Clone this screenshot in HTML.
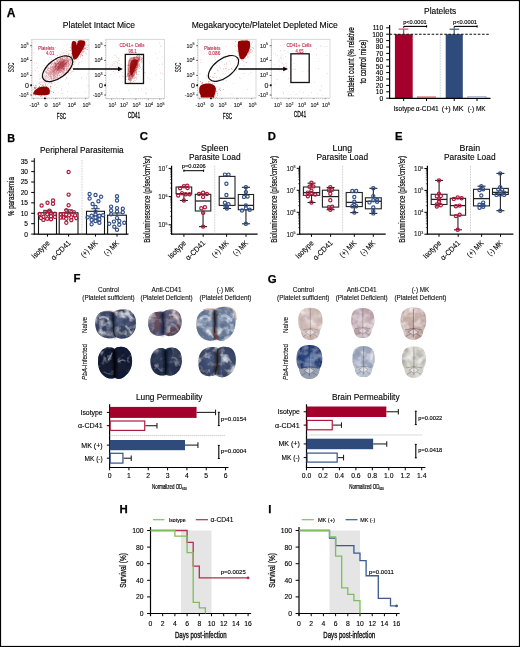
<!DOCTYPE html>
<html><head><meta charset="utf-8"><style>
html,body{margin:0;padding:0;background:#fff;}
svg{display:block;font-family:"Liberation Sans", sans-serif;will-change:transform;}
</style></head><body>
<svg width="520" height="647" viewBox="0 0 520 647">
<defs><filter id="bl"><feGaussianBlur stdDeviation="0.7"/></filter><radialGradient id="og1" cx="50%" cy="45%" r="65%"><stop offset="0" stop-color="#64729a"/><stop offset="1" stop-color="#2c3656"/></radialGradient><filter id="of1" x="-5%" y="-5%" width="110%" height="110%">
<feTurbulence type="fractalNoise" baseFrequency="0.11" numOctaves="3" seed="11" result="n"/>
<feColorMatrix in="n" type="matrix" values="0 0 0 0 0.800  0 0 0 0 0.839  0 0 0 0 0.918  2.6 0 0 0 -1.1" result="w"/>
<feComposite in="w" in2="SourceGraphic" operator="in" result="wc"/>
<feColorMatrix in="n" type="matrix" values="0 0 0 0 0.039  0 0 0 0 0.055  0 0 0 0 0.110  0 3 0 0 -1.05" result="d"/>
<feComposite in="d" in2="SourceGraphic" operator="in" result="dc"/>
<feMerge><feMergeNode in="SourceGraphic"/><feMergeNode in="wc"/><feMergeNode in="dc"/></feMerge>
</filter><radialGradient id="og2" cx="50%" cy="45%" r="65%"><stop offset="0" stop-color="#7a6070"/><stop offset="1" stop-color="#48323f"/></radialGradient><filter id="of2" x="-5%" y="-5%" width="110%" height="110%">
<feTurbulence type="fractalNoise" baseFrequency="0.11" numOctaves="3" seed="12" result="n"/>
<feColorMatrix in="n" type="matrix" values="0 0 0 0 0.769  0 0 0 0 0.682  0 0 0 0 0.733  2.4 0 0 0 -1.05" result="w"/>
<feComposite in="w" in2="SourceGraphic" operator="in" result="wc"/>
<feColorMatrix in="n" type="matrix" values="0 0 0 0 0.094  0 0 0 0 0.125  0 0 0 0 0.235  0 2.6 0 0 -1.05" result="d"/>
<feComposite in="d" in2="SourceGraphic" operator="in" result="dc"/>
<feMerge><feMergeNode in="SourceGraphic"/><feMergeNode in="wc"/><feMergeNode in="dc"/></feMerge>
</filter><radialGradient id="og3" cx="50%" cy="45%" r="65%"><stop offset="0" stop-color="#90a4c0"/><stop offset="1" stop-color="#5a6e92"/></radialGradient><filter id="of3" x="-5%" y="-5%" width="110%" height="110%">
<feTurbulence type="fractalNoise" baseFrequency="0.11" numOctaves="3" seed="13" result="n"/>
<feColorMatrix in="n" type="matrix" values="0 0 0 0 0.886  0 0 0 0 0.910  0 0 0 0 0.949  2.6 0 0 0 -1.1" result="w"/>
<feComposite in="w" in2="SourceGraphic" operator="in" result="wc"/>
<feColorMatrix in="n" type="matrix" values="0 0 0 0 0.110  0 0 0 0 0.165  0 0 0 0 0.267  0 2.8 0 0 -1.0" result="d"/>
<feComposite in="d" in2="SourceGraphic" operator="in" result="dc"/>
<feMerge><feMergeNode in="SourceGraphic"/><feMergeNode in="wc"/><feMergeNode in="dc"/></feMerge>
</filter><radialGradient id="og4" cx="50%" cy="45%" r="65%"><stop offset="0" stop-color="#181e32"/><stop offset="1" stop-color="#182040"/></radialGradient><filter id="of4" x="-5%" y="-5%" width="110%" height="110%">
<feTurbulence type="fractalNoise" baseFrequency="0.11" numOctaves="3" seed="14" result="n"/>
<feColorMatrix in="n" type="matrix" values="0 0 0 0 0.541  0 0 0 0 0.604  0 0 0 0 0.753  2.2 0 0 0 -1.2" result="w"/>
<feComposite in="w" in2="SourceGraphic" operator="in" result="wc"/>
<feColorMatrix in="n" type="matrix" values="0 0 0 0 0.008  0 0 0 0 0.012  0 0 0 0 0.031  0 2.6 0 0 -0.6" result="d"/>
<feComposite in="d" in2="SourceGraphic" operator="in" result="dc"/>
<feMerge><feMergeNode in="SourceGraphic"/><feMergeNode in="wc"/><feMergeNode in="dc"/></feMerge>
</filter><radialGradient id="og5" cx="50%" cy="45%" r="65%"><stop offset="0" stop-color="#303c5a"/><stop offset="1" stop-color="#1c2440"/></radialGradient><filter id="of5" x="-5%" y="-5%" width="110%" height="110%">
<feTurbulence type="fractalNoise" baseFrequency="0.11" numOctaves="3" seed="15" result="n"/>
<feColorMatrix in="n" type="matrix" values="0 0 0 0 0.541  0 0 0 0 0.604  0 0 0 0 0.729  2.2 0 0 0 -1.15" result="w"/>
<feComposite in="w" in2="SourceGraphic" operator="in" result="wc"/>
<feColorMatrix in="n" type="matrix" values="0 0 0 0 0.031  0 0 0 0 0.047  0 0 0 0 0.094  0 2.6 0 0 -0.8" result="d"/>
<feComposite in="d" in2="SourceGraphic" operator="in" result="dc"/>
<feMerge><feMergeNode in="SourceGraphic"/><feMergeNode in="wc"/><feMergeNode in="dc"/></feMerge>
</filter><radialGradient id="og6" cx="50%" cy="45%" r="65%"><stop offset="0" stop-color="#56668e"/><stop offset="1" stop-color="#2c385c"/></radialGradient><filter id="of6" x="-5%" y="-5%" width="110%" height="110%">
<feTurbulence type="fractalNoise" baseFrequency="0.11" numOctaves="3" seed="16" result="n"/>
<feColorMatrix in="n" type="matrix" values="0 0 0 0 0.706  0 0 0 0 0.761  0 0 0 0 0.863  2.6 0 0 0 -1.2" result="w"/>
<feComposite in="w" in2="SourceGraphic" operator="in" result="wc"/>
<feColorMatrix in="n" type="matrix" values="0 0 0 0 0.047  0 0 0 0 0.063  0 0 0 0 0.125  0 2.6 0 0 -0.95" result="d"/>
<feComposite in="d" in2="SourceGraphic" operator="in" result="dc"/>
<feMerge><feMergeNode in="SourceGraphic"/><feMergeNode in="wc"/><feMergeNode in="dc"/></feMerge>
</filter><filter id="bl2" filterUnits="userSpaceOnUse" x="0" y="0" width="520" height="647"><feGaussianBlur stdDeviation="1.2"/></filter><filter id="bl3" filterUnits="userSpaceOnUse" x="0" y="0" width="520" height="647"><feGaussianBlur stdDeviation="0.7"/></filter><radialGradient id="og7" cx="50%" cy="40%" r="62%"><stop offset="0" stop-color="#dccbc4"/><stop offset="1" stop-color="#c0aaa2"/></radialGradient><filter id="of7" x="-5%" y="-5%" width="110%" height="110%">
<feTurbulence type="fractalNoise" baseFrequency="0.13" numOctaves="3" seed="17" result="n"/>
<feColorMatrix in="n" type="matrix" values="0 0 0 0 0.929  0 0 0 0 0.902  0 0 0 0 0.894  2.0 0 0 0 -0.8" result="w"/>
<feComposite in="w" in2="SourceGraphic" operator="in" result="wc"/>
<feColorMatrix in="n" type="matrix" values="0 0 0 0 0.502  0 0 0 0 0.376  0 0 0 0 0.408  0 1.8 0 0 -0.85" result="d"/>
<feComposite in="d" in2="SourceGraphic" operator="in" result="dc"/>
<feMerge><feMergeNode in="SourceGraphic"/><feMergeNode in="wc"/><feMergeNode in="dc"/></feMerge>
</filter><radialGradient id="og8" cx="50%" cy="40%" r="62%"><stop offset="0" stop-color="#d2bcc0"/><stop offset="1" stop-color="#b0969c"/></radialGradient><filter id="of8" x="-5%" y="-5%" width="110%" height="110%">
<feTurbulence type="fractalNoise" baseFrequency="0.13" numOctaves="3" seed="18" result="n"/>
<feColorMatrix in="n" type="matrix" values="0 0 0 0 0.910  0 0 0 0 0.871  0 0 0 0 0.886  2.0 0 0 0 -0.8" result="w"/>
<feComposite in="w" in2="SourceGraphic" operator="in" result="wc"/>
<feColorMatrix in="n" type="matrix" values="0 0 0 0 0.439  0 0 0 0 0.345  0 0 0 0 0.439  0 1.8 0 0 -0.85" result="d"/>
<feComposite in="d" in2="SourceGraphic" operator="in" result="dc"/>
<feMerge><feMergeNode in="SourceGraphic"/><feMergeNode in="wc"/><feMergeNode in="dc"/></feMerge>
</filter><radialGradient id="og9" cx="50%" cy="40%" r="62%"><stop offset="0" stop-color="#d4bcb4"/><stop offset="1" stop-color="#b49890"/></radialGradient><filter id="of9" x="-5%" y="-5%" width="110%" height="110%">
<feTurbulence type="fractalNoise" baseFrequency="0.13" numOctaves="3" seed="19" result="n"/>
<feColorMatrix in="n" type="matrix" values="0 0 0 0 0.922  0 0 0 0 0.871  0 0 0 0 0.863  2.0 0 0 0 -0.8" result="w"/>
<feComposite in="w" in2="SourceGraphic" operator="in" result="wc"/>
<feColorMatrix in="n" type="matrix" values="0 0 0 0 0.416  0 0 0 0 0.290  0 0 0 0 0.314  0 1.8 0 0 -0.85" result="d"/>
<feComposite in="d" in2="SourceGraphic" operator="in" result="dc"/>
<feMerge><feMergeNode in="SourceGraphic"/><feMergeNode in="wc"/><feMergeNode in="dc"/></feMerge>
</filter><radialGradient id="og10" cx="50%" cy="40%" r="62%"><stop offset="0" stop-color="#2e4c88"/><stop offset="1" stop-color="#1c3066"/></radialGradient><filter id="of10" x="-5%" y="-5%" width="110%" height="110%">
<feTurbulence type="fractalNoise" baseFrequency="0.13" numOctaves="3" seed="20" result="n"/>
<feColorMatrix in="n" type="matrix" values="0 0 0 0 0.424  0 0 0 0 0.533  0 0 0 0 0.753  1.4 0 0 0 -0.5" result="w"/>
<feComposite in="w" in2="SourceGraphic" operator="in" result="wc"/>
<feColorMatrix in="n" type="matrix" values="0 0 0 0 0.039  0 0 0 0 0.078  0 0 0 0 0.188  0 1.8 0 0 -0.85" result="d"/>
<feComposite in="d" in2="SourceGraphic" operator="in" result="dc"/>
<feMerge><feMergeNode in="SourceGraphic"/><feMergeNode in="wc"/><feMergeNode in="dc"/></feMerge>
</filter><radialGradient id="og11" cx="50%" cy="40%" r="62%"><stop offset="0" stop-color="#aeb6c8"/><stop offset="1" stop-color="#8e9ab2"/></radialGradient><filter id="of11" x="-5%" y="-5%" width="110%" height="110%">
<feTurbulence type="fractalNoise" baseFrequency="0.13" numOctaves="3" seed="21" result="n"/>
<feColorMatrix in="n" type="matrix" values="0 0 0 0 0.867  0 0 0 0 0.882  0 0 0 0 0.918  2.0 0 0 0 -0.8" result="w"/>
<feComposite in="w" in2="SourceGraphic" operator="in" result="wc"/>
<feColorMatrix in="n" type="matrix" values="0 0 0 0 0.227  0 0 0 0 0.282  0 0 0 0 0.408  0 1.8 0 0 -0.85" result="d"/>
<feComposite in="d" in2="SourceGraphic" operator="in" result="dc"/>
<feMerge><feMergeNode in="SourceGraphic"/><feMergeNode in="wc"/><feMergeNode in="dc"/></feMerge>
</filter><radialGradient id="og12" cx="50%" cy="40%" r="62%"><stop offset="0" stop-color="#d6d4ca"/><stop offset="1" stop-color="#b8b6ac"/></radialGradient><filter id="of12" x="-5%" y="-5%" width="110%" height="110%">
<feTurbulence type="fractalNoise" baseFrequency="0.13" numOctaves="3" seed="22" result="n"/>
<feColorMatrix in="n" type="matrix" values="0 0 0 0 0.922  0 0 0 0 0.918  0 0 0 0 0.894  2.0 0 0 0 -0.8" result="w"/>
<feComposite in="w" in2="SourceGraphic" operator="in" result="wc"/>
<feColorMatrix in="n" type="matrix" values="0 0 0 0 0.314  0 0 0 0 0.314  0 0 0 0 0.376  0 1.8 0 0 -0.85" result="d"/>
<feComposite in="d" in2="SourceGraphic" operator="in" result="dc"/>
<feMerge><feMergeNode in="SourceGraphic"/><feMergeNode in="wc"/><feMergeNode in="dc"/></feMerge>
</filter></defs>
<rect width="520" height="647" fill="#fff"/>
<rect x="0.5" y="0.5" width="519" height="646" fill="none" stroke="#000" stroke-width="1.2"/>
<text x="6.8" y="16.8" font-size="12" stroke="#000" stroke-width="0.25" font-weight="bold">A</text>
<text x="62.8" y="28" font-size="8.8" stroke="#000" stroke-width="0.12" textLength="72.2" lengthAdjust="spacingAndGlyphs">Platelet Intact Mice</text>
<text x="191.7" y="28" font-size="8.8" stroke="#000" stroke-width="0.12" textLength="146" lengthAdjust="spacingAndGlyphs">Megakaryocyte/Platelet Depleted Mice</text>
<rect x="32" y="39.3" width="57" height="58.7" fill="#fff" stroke="#cfcfcf" stroke-width="0.8"/>
<line x1="30.2" y1="45.7" x2="32" y2="45.7" stroke="#333" stroke-width="0.8"/>
<text x="28.6" y="47.6" font-size="5.4" stroke="#222" stroke-width="0.12" text-anchor="end" fill="#222">10<tspan font-size="3.6" dy="-2.2">5</tspan></text>
<line x1="30.2" y1="60.4" x2="32" y2="60.4" stroke="#333" stroke-width="0.8"/>
<text x="28.6" y="62.3" font-size="5.4" stroke="#222" stroke-width="0.12" text-anchor="end" fill="#222">10<tspan font-size="3.6" dy="-2.2">4</tspan></text>
<line x1="30.2" y1="75.4" x2="32" y2="75.4" stroke="#333" stroke-width="0.8"/>
<text x="28.6" y="77.3" font-size="5.4" stroke="#222" stroke-width="0.12" text-anchor="end" fill="#222">10<tspan font-size="3.6" dy="-2.2">3</tspan></text>
<line x1="30.2" y1="85.4" x2="32" y2="85.4" stroke="#333" stroke-width="0.8"/>
<text x="28.8" y="87.8" font-size="7" stroke="#111" stroke-width="0.12" text-anchor="end" fill="#111">0</text>
<line x1="30.2" y1="95" x2="32" y2="95" stroke="#333" stroke-width="0.8"/>
<text x="28.6" y="96.9" font-size="5.4" stroke="#222" stroke-width="0.12" text-anchor="end" fill="#222">-10<tspan font-size="3.6" dy="-2.2">3</tspan></text>
<line x1="31.1" y1="40" x2="32" y2="40" stroke="#777" stroke-width="0.4"/>
<line x1="31.1" y1="42.52" x2="32" y2="42.52" stroke="#777" stroke-width="0.4"/>
<line x1="31.1" y1="45.04" x2="32" y2="45.04" stroke="#777" stroke-width="0.4"/>
<line x1="31.1" y1="47.57" x2="32" y2="47.57" stroke="#777" stroke-width="0.4"/>
<line x1="31.1" y1="50.09" x2="32" y2="50.09" stroke="#777" stroke-width="0.4"/>
<line x1="31.1" y1="52.61" x2="32" y2="52.61" stroke="#777" stroke-width="0.4"/>
<line x1="31.1" y1="55.13" x2="32" y2="55.13" stroke="#777" stroke-width="0.4"/>
<line x1="31.1" y1="57.65" x2="32" y2="57.65" stroke="#777" stroke-width="0.4"/>
<line x1="31.1" y1="60.17" x2="32" y2="60.17" stroke="#777" stroke-width="0.4"/>
<line x1="31.1" y1="62.7" x2="32" y2="62.7" stroke="#777" stroke-width="0.4"/>
<line x1="31.1" y1="65.22" x2="32" y2="65.22" stroke="#777" stroke-width="0.4"/>
<line x1="31.1" y1="67.74" x2="32" y2="67.74" stroke="#777" stroke-width="0.4"/>
<line x1="31.1" y1="70.26" x2="32" y2="70.26" stroke="#777" stroke-width="0.4"/>
<line x1="31.1" y1="72.78" x2="32" y2="72.78" stroke="#777" stroke-width="0.4"/>
<line x1="31.1" y1="75.3" x2="32" y2="75.3" stroke="#777" stroke-width="0.4"/>
<line x1="31.1" y1="77.83" x2="32" y2="77.83" stroke="#777" stroke-width="0.4"/>
<line x1="31.1" y1="80.35" x2="32" y2="80.35" stroke="#777" stroke-width="0.4"/>
<line x1="31.1" y1="82.87" x2="32" y2="82.87" stroke="#777" stroke-width="0.4"/>
<line x1="31.1" y1="85.39" x2="32" y2="85.39" stroke="#777" stroke-width="0.4"/>
<line x1="31.1" y1="87.91" x2="32" y2="87.91" stroke="#777" stroke-width="0.4"/>
<line x1="31.1" y1="90.43" x2="32" y2="90.43" stroke="#777" stroke-width="0.4"/>
<line x1="31.1" y1="92.96" x2="32" y2="92.96" stroke="#777" stroke-width="0.4"/>
<line x1="31.1" y1="95.48" x2="32" y2="95.48" stroke="#777" stroke-width="0.4"/>
<line x1="31.1" y1="98" x2="32" y2="98" stroke="#777" stroke-width="0.4"/>
<line x1="33.6" y1="98" x2="33.6" y2="99.3" stroke="#777" stroke-width="0.7"/>
<text x="34.4" y="106.9" font-size="5.4" stroke="#222" stroke-width="0.12" text-anchor="middle" fill="#222">-10<tspan font-size="3.6" dy="-2.2">3</tspan></text>
<line x1="46" y1="98" x2="46" y2="99.3" stroke="#777" stroke-width="0.7"/>
<text x="46" y="106.9" font-size="5.6" stroke="#222" stroke-width="0.12" text-anchor="middle" fill="#222">0</text>
<line x1="55.8" y1="98" x2="55.8" y2="99.3" stroke="#777" stroke-width="0.7"/>
<text x="56.6" y="106.9" font-size="5.4" stroke="#222" stroke-width="0.12" text-anchor="middle" fill="#222">10<tspan font-size="3.6" dy="-2.2">3</tspan></text>
<line x1="71" y1="98" x2="71" y2="99.3" stroke="#777" stroke-width="0.7"/>
<text x="71.8" y="106.9" font-size="5.4" stroke="#222" stroke-width="0.12" text-anchor="middle" fill="#222">10<tspan font-size="3.6" dy="-2.2">4</tspan></text>
<line x1="85.6" y1="98" x2="85.6" y2="99.3" stroke="#777" stroke-width="0.7"/>
<text x="86.4" y="106.9" font-size="5.4" stroke="#222" stroke-width="0.12" text-anchor="middle" fill="#222">10<tspan font-size="3.6" dy="-2.2">5</tspan></text>
<line x1="33" y1="98" x2="33" y2="98.9" stroke="#777" stroke-width="0.4"/>
<line x1="35.04" y1="98" x2="35.04" y2="98.9" stroke="#777" stroke-width="0.4"/>
<line x1="37.07" y1="98" x2="37.07" y2="98.9" stroke="#777" stroke-width="0.4"/>
<line x1="39.11" y1="98" x2="39.11" y2="98.9" stroke="#777" stroke-width="0.4"/>
<line x1="41.15" y1="98" x2="41.15" y2="98.9" stroke="#777" stroke-width="0.4"/>
<line x1="43.19" y1="98" x2="43.19" y2="98.9" stroke="#777" stroke-width="0.4"/>
<line x1="45.22" y1="98" x2="45.22" y2="98.9" stroke="#777" stroke-width="0.4"/>
<line x1="47.26" y1="98" x2="47.26" y2="98.9" stroke="#777" stroke-width="0.4"/>
<line x1="49.3" y1="98" x2="49.3" y2="98.9" stroke="#777" stroke-width="0.4"/>
<line x1="51.33" y1="98" x2="51.33" y2="98.9" stroke="#777" stroke-width="0.4"/>
<line x1="53.37" y1="98" x2="53.37" y2="98.9" stroke="#777" stroke-width="0.4"/>
<line x1="55.41" y1="98" x2="55.41" y2="98.9" stroke="#777" stroke-width="0.4"/>
<line x1="57.44" y1="98" x2="57.44" y2="98.9" stroke="#777" stroke-width="0.4"/>
<line x1="59.48" y1="98" x2="59.48" y2="98.9" stroke="#777" stroke-width="0.4"/>
<line x1="61.52" y1="98" x2="61.52" y2="98.9" stroke="#777" stroke-width="0.4"/>
<line x1="63.56" y1="98" x2="63.56" y2="98.9" stroke="#777" stroke-width="0.4"/>
<line x1="65.59" y1="98" x2="65.59" y2="98.9" stroke="#777" stroke-width="0.4"/>
<line x1="67.63" y1="98" x2="67.63" y2="98.9" stroke="#777" stroke-width="0.4"/>
<line x1="69.67" y1="98" x2="69.67" y2="98.9" stroke="#777" stroke-width="0.4"/>
<line x1="71.7" y1="98" x2="71.7" y2="98.9" stroke="#777" stroke-width="0.4"/>
<line x1="73.74" y1="98" x2="73.74" y2="98.9" stroke="#777" stroke-width="0.4"/>
<line x1="75.78" y1="98" x2="75.78" y2="98.9" stroke="#777" stroke-width="0.4"/>
<line x1="77.81" y1="98" x2="77.81" y2="98.9" stroke="#777" stroke-width="0.4"/>
<line x1="79.85" y1="98" x2="79.85" y2="98.9" stroke="#777" stroke-width="0.4"/>
<line x1="81.89" y1="98" x2="81.89" y2="98.9" stroke="#777" stroke-width="0.4"/>
<line x1="83.93" y1="98" x2="83.93" y2="98.9" stroke="#777" stroke-width="0.4"/>
<line x1="85.96" y1="98" x2="85.96" y2="98.9" stroke="#777" stroke-width="0.4"/>
<line x1="88" y1="98" x2="88" y2="98.9" stroke="#777" stroke-width="0.4"/>
<text x="61.5" y="118.5" font-size="8.8" stroke="#111" stroke-width="0.3" text-anchor="middle" fill="#111" textLength="9.3" lengthAdjust="spacingAndGlyphs">FSC</text>
<text transform="translate(14.2,67.4) rotate(-90)" font-size="8.2" stroke="#111" stroke-width="0.15" text-anchor="middle" fill="#111" textLength="9.6" lengthAdjust="spacingAndGlyphs">SSC</text>
<rect x="106" y="39.3" width="58.5" height="59.2" fill="#fff" stroke="#cfcfcf" stroke-width="0.8"/>
<line x1="104.2" y1="45.7" x2="106" y2="45.7" stroke="#333" stroke-width="0.8"/>
<text x="102.6" y="47.6" font-size="5.4" stroke="#222" stroke-width="0.12" text-anchor="end" fill="#222">10<tspan font-size="3.6" dy="-2.2">5</tspan></text>
<line x1="104.2" y1="60.4" x2="106" y2="60.4" stroke="#333" stroke-width="0.8"/>
<text x="102.6" y="62.3" font-size="5.4" stroke="#222" stroke-width="0.12" text-anchor="end" fill="#222">10<tspan font-size="3.6" dy="-2.2">4</tspan></text>
<line x1="104.2" y1="75.4" x2="106" y2="75.4" stroke="#333" stroke-width="0.8"/>
<text x="102.6" y="77.3" font-size="5.4" stroke="#222" stroke-width="0.12" text-anchor="end" fill="#222">10<tspan font-size="3.6" dy="-2.2">3</tspan></text>
<line x1="104.2" y1="85.4" x2="106" y2="85.4" stroke="#333" stroke-width="0.8"/>
<text x="102.8" y="87.8" font-size="7" stroke="#111" stroke-width="0.12" text-anchor="end" fill="#111">0</text>
<line x1="104.2" y1="95" x2="106" y2="95" stroke="#333" stroke-width="0.8"/>
<text x="102.6" y="96.9" font-size="5.4" stroke="#222" stroke-width="0.12" text-anchor="end" fill="#222">-10<tspan font-size="3.6" dy="-2.2">3</tspan></text>
<line x1="105.1" y1="40" x2="106" y2="40" stroke="#777" stroke-width="0.4"/>
<line x1="105.1" y1="42.52" x2="106" y2="42.52" stroke="#777" stroke-width="0.4"/>
<line x1="105.1" y1="45.04" x2="106" y2="45.04" stroke="#777" stroke-width="0.4"/>
<line x1="105.1" y1="47.57" x2="106" y2="47.57" stroke="#777" stroke-width="0.4"/>
<line x1="105.1" y1="50.09" x2="106" y2="50.09" stroke="#777" stroke-width="0.4"/>
<line x1="105.1" y1="52.61" x2="106" y2="52.61" stroke="#777" stroke-width="0.4"/>
<line x1="105.1" y1="55.13" x2="106" y2="55.13" stroke="#777" stroke-width="0.4"/>
<line x1="105.1" y1="57.65" x2="106" y2="57.65" stroke="#777" stroke-width="0.4"/>
<line x1="105.1" y1="60.17" x2="106" y2="60.17" stroke="#777" stroke-width="0.4"/>
<line x1="105.1" y1="62.7" x2="106" y2="62.7" stroke="#777" stroke-width="0.4"/>
<line x1="105.1" y1="65.22" x2="106" y2="65.22" stroke="#777" stroke-width="0.4"/>
<line x1="105.1" y1="67.74" x2="106" y2="67.74" stroke="#777" stroke-width="0.4"/>
<line x1="105.1" y1="70.26" x2="106" y2="70.26" stroke="#777" stroke-width="0.4"/>
<line x1="105.1" y1="72.78" x2="106" y2="72.78" stroke="#777" stroke-width="0.4"/>
<line x1="105.1" y1="75.3" x2="106" y2="75.3" stroke="#777" stroke-width="0.4"/>
<line x1="105.1" y1="77.83" x2="106" y2="77.83" stroke="#777" stroke-width="0.4"/>
<line x1="105.1" y1="80.35" x2="106" y2="80.35" stroke="#777" stroke-width="0.4"/>
<line x1="105.1" y1="82.87" x2="106" y2="82.87" stroke="#777" stroke-width="0.4"/>
<line x1="105.1" y1="85.39" x2="106" y2="85.39" stroke="#777" stroke-width="0.4"/>
<line x1="105.1" y1="87.91" x2="106" y2="87.91" stroke="#777" stroke-width="0.4"/>
<line x1="105.1" y1="90.43" x2="106" y2="90.43" stroke="#777" stroke-width="0.4"/>
<line x1="105.1" y1="92.96" x2="106" y2="92.96" stroke="#777" stroke-width="0.4"/>
<line x1="105.1" y1="95.48" x2="106" y2="95.48" stroke="#777" stroke-width="0.4"/>
<line x1="105.1" y1="98" x2="106" y2="98" stroke="#777" stroke-width="0.4"/>
<line x1="111.7" y1="98.5" x2="111.7" y2="99.8" stroke="#777" stroke-width="0.7"/>
<text x="112.5" y="107.4" font-size="5.4" stroke="#222" stroke-width="0.12" text-anchor="middle" fill="#222">10<tspan font-size="3.6" dy="-2.2">1</tspan></text>
<line x1="123.3" y1="98.5" x2="123.3" y2="99.8" stroke="#777" stroke-width="0.7"/>
<text x="124.1" y="107.4" font-size="5.4" stroke="#222" stroke-width="0.12" text-anchor="middle" fill="#222">10<tspan font-size="3.6" dy="-2.2">2</tspan></text>
<line x1="135.8" y1="98.5" x2="135.8" y2="99.8" stroke="#777" stroke-width="0.7"/>
<text x="136.6" y="107.4" font-size="5.4" stroke="#222" stroke-width="0.12" text-anchor="middle" fill="#222">10<tspan font-size="3.6" dy="-2.2">3</tspan></text>
<line x1="148.3" y1="98.5" x2="148.3" y2="99.8" stroke="#777" stroke-width="0.7"/>
<text x="149.1" y="107.4" font-size="5.4" stroke="#222" stroke-width="0.12" text-anchor="middle" fill="#222">10<tspan font-size="3.6" dy="-2.2">4</tspan></text>
<line x1="159.8" y1="98.5" x2="159.8" y2="99.8" stroke="#777" stroke-width="0.7"/>
<text x="160.6" y="107.4" font-size="5.4" stroke="#222" stroke-width="0.12" text-anchor="middle" fill="#222">10<tspan font-size="3.6" dy="-2.2">5</tspan></text>
<line x1="107" y1="98.5" x2="107" y2="99.4" stroke="#777" stroke-width="0.4"/>
<line x1="109.09" y1="98.5" x2="109.09" y2="99.4" stroke="#777" stroke-width="0.4"/>
<line x1="111.19" y1="98.5" x2="111.19" y2="99.4" stroke="#777" stroke-width="0.4"/>
<line x1="113.28" y1="98.5" x2="113.28" y2="99.4" stroke="#777" stroke-width="0.4"/>
<line x1="115.37" y1="98.5" x2="115.37" y2="99.4" stroke="#777" stroke-width="0.4"/>
<line x1="117.46" y1="98.5" x2="117.46" y2="99.4" stroke="#777" stroke-width="0.4"/>
<line x1="119.56" y1="98.5" x2="119.56" y2="99.4" stroke="#777" stroke-width="0.4"/>
<line x1="121.65" y1="98.5" x2="121.65" y2="99.4" stroke="#777" stroke-width="0.4"/>
<line x1="123.74" y1="98.5" x2="123.74" y2="99.4" stroke="#777" stroke-width="0.4"/>
<line x1="125.83" y1="98.5" x2="125.83" y2="99.4" stroke="#777" stroke-width="0.4"/>
<line x1="127.93" y1="98.5" x2="127.93" y2="99.4" stroke="#777" stroke-width="0.4"/>
<line x1="130.02" y1="98.5" x2="130.02" y2="99.4" stroke="#777" stroke-width="0.4"/>
<line x1="132.11" y1="98.5" x2="132.11" y2="99.4" stroke="#777" stroke-width="0.4"/>
<line x1="134.2" y1="98.5" x2="134.2" y2="99.4" stroke="#777" stroke-width="0.4"/>
<line x1="136.3" y1="98.5" x2="136.3" y2="99.4" stroke="#777" stroke-width="0.4"/>
<line x1="138.39" y1="98.5" x2="138.39" y2="99.4" stroke="#777" stroke-width="0.4"/>
<line x1="140.48" y1="98.5" x2="140.48" y2="99.4" stroke="#777" stroke-width="0.4"/>
<line x1="142.57" y1="98.5" x2="142.57" y2="99.4" stroke="#777" stroke-width="0.4"/>
<line x1="144.67" y1="98.5" x2="144.67" y2="99.4" stroke="#777" stroke-width="0.4"/>
<line x1="146.76" y1="98.5" x2="146.76" y2="99.4" stroke="#777" stroke-width="0.4"/>
<line x1="148.85" y1="98.5" x2="148.85" y2="99.4" stroke="#777" stroke-width="0.4"/>
<line x1="150.94" y1="98.5" x2="150.94" y2="99.4" stroke="#777" stroke-width="0.4"/>
<line x1="153.04" y1="98.5" x2="153.04" y2="99.4" stroke="#777" stroke-width="0.4"/>
<line x1="155.13" y1="98.5" x2="155.13" y2="99.4" stroke="#777" stroke-width="0.4"/>
<line x1="157.22" y1="98.5" x2="157.22" y2="99.4" stroke="#777" stroke-width="0.4"/>
<line x1="159.31" y1="98.5" x2="159.31" y2="99.4" stroke="#777" stroke-width="0.4"/>
<line x1="161.41" y1="98.5" x2="161.41" y2="99.4" stroke="#777" stroke-width="0.4"/>
<line x1="163.5" y1="98.5" x2="163.5" y2="99.4" stroke="#777" stroke-width="0.4"/>
<text x="134" y="117.8" font-size="8.8" stroke="#111" stroke-width="0.3" text-anchor="middle" fill="#111" textLength="12.7" lengthAdjust="spacingAndGlyphs">CD41</text>
<rect x="198" y="39.3" width="58" height="58.7" fill="#fff" stroke="#cfcfcf" stroke-width="0.8"/>
<line x1="196.2" y1="45.7" x2="198" y2="45.7" stroke="#333" stroke-width="0.8"/>
<text x="194.6" y="47.6" font-size="5.4" stroke="#222" stroke-width="0.12" text-anchor="end" fill="#222">10<tspan font-size="3.6" dy="-2.2">5</tspan></text>
<line x1="196.2" y1="60.4" x2="198" y2="60.4" stroke="#333" stroke-width="0.8"/>
<text x="194.6" y="62.3" font-size="5.4" stroke="#222" stroke-width="0.12" text-anchor="end" fill="#222">10<tspan font-size="3.6" dy="-2.2">4</tspan></text>
<line x1="196.2" y1="75.4" x2="198" y2="75.4" stroke="#333" stroke-width="0.8"/>
<text x="194.6" y="77.3" font-size="5.4" stroke="#222" stroke-width="0.12" text-anchor="end" fill="#222">10<tspan font-size="3.6" dy="-2.2">3</tspan></text>
<line x1="196.2" y1="85.4" x2="198" y2="85.4" stroke="#333" stroke-width="0.8"/>
<text x="194.8" y="87.8" font-size="7" stroke="#111" stroke-width="0.12" text-anchor="end" fill="#111">0</text>
<line x1="196.2" y1="95" x2="198" y2="95" stroke="#333" stroke-width="0.8"/>
<text x="194.6" y="96.9" font-size="5.4" stroke="#222" stroke-width="0.12" text-anchor="end" fill="#222">-10<tspan font-size="3.6" dy="-2.2">3</tspan></text>
<line x1="197.1" y1="40" x2="198" y2="40" stroke="#777" stroke-width="0.4"/>
<line x1="197.1" y1="42.52" x2="198" y2="42.52" stroke="#777" stroke-width="0.4"/>
<line x1="197.1" y1="45.04" x2="198" y2="45.04" stroke="#777" stroke-width="0.4"/>
<line x1="197.1" y1="47.57" x2="198" y2="47.57" stroke="#777" stroke-width="0.4"/>
<line x1="197.1" y1="50.09" x2="198" y2="50.09" stroke="#777" stroke-width="0.4"/>
<line x1="197.1" y1="52.61" x2="198" y2="52.61" stroke="#777" stroke-width="0.4"/>
<line x1="197.1" y1="55.13" x2="198" y2="55.13" stroke="#777" stroke-width="0.4"/>
<line x1="197.1" y1="57.65" x2="198" y2="57.65" stroke="#777" stroke-width="0.4"/>
<line x1="197.1" y1="60.17" x2="198" y2="60.17" stroke="#777" stroke-width="0.4"/>
<line x1="197.1" y1="62.7" x2="198" y2="62.7" stroke="#777" stroke-width="0.4"/>
<line x1="197.1" y1="65.22" x2="198" y2="65.22" stroke="#777" stroke-width="0.4"/>
<line x1="197.1" y1="67.74" x2="198" y2="67.74" stroke="#777" stroke-width="0.4"/>
<line x1="197.1" y1="70.26" x2="198" y2="70.26" stroke="#777" stroke-width="0.4"/>
<line x1="197.1" y1="72.78" x2="198" y2="72.78" stroke="#777" stroke-width="0.4"/>
<line x1="197.1" y1="75.3" x2="198" y2="75.3" stroke="#777" stroke-width="0.4"/>
<line x1="197.1" y1="77.83" x2="198" y2="77.83" stroke="#777" stroke-width="0.4"/>
<line x1="197.1" y1="80.35" x2="198" y2="80.35" stroke="#777" stroke-width="0.4"/>
<line x1="197.1" y1="82.87" x2="198" y2="82.87" stroke="#777" stroke-width="0.4"/>
<line x1="197.1" y1="85.39" x2="198" y2="85.39" stroke="#777" stroke-width="0.4"/>
<line x1="197.1" y1="87.91" x2="198" y2="87.91" stroke="#777" stroke-width="0.4"/>
<line x1="197.1" y1="90.43" x2="198" y2="90.43" stroke="#777" stroke-width="0.4"/>
<line x1="197.1" y1="92.96" x2="198" y2="92.96" stroke="#777" stroke-width="0.4"/>
<line x1="197.1" y1="95.48" x2="198" y2="95.48" stroke="#777" stroke-width="0.4"/>
<line x1="197.1" y1="98" x2="198" y2="98" stroke="#777" stroke-width="0.4"/>
<line x1="199.6" y1="98" x2="199.6" y2="99.3" stroke="#777" stroke-width="0.7"/>
<text x="200.4" y="106.9" font-size="5.4" stroke="#222" stroke-width="0.12" text-anchor="middle" fill="#222">-10<tspan font-size="3.6" dy="-2.2">3</tspan></text>
<line x1="212" y1="98" x2="212" y2="99.3" stroke="#777" stroke-width="0.7"/>
<text x="212" y="106.9" font-size="5.6" stroke="#222" stroke-width="0.12" text-anchor="middle" fill="#222">0</text>
<line x1="221.8" y1="98" x2="221.8" y2="99.3" stroke="#777" stroke-width="0.7"/>
<text x="222.6" y="106.9" font-size="5.4" stroke="#222" stroke-width="0.12" text-anchor="middle" fill="#222">10<tspan font-size="3.6" dy="-2.2">3</tspan></text>
<line x1="237" y1="98" x2="237" y2="99.3" stroke="#777" stroke-width="0.7"/>
<text x="237.8" y="106.9" font-size="5.4" stroke="#222" stroke-width="0.12" text-anchor="middle" fill="#222">10<tspan font-size="3.6" dy="-2.2">4</tspan></text>
<line x1="251.6" y1="98" x2="251.6" y2="99.3" stroke="#777" stroke-width="0.7"/>
<text x="252.4" y="106.9" font-size="5.4" stroke="#222" stroke-width="0.12" text-anchor="middle" fill="#222">10<tspan font-size="3.6" dy="-2.2">5</tspan></text>
<line x1="199" y1="98" x2="199" y2="98.9" stroke="#777" stroke-width="0.4"/>
<line x1="201.07" y1="98" x2="201.07" y2="98.9" stroke="#777" stroke-width="0.4"/>
<line x1="203.15" y1="98" x2="203.15" y2="98.9" stroke="#777" stroke-width="0.4"/>
<line x1="205.22" y1="98" x2="205.22" y2="98.9" stroke="#777" stroke-width="0.4"/>
<line x1="207.3" y1="98" x2="207.3" y2="98.9" stroke="#777" stroke-width="0.4"/>
<line x1="209.37" y1="98" x2="209.37" y2="98.9" stroke="#777" stroke-width="0.4"/>
<line x1="211.44" y1="98" x2="211.44" y2="98.9" stroke="#777" stroke-width="0.4"/>
<line x1="213.52" y1="98" x2="213.52" y2="98.9" stroke="#777" stroke-width="0.4"/>
<line x1="215.59" y1="98" x2="215.59" y2="98.9" stroke="#777" stroke-width="0.4"/>
<line x1="217.67" y1="98" x2="217.67" y2="98.9" stroke="#777" stroke-width="0.4"/>
<line x1="219.74" y1="98" x2="219.74" y2="98.9" stroke="#777" stroke-width="0.4"/>
<line x1="221.81" y1="98" x2="221.81" y2="98.9" stroke="#777" stroke-width="0.4"/>
<line x1="223.89" y1="98" x2="223.89" y2="98.9" stroke="#777" stroke-width="0.4"/>
<line x1="225.96" y1="98" x2="225.96" y2="98.9" stroke="#777" stroke-width="0.4"/>
<line x1="228.04" y1="98" x2="228.04" y2="98.9" stroke="#777" stroke-width="0.4"/>
<line x1="230.11" y1="98" x2="230.11" y2="98.9" stroke="#777" stroke-width="0.4"/>
<line x1="232.19" y1="98" x2="232.19" y2="98.9" stroke="#777" stroke-width="0.4"/>
<line x1="234.26" y1="98" x2="234.26" y2="98.9" stroke="#777" stroke-width="0.4"/>
<line x1="236.33" y1="98" x2="236.33" y2="98.9" stroke="#777" stroke-width="0.4"/>
<line x1="238.41" y1="98" x2="238.41" y2="98.9" stroke="#777" stroke-width="0.4"/>
<line x1="240.48" y1="98" x2="240.48" y2="98.9" stroke="#777" stroke-width="0.4"/>
<line x1="242.56" y1="98" x2="242.56" y2="98.9" stroke="#777" stroke-width="0.4"/>
<line x1="244.63" y1="98" x2="244.63" y2="98.9" stroke="#777" stroke-width="0.4"/>
<line x1="246.7" y1="98" x2="246.7" y2="98.9" stroke="#777" stroke-width="0.4"/>
<line x1="248.78" y1="98" x2="248.78" y2="98.9" stroke="#777" stroke-width="0.4"/>
<line x1="250.85" y1="98" x2="250.85" y2="98.9" stroke="#777" stroke-width="0.4"/>
<line x1="252.93" y1="98" x2="252.93" y2="98.9" stroke="#777" stroke-width="0.4"/>
<line x1="255" y1="98" x2="255" y2="98.9" stroke="#777" stroke-width="0.4"/>
<text x="227.5" y="118.5" font-size="8.8" stroke="#111" stroke-width="0.3" text-anchor="middle" fill="#111" textLength="9.3" lengthAdjust="spacingAndGlyphs">FSC</text>
<text transform="translate(180.8,67.5) rotate(-90)" font-size="8.2" stroke="#111" stroke-width="0.15" text-anchor="middle" fill="#111" textLength="9.6" lengthAdjust="spacingAndGlyphs">SSC</text>
<rect x="271.5" y="39.3" width="58.5" height="58.7" fill="#fff" stroke="#cfcfcf" stroke-width="0.8"/>
<line x1="269.7" y1="45.7" x2="271.5" y2="45.7" stroke="#333" stroke-width="0.8"/>
<text x="268.1" y="47.6" font-size="5.4" stroke="#222" stroke-width="0.12" text-anchor="end" fill="#222">10<tspan font-size="3.6" dy="-2.2">5</tspan></text>
<line x1="269.7" y1="60.4" x2="271.5" y2="60.4" stroke="#333" stroke-width="0.8"/>
<text x="268.1" y="62.3" font-size="5.4" stroke="#222" stroke-width="0.12" text-anchor="end" fill="#222">10<tspan font-size="3.6" dy="-2.2">4</tspan></text>
<line x1="269.7" y1="75.4" x2="271.5" y2="75.4" stroke="#333" stroke-width="0.8"/>
<text x="268.1" y="77.3" font-size="5.4" stroke="#222" stroke-width="0.12" text-anchor="end" fill="#222">10<tspan font-size="3.6" dy="-2.2">3</tspan></text>
<line x1="269.7" y1="85.4" x2="271.5" y2="85.4" stroke="#333" stroke-width="0.8"/>
<text x="268.3" y="87.8" font-size="7" stroke="#111" stroke-width="0.12" text-anchor="end" fill="#111">0</text>
<line x1="269.7" y1="95" x2="271.5" y2="95" stroke="#333" stroke-width="0.8"/>
<text x="268.1" y="96.9" font-size="5.4" stroke="#222" stroke-width="0.12" text-anchor="end" fill="#222">-10<tspan font-size="3.6" dy="-2.2">3</tspan></text>
<line x1="270.6" y1="40" x2="271.5" y2="40" stroke="#777" stroke-width="0.4"/>
<line x1="270.6" y1="42.52" x2="271.5" y2="42.52" stroke="#777" stroke-width="0.4"/>
<line x1="270.6" y1="45.04" x2="271.5" y2="45.04" stroke="#777" stroke-width="0.4"/>
<line x1="270.6" y1="47.57" x2="271.5" y2="47.57" stroke="#777" stroke-width="0.4"/>
<line x1="270.6" y1="50.09" x2="271.5" y2="50.09" stroke="#777" stroke-width="0.4"/>
<line x1="270.6" y1="52.61" x2="271.5" y2="52.61" stroke="#777" stroke-width="0.4"/>
<line x1="270.6" y1="55.13" x2="271.5" y2="55.13" stroke="#777" stroke-width="0.4"/>
<line x1="270.6" y1="57.65" x2="271.5" y2="57.65" stroke="#777" stroke-width="0.4"/>
<line x1="270.6" y1="60.17" x2="271.5" y2="60.17" stroke="#777" stroke-width="0.4"/>
<line x1="270.6" y1="62.7" x2="271.5" y2="62.7" stroke="#777" stroke-width="0.4"/>
<line x1="270.6" y1="65.22" x2="271.5" y2="65.22" stroke="#777" stroke-width="0.4"/>
<line x1="270.6" y1="67.74" x2="271.5" y2="67.74" stroke="#777" stroke-width="0.4"/>
<line x1="270.6" y1="70.26" x2="271.5" y2="70.26" stroke="#777" stroke-width="0.4"/>
<line x1="270.6" y1="72.78" x2="271.5" y2="72.78" stroke="#777" stroke-width="0.4"/>
<line x1="270.6" y1="75.3" x2="271.5" y2="75.3" stroke="#777" stroke-width="0.4"/>
<line x1="270.6" y1="77.83" x2="271.5" y2="77.83" stroke="#777" stroke-width="0.4"/>
<line x1="270.6" y1="80.35" x2="271.5" y2="80.35" stroke="#777" stroke-width="0.4"/>
<line x1="270.6" y1="82.87" x2="271.5" y2="82.87" stroke="#777" stroke-width="0.4"/>
<line x1="270.6" y1="85.39" x2="271.5" y2="85.39" stroke="#777" stroke-width="0.4"/>
<line x1="270.6" y1="87.91" x2="271.5" y2="87.91" stroke="#777" stroke-width="0.4"/>
<line x1="270.6" y1="90.43" x2="271.5" y2="90.43" stroke="#777" stroke-width="0.4"/>
<line x1="270.6" y1="92.96" x2="271.5" y2="92.96" stroke="#777" stroke-width="0.4"/>
<line x1="270.6" y1="95.48" x2="271.5" y2="95.48" stroke="#777" stroke-width="0.4"/>
<line x1="270.6" y1="98" x2="271.5" y2="98" stroke="#777" stroke-width="0.4"/>
<line x1="277.2" y1="98" x2="277.2" y2="99.3" stroke="#777" stroke-width="0.7"/>
<text x="278" y="106.9" font-size="5.4" stroke="#222" stroke-width="0.12" text-anchor="middle" fill="#222">10<tspan font-size="3.6" dy="-2.2">1</tspan></text>
<line x1="288.8" y1="98" x2="288.8" y2="99.3" stroke="#777" stroke-width="0.7"/>
<text x="289.6" y="106.9" font-size="5.4" stroke="#222" stroke-width="0.12" text-anchor="middle" fill="#222">10<tspan font-size="3.6" dy="-2.2">2</tspan></text>
<line x1="301.3" y1="98" x2="301.3" y2="99.3" stroke="#777" stroke-width="0.7"/>
<text x="302.1" y="106.9" font-size="5.4" stroke="#222" stroke-width="0.12" text-anchor="middle" fill="#222">10<tspan font-size="3.6" dy="-2.2">3</tspan></text>
<line x1="313.8" y1="98" x2="313.8" y2="99.3" stroke="#777" stroke-width="0.7"/>
<text x="314.6" y="106.9" font-size="5.4" stroke="#222" stroke-width="0.12" text-anchor="middle" fill="#222">10<tspan font-size="3.6" dy="-2.2">4</tspan></text>
<line x1="325.3" y1="98" x2="325.3" y2="99.3" stroke="#777" stroke-width="0.7"/>
<text x="326.1" y="106.9" font-size="5.4" stroke="#222" stroke-width="0.12" text-anchor="middle" fill="#222">10<tspan font-size="3.6" dy="-2.2">5</tspan></text>
<line x1="272.5" y1="98" x2="272.5" y2="98.9" stroke="#777" stroke-width="0.4"/>
<line x1="274.59" y1="98" x2="274.59" y2="98.9" stroke="#777" stroke-width="0.4"/>
<line x1="276.69" y1="98" x2="276.69" y2="98.9" stroke="#777" stroke-width="0.4"/>
<line x1="278.78" y1="98" x2="278.78" y2="98.9" stroke="#777" stroke-width="0.4"/>
<line x1="280.87" y1="98" x2="280.87" y2="98.9" stroke="#777" stroke-width="0.4"/>
<line x1="282.96" y1="98" x2="282.96" y2="98.9" stroke="#777" stroke-width="0.4"/>
<line x1="285.06" y1="98" x2="285.06" y2="98.9" stroke="#777" stroke-width="0.4"/>
<line x1="287.15" y1="98" x2="287.15" y2="98.9" stroke="#777" stroke-width="0.4"/>
<line x1="289.24" y1="98" x2="289.24" y2="98.9" stroke="#777" stroke-width="0.4"/>
<line x1="291.33" y1="98" x2="291.33" y2="98.9" stroke="#777" stroke-width="0.4"/>
<line x1="293.43" y1="98" x2="293.43" y2="98.9" stroke="#777" stroke-width="0.4"/>
<line x1="295.52" y1="98" x2="295.52" y2="98.9" stroke="#777" stroke-width="0.4"/>
<line x1="297.61" y1="98" x2="297.61" y2="98.9" stroke="#777" stroke-width="0.4"/>
<line x1="299.7" y1="98" x2="299.7" y2="98.9" stroke="#777" stroke-width="0.4"/>
<line x1="301.8" y1="98" x2="301.8" y2="98.9" stroke="#777" stroke-width="0.4"/>
<line x1="303.89" y1="98" x2="303.89" y2="98.9" stroke="#777" stroke-width="0.4"/>
<line x1="305.98" y1="98" x2="305.98" y2="98.9" stroke="#777" stroke-width="0.4"/>
<line x1="308.07" y1="98" x2="308.07" y2="98.9" stroke="#777" stroke-width="0.4"/>
<line x1="310.17" y1="98" x2="310.17" y2="98.9" stroke="#777" stroke-width="0.4"/>
<line x1="312.26" y1="98" x2="312.26" y2="98.9" stroke="#777" stroke-width="0.4"/>
<line x1="314.35" y1="98" x2="314.35" y2="98.9" stroke="#777" stroke-width="0.4"/>
<line x1="316.44" y1="98" x2="316.44" y2="98.9" stroke="#777" stroke-width="0.4"/>
<line x1="318.54" y1="98" x2="318.54" y2="98.9" stroke="#777" stroke-width="0.4"/>
<line x1="320.63" y1="98" x2="320.63" y2="98.9" stroke="#777" stroke-width="0.4"/>
<line x1="322.72" y1="98" x2="322.72" y2="98.9" stroke="#777" stroke-width="0.4"/>
<line x1="324.81" y1="98" x2="324.81" y2="98.9" stroke="#777" stroke-width="0.4"/>
<line x1="326.91" y1="98" x2="326.91" y2="98.9" stroke="#777" stroke-width="0.4"/>
<line x1="329" y1="98" x2="329" y2="98.9" stroke="#777" stroke-width="0.4"/>
<text x="300" y="117.3" font-size="8.8" stroke="#111" stroke-width="0.3" text-anchor="middle" fill="#111" textLength="12.7" lengthAdjust="spacingAndGlyphs">CD41</text>
<path d="M67.38 91.35h0.6v0.6h-0.6zM75.66 54.39h0.6v0.6h-0.6zM49.51 90.05h0.6v0.6h-0.6zM33.29 87.17h0.6v0.6h-0.6zM76.84 67.74h0.6v0.6h-0.6zM49.67 57.31h0.6v0.6h-0.6zM47.02 66.48h0.6v0.6h-0.6zM60.75 72.44h0.6v0.6h-0.6zM87.75 85.6h0.6v0.6h-0.6zM67.22 96.39h0.6v0.6h-0.6zM44.84 50.81h0.6v0.6h-0.6zM66.69 44.42h0.6v0.6h-0.6zM34.96 70.32h0.6v0.6h-0.6zM58.64 92.44h0.6v0.6h-0.6zM67.61 70.28h0.6v0.6h-0.6zM60.33 55.61h0.6v0.6h-0.6zM33.65 52.58h0.6v0.6h-0.6zM71.06 53.03h0.6v0.6h-0.6zM53.32 42.21h0.6v0.6h-0.6zM78.65 50.5h0.6v0.6h-0.6zM47.72 90.42h0.6v0.6h-0.6zM61.04 88.59h0.6v0.6h-0.6zM68.18 82.8h0.6v0.6h-0.6zM38.03 71.76h0.6v0.6h-0.6zM60.93 89.92h0.6v0.6h-0.6zM52.87 74.9h0.6v0.6h-0.6zM36.26 63.32h0.6v0.6h-0.6zM50.77 50.26h0.6v0.6h-0.6zM77.9 62.87h0.6v0.6h-0.6zM86.83 74.45h0.6v0.6h-0.6zM66.28 77.09h0.6v0.6h-0.6zM70.2 50.29h0.6v0.6h-0.6zM57.22 55.18h0.6v0.6h-0.6zM55.14 47.32h0.6v0.6h-0.6zM86.23 53.83h0.6v0.6h-0.6zM69.95 58.52h0.6v0.6h-0.6zM81.07 78.42h0.6v0.6h-0.6zM40.24 88.48h0.6v0.6h-0.6zM84.97 91.72h0.6v0.6h-0.6zM64.33 50h0.6v0.6h-0.6zM43.59 93.03h0.6v0.6h-0.6zM63.38 51.93h0.6v0.6h-0.6zM81.62 77.29h0.6v0.6h-0.6zM64.33 62.7h0.6v0.6h-0.6zM55.6 55.17h0.6v0.6h-0.6zM35.09 90.19h0.6v0.6h-0.6zM58.73 72.12h0.6v0.6h-0.6zM50.72 83.32h0.6v0.6h-0.6zM34.39 62.47h0.6v0.6h-0.6zM34.67 48.76h0.6v0.6h-0.6zM86.19 78.18h0.6v0.6h-0.6zM56.55 70.81h0.6v0.6h-0.6zM81 60.93h0.6v0.6h-0.6zM65.47 79.6h0.6v0.6h-0.6zM52.55 70.55h0.6v0.6h-0.6zM75.09 92h0.6v0.6h-0.6zM41.31 93.34h0.6v0.6h-0.6zM33.28 83.41h0.6v0.6h-0.6zM77.58 49.52h0.6v0.6h-0.6zM56.04 86.84h0.6v0.6h-0.6z" fill="#d04050" opacity="0.55"/>
<path d="M60.02 66.79h0.6v0.6h-0.6zM54.23 70.2h0.6v0.6h-0.6zM42.19 74.21h0.6v0.6h-0.6zM55.43 58.56h0.6v0.6h-0.6zM59.66 57.29h0.6v0.6h-0.6zM61.38 60.74h0.6v0.6h-0.6zM64.06 63.86h0.6v0.6h-0.6zM51.44 79.68h0.6v0.6h-0.6zM67.99 59.74h0.6v0.6h-0.6zM56.25 68.4h0.6v0.6h-0.6zM54.81 76.24h0.6v0.6h-0.6zM54.73 70.17h0.6v0.6h-0.6zM51.57 69.58h0.6v0.6h-0.6zM53.19 78.35h0.6v0.6h-0.6zM59.97 71.5h0.6v0.6h-0.6zM56.79 65.13h0.6v0.6h-0.6zM54.86 67.36h0.6v0.6h-0.6zM57.58 66.22h0.6v0.6h-0.6zM52.93 64.51h0.6v0.6h-0.6zM57.37 77.2h0.6v0.6h-0.6zM51.28 67.52h0.6v0.6h-0.6zM64.4 70.39h0.6v0.6h-0.6zM48.22 74.42h0.6v0.6h-0.6zM49.71 64.98h0.6v0.6h-0.6zM63.36 63.58h0.6v0.6h-0.6zM57.03 64.64h0.6v0.6h-0.6zM60.15 63.34h0.6v0.6h-0.6zM54.68 64.58h0.6v0.6h-0.6zM53.81 78.28h0.6v0.6h-0.6zM55.86 71.12h0.6v0.6h-0.6zM57.13 66.22h0.6v0.6h-0.6zM56.73 72.24h0.6v0.6h-0.6zM56.09 68.58h0.6v0.6h-0.6zM61.69 71.28h0.6v0.6h-0.6zM64.05 65.21h0.6v0.6h-0.6zM51.15 65.88h0.6v0.6h-0.6zM67.36 65.73h0.6v0.6h-0.6zM58.96 70.03h0.6v0.6h-0.6zM65.88 66.16h0.6v0.6h-0.6zM63.49 61.17h0.6v0.6h-0.6zM65.42 55.45h0.6v0.6h-0.6zM65.55 64.63h0.6v0.6h-0.6zM69.21 69.15h0.6v0.6h-0.6zM65.48 55.94h0.6v0.6h-0.6zM49.3 79.04h0.6v0.6h-0.6zM51.67 72.77h0.6v0.6h-0.6zM59.87 57.67h0.6v0.6h-0.6zM45.04 79.4h0.6v0.6h-0.6zM58.16 66.45h0.6v0.6h-0.6zM56.53 64.45h0.6v0.6h-0.6zM47.93 74.87h0.6v0.6h-0.6zM47.74 67.15h0.6v0.6h-0.6zM61.73 64.65h0.6v0.6h-0.6zM58.66 62.1h0.6v0.6h-0.6zM51.51 67.64h0.6v0.6h-0.6zM53.07 72.79h0.6v0.6h-0.6zM54.18 72.78h0.6v0.6h-0.6zM66.01 72.42h0.6v0.6h-0.6zM51.47 77.73h0.6v0.6h-0.6zM57.86 67.92h0.6v0.6h-0.6zM47.6 73.56h0.6v0.6h-0.6zM63.26 63.34h0.6v0.6h-0.6zM58.29 66.11h0.6v0.6h-0.6zM66.18 61.39h0.6v0.6h-0.6zM41.97 76.72h0.6v0.6h-0.6zM36.91 67.04h0.6v0.6h-0.6zM58.4 74.69h0.6v0.6h-0.6zM55.78 63.37h0.6v0.6h-0.6zM55.12 76.16h0.6v0.6h-0.6zM59.68 66.83h0.6v0.6h-0.6zM58.24 67.91h0.6v0.6h-0.6zM65.32 65.11h0.6v0.6h-0.6zM57.25 62.92h0.6v0.6h-0.6zM60.15 62.56h0.6v0.6h-0.6zM62.54 57.57h0.6v0.6h-0.6zM57.56 68.2h0.6v0.6h-0.6zM54.08 80.13h0.6v0.6h-0.6zM67.08 58.32h0.6v0.6h-0.6zM64.65 64.71h0.6v0.6h-0.6zM41.64 82.01h0.6v0.6h-0.6zM58.3 68.1h0.6v0.6h-0.6zM50.59 72.24h0.6v0.6h-0.6zM60.38 72.37h0.6v0.6h-0.6zM60.73 65.73h0.6v0.6h-0.6zM67.31 57.66h0.6v0.6h-0.6zM51.19 63.53h0.6v0.6h-0.6zM71.5 62.48h0.6v0.6h-0.6zM66.37 64.92h0.6v0.6h-0.6zM59.79 67.64h0.6v0.6h-0.6zM56.29 68.14h0.6v0.6h-0.6zM62.77 72.22h0.6v0.6h-0.6zM62.07 64.4h0.6v0.6h-0.6zM52.98 68.43h0.6v0.6h-0.6zM70.55 60.79h0.6v0.6h-0.6zM58.06 66h0.6v0.6h-0.6zM50.9 73.08h0.6v0.6h-0.6zM63.34 61.63h0.6v0.6h-0.6zM56.41 67.96h0.6v0.6h-0.6zM55.11 61.65h0.6v0.6h-0.6zM54.71 65.9h0.6v0.6h-0.6zM62.43 60.32h0.6v0.6h-0.6zM66.31 69.53h0.6v0.6h-0.6zM54.84 67.15h0.6v0.6h-0.6zM59.78 66.49h0.6v0.6h-0.6zM53.04 74.23h0.6v0.6h-0.6zM71.33 56.1h0.6v0.6h-0.6zM54.44 65.1h0.6v0.6h-0.6zM57.41 61.7h0.6v0.6h-0.6zM54.39 77.53h0.6v0.6h-0.6zM55.23 75.82h0.6v0.6h-0.6zM69.38 60.38h0.6v0.6h-0.6zM67.25 71.07h0.6v0.6h-0.6zM55.65 66.57h0.6v0.6h-0.6zM49.54 74.72h0.6v0.6h-0.6zM70.89 62.94h0.6v0.6h-0.6zM49.98 69.6h0.6v0.6h-0.6zM55.88 71.11h0.6v0.6h-0.6zM57.68 69.28h0.6v0.6h-0.6zM59.72 64.96h0.6v0.6h-0.6zM58.77 68.39h0.6v0.6h-0.6zM59.24 69.61h0.6v0.6h-0.6zM72.56 59.67h0.6v0.6h-0.6zM54.51 61.63h0.6v0.6h-0.6zM56.06 59.03h0.6v0.6h-0.6zM51.27 77.7h0.6v0.6h-0.6zM62.84 63.31h0.6v0.6h-0.6zM46.09 75.22h0.6v0.6h-0.6zM55.6 73.16h0.6v0.6h-0.6zM74.18 56.4h0.6v0.6h-0.6zM50.25 67.7h0.6v0.6h-0.6zM57.67 67.21h0.6v0.6h-0.6zM51.09 73.91h0.6v0.6h-0.6zM53.67 77.2h0.6v0.6h-0.6zM68.42 65.53h0.6v0.6h-0.6zM56.66 71.68h0.6v0.6h-0.6zM56.61 66.9h0.6v0.6h-0.6zM52.87 64.97h0.6v0.6h-0.6zM50.88 77.68h0.6v0.6h-0.6zM57.78 69.22h0.6v0.6h-0.6zM60.73 56.52h0.6v0.6h-0.6zM53.7 72.18h0.6v0.6h-0.6zM60.15 64.2h0.6v0.6h-0.6zM65.94 62.81h0.6v0.6h-0.6zM47.97 70.77h0.6v0.6h-0.6zM65.09 64.82h0.6v0.6h-0.6zM49.26 81.9h0.6v0.6h-0.6zM65.98 68.82h0.6v0.6h-0.6zM55.17 68.53h0.6v0.6h-0.6zM57.51 81.79h0.6v0.6h-0.6zM61.43 73.67h0.6v0.6h-0.6zM54.59 71.43h0.6v0.6h-0.6zM46.32 74.98h0.6v0.6h-0.6zM61.85 58.21h0.6v0.6h-0.6zM66.55 63.01h0.6v0.6h-0.6zM50.21 71.3h0.6v0.6h-0.6zM55.3 69.74h0.6v0.6h-0.6zM52.77 67.57h0.6v0.6h-0.6zM53.8 65.7h0.6v0.6h-0.6zM49.74 74.09h0.6v0.6h-0.6zM60.46 57.82h0.6v0.6h-0.6zM56.84 65.33h0.6v0.6h-0.6zM54.16 75.44h0.6v0.6h-0.6zM58.9 75.17h0.6v0.6h-0.6zM54.28 72.86h0.6v0.6h-0.6zM55.03 66.19h0.6v0.6h-0.6zM62.04 63.91h0.6v0.6h-0.6zM62.42 64.19h0.6v0.6h-0.6zM50.96 72.84h0.6v0.6h-0.6zM61.33 70.4h0.6v0.6h-0.6zM52.33 72.11h0.6v0.6h-0.6zM48.65 78.67h0.6v0.6h-0.6zM46.59 67.18h0.6v0.6h-0.6zM60.96 71.47h0.6v0.6h-0.6zM45.48 71.88h0.6v0.6h-0.6zM50.6 67.65h0.6v0.6h-0.6zM58.95 62.84h0.6v0.6h-0.6zM55.18 73.21h0.6v0.6h-0.6zM54.56 72.89h0.6v0.6h-0.6zM48.86 68.57h0.6v0.6h-0.6zM51.02 83.27h0.6v0.6h-0.6zM56.99 69.98h0.6v0.6h-0.6zM58.71 68.19h0.6v0.6h-0.6zM63.77 73.56h0.6v0.6h-0.6zM47.51 67.78h0.6v0.6h-0.6zM48.27 68.38h0.6v0.6h-0.6zM65.62 66.31h0.6v0.6h-0.6zM48.47 67.93h0.6v0.6h-0.6zM59.72 73.96h0.6v0.6h-0.6zM40.98 84h0.6v0.6h-0.6zM53.98 76.57h0.6v0.6h-0.6zM50.54 72.2h0.6v0.6h-0.6zM45.88 72.15h0.6v0.6h-0.6zM69.9 62.96h0.6v0.6h-0.6zM53.56 66.72h0.6v0.6h-0.6zM44.8 76.11h0.6v0.6h-0.6zM58.08 67.38h0.6v0.6h-0.6zM54.97 64.28h0.6v0.6h-0.6zM57.96 67.72h0.6v0.6h-0.6zM71.97 66.92h0.6v0.6h-0.6zM55.6 65.68h0.6v0.6h-0.6zM56.49 65.83h0.6v0.6h-0.6zM53.38 71.19h0.6v0.6h-0.6zM53.08 74.97h0.6v0.6h-0.6zM58.45 68.87h0.6v0.6h-0.6zM55.39 66.05h0.6v0.6h-0.6zM51.54 71.68h0.6v0.6h-0.6zM55.43 71.15h0.6v0.6h-0.6zM54.95 63.01h0.6v0.6h-0.6zM55.48 62.7h0.6v0.6h-0.6zM53.61 69.75h0.6v0.6h-0.6zM44.84 78.66h0.6v0.6h-0.6zM59.1 66.19h0.6v0.6h-0.6zM54.69 68.48h0.6v0.6h-0.6zM51.26 71.72h0.6v0.6h-0.6zM55.04 70.7h0.6v0.6h-0.6zM51.04 74.58h0.6v0.6h-0.6zM59.09 66.28h0.6v0.6h-0.6zM56.99 71.63h0.6v0.6h-0.6zM48.54 77.74h0.6v0.6h-0.6zM60.86 67.17h0.6v0.6h-0.6zM59.38 63.33h0.6v0.6h-0.6zM58.41 70.97h0.6v0.6h-0.6zM61.92 65.93h0.6v0.6h-0.6zM49.75 77.2h0.6v0.6h-0.6zM68.94 64.72h0.6v0.6h-0.6zM56.04 61.12h0.6v0.6h-0.6zM64.43 62.08h0.6v0.6h-0.6zM42.51 82h0.6v0.6h-0.6zM45.15 71.02h0.6v0.6h-0.6zM57.54 75.03h0.6v0.6h-0.6zM56.72 70.34h0.6v0.6h-0.6zM74.33 63.63h0.6v0.6h-0.6zM57.18 67.24h0.6v0.6h-0.6zM48.26 71.8h0.6v0.6h-0.6zM62.37 66.58h0.6v0.6h-0.6zM61.81 70.22h0.6v0.6h-0.6zM53.18 71.36h0.6v0.6h-0.6zM64.91 65.61h0.6v0.6h-0.6zM66.7 63.21h0.6v0.6h-0.6zM57.36 70.32h0.6v0.6h-0.6zM47.55 67.32h0.6v0.6h-0.6zM62.25 64.28h0.6v0.6h-0.6zM56.18 60.27h0.6v0.6h-0.6zM54.5 67.43h0.6v0.6h-0.6zM46.88 64.56h0.6v0.6h-0.6zM58.58 72.22h0.6v0.6h-0.6zM59.5 63.52h0.6v0.6h-0.6zM60.36 70.08h0.6v0.6h-0.6zM39.69 81.53h0.6v0.6h-0.6zM63.9 66.91h0.6v0.6h-0.6zM72.83 62.36h0.6v0.6h-0.6zM61.37 66.86h0.6v0.6h-0.6zM62.38 61.6h0.6v0.6h-0.6zM60.57 70.71h0.6v0.6h-0.6zM71.2 56.73h0.6v0.6h-0.6zM58.69 68.41h0.6v0.6h-0.6zM67.42 60.37h0.6v0.6h-0.6zM65.84 56.61h0.6v0.6h-0.6zM56.74 67.82h0.6v0.6h-0.6zM66.47 66.84h0.6v0.6h-0.6zM46.02 72.37h0.6v0.6h-0.6zM59.05 63.56h0.6v0.6h-0.6zM50.99 78.9h0.6v0.6h-0.6zM63.08 66.55h0.6v0.6h-0.6zM57.98 73.39h0.6v0.6h-0.6zM59.73 72.38h0.6v0.6h-0.6zM50.18 69.44h0.6v0.6h-0.6zM58.05 64.1h0.6v0.6h-0.6zM63.7 64.83h0.6v0.6h-0.6zM52.51 72.57h0.6v0.6h-0.6zM58.52 72.37h0.6v0.6h-0.6zM53.13 69.36h0.6v0.6h-0.6zM72.4 68.57h0.6v0.6h-0.6zM72.05 57.25h0.6v0.6h-0.6zM63.93 71.43h0.6v0.6h-0.6zM55.14 64.92h0.6v0.6h-0.6zM60.45 68.38h0.6v0.6h-0.6zM48.69 66.39h0.6v0.6h-0.6zM50.6 77.22h0.6v0.6h-0.6zM53.05 71h0.6v0.6h-0.6zM61.52 68.44h0.6v0.6h-0.6zM57.55 70.9h0.6v0.6h-0.6zM51.6 70.96h0.6v0.6h-0.6zM54.56 76.61h0.6v0.6h-0.6zM56.41 65.19h0.6v0.6h-0.6zM55.57 68.61h0.6v0.6h-0.6zM59.07 58.55h0.6v0.6h-0.6zM50.57 71.68h0.6v0.6h-0.6zM77.93 57.41h0.6v0.6h-0.6zM59.59 70.44h0.6v0.6h-0.6zM71.68 55.96h0.6v0.6h-0.6zM59.18 73.43h0.6v0.6h-0.6zM63.55 67.14h0.6v0.6h-0.6zM60.07 76.53h0.6v0.6h-0.6zM71.41 60.43h0.6v0.6h-0.6zM57.84 57.21h0.6v0.6h-0.6zM62.27 63.52h0.6v0.6h-0.6zM63.17 67.49h0.6v0.6h-0.6zM51.84 63.69h0.6v0.6h-0.6zM59.05 63.12h0.6v0.6h-0.6zM54.73 67.23h0.6v0.6h-0.6zM50.24 61.64h0.6v0.6h-0.6zM67.31 61.97h0.6v0.6h-0.6zM71.06 68.24h0.6v0.6h-0.6zM53.99 61.42h0.6v0.6h-0.6zM49.39 68.18h0.6v0.6h-0.6zM55.34 70.39h0.6v0.6h-0.6zM45.97 79.11h0.6v0.6h-0.6zM49.15 76.39h0.6v0.6h-0.6zM56.96 67.03h0.6v0.6h-0.6zM56.62 66.1h0.6v0.6h-0.6zM50.05 65.14h0.6v0.6h-0.6zM63.07 73.76h0.6v0.6h-0.6zM75.18 61.51h0.6v0.6h-0.6zM61.48 61.57h0.6v0.6h-0.6zM68.02 59.76h0.6v0.6h-0.6zM57.29 66.9h0.6v0.6h-0.6zM57.99 65.58h0.6v0.6h-0.6zM55.13 64.35h0.6v0.6h-0.6zM61.89 77h0.6v0.6h-0.6zM57.42 67.07h0.6v0.6h-0.6zM63.9 67.06h0.6v0.6h-0.6zM50.5 72.64h0.6v0.6h-0.6zM65.35 63.59h0.6v0.6h-0.6zM63.34 72.01h0.6v0.6h-0.6zM54.17 71.32h0.6v0.6h-0.6zM58.87 75.15h0.6v0.6h-0.6zM43.69 75.5h0.6v0.6h-0.6zM56.67 72.47h0.6v0.6h-0.6zM66.17 68.94h0.6v0.6h-0.6zM49.9 78.22h0.6v0.6h-0.6zM54.81 66.83h0.6v0.6h-0.6zM59.73 61.63h0.6v0.6h-0.6zM43.63 77.14h0.6v0.6h-0.6zM46.79 73.19h0.6v0.6h-0.6zM61.8 66.59h0.6v0.6h-0.6zM68.61 58.53h0.6v0.6h-0.6zM46.27 73.02h0.6v0.6h-0.6zM49.19 68.28h0.6v0.6h-0.6zM59.75 63.09h0.6v0.6h-0.6zM47.06 80.15h0.6v0.6h-0.6zM58.68 69.26h0.6v0.6h-0.6zM60.84 69.04h0.6v0.6h-0.6zM61.95 71.39h0.6v0.6h-0.6zM62.36 66.57h0.6v0.6h-0.6zM57.48 60.53h0.6v0.6h-0.6zM56.73 67.5h0.6v0.6h-0.6zM56.38 61.92h0.6v0.6h-0.6zM69.72 59.29h0.6v0.6h-0.6zM45.97 68.18h0.6v0.6h-0.6zM56.38 68.68h0.6v0.6h-0.6zM53.93 71.56h0.6v0.6h-0.6zM55.63 72.68h0.6v0.6h-0.6zM53.55 71.16h0.6v0.6h-0.6zM71.71 70.89h0.6v0.6h-0.6zM50.55 71.24h0.6v0.6h-0.6zM54.9 74.49h0.6v0.6h-0.6zM49.56 71.91h0.6v0.6h-0.6zM55.77 64.42h0.6v0.6h-0.6zM50.86 70.94h0.6v0.6h-0.6zM40.69 73.71h0.6v0.6h-0.6zM56.12 70.15h0.6v0.6h-0.6zM52.67 62.6h0.6v0.6h-0.6zM57.46 72.57h0.6v0.6h-0.6zM62.02 64.33h0.6v0.6h-0.6zM54.19 74.23h0.6v0.6h-0.6zM51.6 66.66h0.6v0.6h-0.6zM56.87 76.49h0.6v0.6h-0.6zM62.97 70.18h0.6v0.6h-0.6zM57.72 73.11h0.6v0.6h-0.6zM54.06 70.13h0.6v0.6h-0.6zM77.14 57.03h0.6v0.6h-0.6zM54.92 69.84h0.6v0.6h-0.6zM63.82 69.8h0.6v0.6h-0.6zM50.72 64.3h0.6v0.6h-0.6zM56.67 69.01h0.6v0.6h-0.6zM62.64 71.28h0.6v0.6h-0.6zM62.72 68.53h0.6v0.6h-0.6zM53.37 76.13h0.6v0.6h-0.6zM74.54 59.09h0.6v0.6h-0.6zM60.6 66.68h0.6v0.6h-0.6zM68.07 55.08h0.6v0.6h-0.6zM58.95 69.6h0.6v0.6h-0.6zM62.35 62.16h0.6v0.6h-0.6zM59.84 64.97h0.6v0.6h-0.6zM58.97 66.43h0.6v0.6h-0.6zM50.8 73.4h0.6v0.6h-0.6zM61.87 59.71h0.6v0.6h-0.6zM58.6 70.96h0.6v0.6h-0.6zM51.81 73.7h0.6v0.6h-0.6zM54.33 76.8h0.6v0.6h-0.6zM79.22 62.09h0.6v0.6h-0.6zM58.95 71.1h0.6v0.6h-0.6zM59.57 67.2h0.6v0.6h-0.6zM65.46 55.03h0.6v0.6h-0.6zM65.44 61.82h0.6v0.6h-0.6zM68.42 60.75h0.6v0.6h-0.6zM54.71 71.94h0.6v0.6h-0.6zM63.52 63.77h0.6v0.6h-0.6zM60.42 63.22h0.6v0.6h-0.6zM46.53 81.65h0.6v0.6h-0.6zM63.57 64.33h0.6v0.6h-0.6zM61.64 70.57h0.6v0.6h-0.6zM53.61 67.55h0.6v0.6h-0.6zM60.31 72.42h0.6v0.6h-0.6zM52.29 78.7h0.6v0.6h-0.6zM51.37 67.2h0.6v0.6h-0.6zM66.69 60.59h0.6v0.6h-0.6zM48.86 73.12h0.6v0.6h-0.6zM67.82 66.57h0.6v0.6h-0.6zM56.69 71.08h0.6v0.6h-0.6zM61.62 61.63h0.6v0.6h-0.6zM60.8 65.54h0.6v0.6h-0.6zM53.64 68.68h0.6v0.6h-0.6zM59.03 67.25h0.6v0.6h-0.6zM53.61 69.05h0.6v0.6h-0.6zM66.51 62.38h0.6v0.6h-0.6zM67.54 66.85h0.6v0.6h-0.6zM68.32 71.93h0.6v0.6h-0.6zM55.06 74.49h0.6v0.6h-0.6zM61.17 75.31h0.6v0.6h-0.6zM64.84 52.13h0.6v0.6h-0.6zM53.73 74.77h0.6v0.6h-0.6zM65.7 65.8h0.6v0.6h-0.6zM59.2 69.38h0.6v0.6h-0.6zM62.67 63.82h0.6v0.6h-0.6zM59.54 54.65h0.6v0.6h-0.6zM60.07 60.76h0.6v0.6h-0.6zM64.33 61.73h0.6v0.6h-0.6zM53.51 73.39h0.6v0.6h-0.6zM50.04 69.25h0.6v0.6h-0.6zM47.93 75.61h0.6v0.6h-0.6zM64.47 68.29h0.6v0.6h-0.6zM60.26 71.71h0.6v0.6h-0.6zM58.38 67.1h0.6v0.6h-0.6zM65.08 68h0.6v0.6h-0.6zM55.58 68.48h0.6v0.6h-0.6zM57.64 68.62h0.6v0.6h-0.6zM55.13 75.61h0.6v0.6h-0.6zM57.01 71.13h0.6v0.6h-0.6zM53.9 73.01h0.6v0.6h-0.6zM60.04 64.06h0.6v0.6h-0.6zM73 58.15h0.6v0.6h-0.6zM72.88 61.38h0.6v0.6h-0.6zM53.08 69.7h0.6v0.6h-0.6zM61.58 65.42h0.6v0.6h-0.6zM58.09 66.29h0.6v0.6h-0.6zM45.8 76.22h0.6v0.6h-0.6zM44.6 80.34h0.6v0.6h-0.6zM51.79 68.93h0.6v0.6h-0.6zM57.74 69.55h0.6v0.6h-0.6zM44.39 69.21h0.6v0.6h-0.6zM46.08 66.32h0.6v0.6h-0.6zM56.14 77.82h0.6v0.6h-0.6zM53.11 75.19h0.6v0.6h-0.6zM50.09 75.67h0.6v0.6h-0.6zM56.2 68.98h0.6v0.6h-0.6zM66.85 70.34h0.6v0.6h-0.6zM60.13 66.89h0.6v0.6h-0.6zM53.49 74.52h0.6v0.6h-0.6zM59 71.54h0.6v0.6h-0.6zM62.71 73.49h0.6v0.6h-0.6zM44.45 76.9h0.6v0.6h-0.6zM63.5 61.73h0.6v0.6h-0.6zM52.51 70.77h0.6v0.6h-0.6zM49.56 75.12h0.6v0.6h-0.6zM77.81 58.52h0.6v0.6h-0.6zM48.81 70.41h0.6v0.6h-0.6zM58.39 72.94h0.6v0.6h-0.6zM51.21 69.51h0.6v0.6h-0.6zM66.66 65.73h0.6v0.6h-0.6zM53.11 65.76h0.6v0.6h-0.6zM46.31 73.3h0.6v0.6h-0.6zM45.5 81.65h0.6v0.6h-0.6zM55.52 72.39h0.6v0.6h-0.6zM74.05 61.61h0.6v0.6h-0.6zM53.04 76.4h0.6v0.6h-0.6zM64.33 58.97h0.6v0.6h-0.6zM51.83 72.13h0.6v0.6h-0.6zM51.58 80.75h0.6v0.6h-0.6zM39.53 76.42h0.6v0.6h-0.6zM56.11 68.16h0.6v0.6h-0.6zM60.31 67.53h0.6v0.6h-0.6zM60.01 72.38h0.6v0.6h-0.6zM44.17 78.7h0.6v0.6h-0.6zM54.06 71.68h0.6v0.6h-0.6zM57.62 63.33h0.6v0.6h-0.6zM56.26 73.48h0.6v0.6h-0.6zM59.08 63.42h0.6v0.6h-0.6zM78.13 64.47h0.6v0.6h-0.6zM49.48 76.15h0.6v0.6h-0.6zM77.33 56.96h0.6v0.6h-0.6zM59.44 65.65h0.6v0.6h-0.6zM54.33 69.63h0.6v0.6h-0.6zM56.74 72.85h0.6v0.6h-0.6zM54.69 68.12h0.6v0.6h-0.6zM50.32 73.63h0.6v0.6h-0.6zM52.04 71.58h0.6v0.6h-0.6zM66.42 63.26h0.6v0.6h-0.6zM62.8 66.04h0.6v0.6h-0.6zM58.57 66.77h0.6v0.6h-0.6zM58.4 71.62h0.6v0.6h-0.6zM54.7 77.61h0.6v0.6h-0.6zM56.79 64.84h0.6v0.6h-0.6zM53.47 67.82h0.6v0.6h-0.6zM57.72 64.29h0.6v0.6h-0.6zM64.13 58.94h0.6v0.6h-0.6zM41.39 76.97h0.6v0.6h-0.6zM44.94 77.88h0.6v0.6h-0.6zM67.27 64.1h0.6v0.6h-0.6zM47.57 71.98h0.6v0.6h-0.6zM71.24 59.25h0.6v0.6h-0.6zM61.26 70.97h0.6v0.6h-0.6zM78.28 58.96h0.6v0.6h-0.6zM60.35 67.94h0.6v0.6h-0.6zM61.05 62.24h0.6v0.6h-0.6zM51.54 73.21h0.6v0.6h-0.6zM52 72.25h0.6v0.6h-0.6zM65.2 74.74h0.6v0.6h-0.6zM52.48 71.55h0.6v0.6h-0.6zM58.53 69.81h0.6v0.6h-0.6zM64.24 60.4h0.6v0.6h-0.6zM48.76 66.37h0.6v0.6h-0.6zM53.68 74.12h0.6v0.6h-0.6zM56.18 63.9h0.6v0.6h-0.6zM56.08 69.55h0.6v0.6h-0.6zM60.34 62.9h0.6v0.6h-0.6zM52.12 62.79h0.6v0.6h-0.6zM54.97 78.88h0.6v0.6h-0.6zM42.97 77.83h0.6v0.6h-0.6zM59 65.11h0.6v0.6h-0.6zM52.93 71.53h0.6v0.6h-0.6zM58.25 67.25h0.6v0.6h-0.6zM45.54 76.84h0.6v0.6h-0.6zM51.36 70.16h0.6v0.6h-0.6zM61.68 68.43h0.6v0.6h-0.6zM63.22 61.16h0.6v0.6h-0.6zM67.72 66.55h0.6v0.6h-0.6zM69.71 66.15h0.6v0.6h-0.6zM57.07 67.69h0.6v0.6h-0.6zM60.49 58.66h0.6v0.6h-0.6zM58.53 64.65h0.6v0.6h-0.6zM51.53 63.67h0.6v0.6h-0.6zM52.48 72.09h0.6v0.6h-0.6zM67.01 66.13h0.6v0.6h-0.6zM57.47 67.29h0.6v0.6h-0.6zM53.98 73.18h0.6v0.6h-0.6zM58.41 70.8h0.6v0.6h-0.6zM70.15 58.23h0.6v0.6h-0.6zM46.24 72.49h0.6v0.6h-0.6zM45.64 71.17h0.6v0.6h-0.6zM67.83 61.42h0.6v0.6h-0.6zM50.01 77.62h0.6v0.6h-0.6zM66.01 59.71h0.6v0.6h-0.6zM53.1 69.92h0.6v0.6h-0.6zM62.06 68.13h0.6v0.6h-0.6zM69.55 65.33h0.6v0.6h-0.6zM69.96 65.8h0.6v0.6h-0.6zM58.97 58.97h0.6v0.6h-0.6zM58.43 69.22h0.6v0.6h-0.6zM58.29 72.52h0.6v0.6h-0.6zM53.69 66.32h0.6v0.6h-0.6zM69.9 62.15h0.6v0.6h-0.6zM62.36 69.42h0.6v0.6h-0.6zM66.5 63.07h0.6v0.6h-0.6zM40.29 78.13h0.6v0.6h-0.6zM52.9 66.63h0.6v0.6h-0.6zM62.91 70.41h0.6v0.6h-0.6zM52.32 66.28h0.6v0.6h-0.6zM70.92 55.39h0.6v0.6h-0.6zM50.86 74.74h0.6v0.6h-0.6zM59.53 62.94h0.6v0.6h-0.6zM62.53 61.75h0.6v0.6h-0.6zM52.78 72.92h0.6v0.6h-0.6zM62.02 61.37h0.6v0.6h-0.6zM60.47 65.46h0.6v0.6h-0.6zM75.59 50.37h0.6v0.6h-0.6zM67.64 60.08h0.6v0.6h-0.6zM59.52 70.55h0.6v0.6h-0.6zM67.76 67.02h0.6v0.6h-0.6zM59.15 63.79h0.6v0.6h-0.6zM56.22 72h0.6v0.6h-0.6zM66.01 69.09h0.6v0.6h-0.6zM64.04 68.82h0.6v0.6h-0.6zM69.09 60.11h0.6v0.6h-0.6zM45.5 71.37h0.6v0.6h-0.6zM52.98 80.29h0.6v0.6h-0.6zM56.01 76.01h0.6v0.6h-0.6zM66.86 70.11h0.6v0.6h-0.6zM64.95 61.91h0.6v0.6h-0.6zM57.38 68.83h0.6v0.6h-0.6zM58.3 64.83h0.6v0.6h-0.6zM62.44 73h0.6v0.6h-0.6zM47.77 77.26h0.6v0.6h-0.6zM52.91 72.87h0.6v0.6h-0.6zM63.98 62.91h0.6v0.6h-0.6zM59.57 58.19h0.6v0.6h-0.6zM64.36 59.71h0.6v0.6h-0.6zM63.14 64.85h0.6v0.6h-0.6zM39.23 78.53h0.6v0.6h-0.6zM64 71.49h0.6v0.6h-0.6zM61.09 66.85h0.6v0.6h-0.6zM52.74 79.63h0.6v0.6h-0.6zM70.68 58.14h0.6v0.6h-0.6zM52.84 63.29h0.6v0.6h-0.6zM71.4 71.82h0.6v0.6h-0.6zM66.57 67.93h0.6v0.6h-0.6zM59.58 61.4h0.6v0.6h-0.6zM64.26 56.42h0.6v0.6h-0.6zM57.81 69.53h0.6v0.6h-0.6zM65.49 64.26h0.6v0.6h-0.6zM59.12 62.96h0.6v0.6h-0.6zM50.02 74.45h0.6v0.6h-0.6zM50.36 66.89h0.6v0.6h-0.6zM48.75 72.5h0.6v0.6h-0.6zM42.61 72.74h0.6v0.6h-0.6zM48.02 76.66h0.6v0.6h-0.6zM66.42 72.01h0.6v0.6h-0.6zM46.71 73.09h0.6v0.6h-0.6zM64.05 62.01h0.6v0.6h-0.6zM60.73 74.87h0.6v0.6h-0.6zM53.24 65.44h0.6v0.6h-0.6zM50.55 75.5h0.6v0.6h-0.6zM57 61.36h0.6v0.6h-0.6zM53.28 74.43h0.6v0.6h-0.6zM60.7 62.35h0.6v0.6h-0.6zM64.15 66.14h0.6v0.6h-0.6zM45.75 75.8h0.6v0.6h-0.6zM59.8 63.43h0.6v0.6h-0.6zM43.44 77.76h0.6v0.6h-0.6zM67.62 68.79h0.6v0.6h-0.6zM50.58 87.61h0.6v0.6h-0.6zM53.42 76.57h0.6v0.6h-0.6zM69.31 64.29h0.6v0.6h-0.6zM56.5 62.87h0.6v0.6h-0.6zM60.85 61.85h0.6v0.6h-0.6zM48.92 90.06h0.6v0.6h-0.6zM67.94 69.81h0.6v0.6h-0.6zM56.19 77.13h0.6v0.6h-0.6zM73.17 64.33h0.6v0.6h-0.6zM55.25 63.63h0.6v0.6h-0.6zM51.62 61.14h0.6v0.6h-0.6zM47.34 76.71h0.6v0.6h-0.6zM51.43 72.14h0.6v0.6h-0.6zM62.76 74.46h0.6v0.6h-0.6zM67.08 60.56h0.6v0.6h-0.6zM64.58 58.59h0.6v0.6h-0.6zM58.6 72.28h0.6v0.6h-0.6zM49.46 73.07h0.6v0.6h-0.6zM49.96 74.8h0.6v0.6h-0.6zM67.49 56.47h0.6v0.6h-0.6zM57.69 63.35h0.6v0.6h-0.6zM47.6 69.43h0.6v0.6h-0.6zM74.35 67.71h0.6v0.6h-0.6zM59.88 62.6h0.6v0.6h-0.6zM62.36 62.7h0.6v0.6h-0.6zM64.62 64.27h0.6v0.6h-0.6zM61.94 68.05h0.6v0.6h-0.6zM53.57 69.19h0.6v0.6h-0.6zM45.83 75.05h0.6v0.6h-0.6zM48.6 74.46h0.6v0.6h-0.6zM52.35 72.85h0.6v0.6h-0.6zM57.86 60.43h0.6v0.6h-0.6zM50.61 68.63h0.6v0.6h-0.6zM67.91 69.24h0.6v0.6h-0.6zM63.3 61.89h0.6v0.6h-0.6zM64.4 54.82h0.6v0.6h-0.6zM66.85 57.48h0.6v0.6h-0.6zM46.73 90.82h0.6v0.6h-0.6zM66.4 55.83h0.6v0.6h-0.6zM59.08 65.91h0.6v0.6h-0.6zM55.35 62.06h0.6v0.6h-0.6zM55.15 72.62h0.6v0.6h-0.6zM63.09 70.3h0.6v0.6h-0.6zM65.11 74.86h0.6v0.6h-0.6zM54.38 72.1h0.6v0.6h-0.6zM42.42 73.38h0.6v0.6h-0.6zM64.96 57.43h0.6v0.6h-0.6zM61.89 64.52h0.6v0.6h-0.6zM50.6 71.81h0.6v0.6h-0.6zM53.8 68.58h0.6v0.6h-0.6zM65.23 65.72h0.6v0.6h-0.6zM52.29 67.52h0.6v0.6h-0.6zM60.13 65.69h0.6v0.6h-0.6zM72.25 70.91h0.6v0.6h-0.6zM64.06 62.97h0.6v0.6h-0.6zM55.13 65.56h0.6v0.6h-0.6zM49.83 68.92h0.6v0.6h-0.6zM54.75 68.16h0.6v0.6h-0.6zM62.45 62.29h0.6v0.6h-0.6zM54.03 64.5h0.6v0.6h-0.6zM70.83 60.57h0.6v0.6h-0.6zM72.54 60.78h0.6v0.6h-0.6zM67.84 58.88h0.6v0.6h-0.6zM70.3 72.7h0.6v0.6h-0.6zM53.35 77.8h0.6v0.6h-0.6zM70.96 60.01h0.6v0.6h-0.6zM66.93 67.73h0.6v0.6h-0.6zM55.09 72.39h0.6v0.6h-0.6zM50.76 69.86h0.6v0.6h-0.6zM53.89 70.32h0.6v0.6h-0.6zM60.7 68.25h0.6v0.6h-0.6zM54.02 81.8h0.6v0.6h-0.6zM68.35 63.77h0.6v0.6h-0.6zM55.81 69.12h0.6v0.6h-0.6zM63.35 65.96h0.6v0.6h-0.6zM48.94 79.02h0.6v0.6h-0.6zM73.62 45.6h0.6v0.6h-0.6zM66.31 63.42h0.6v0.6h-0.6zM61.37 72.76h0.6v0.6h-0.6zM50.8 74.4h0.6v0.6h-0.6zM68.04 58.97h0.6v0.6h-0.6zM55.93 70.14h0.6v0.6h-0.6zM59.55 75.15h0.6v0.6h-0.6zM54.58 75.34h0.6v0.6h-0.6zM51.66 76.51h0.6v0.6h-0.6zM50.91 59.28h0.6v0.6h-0.6zM55.62 63.9h0.6v0.6h-0.6zM59.53 75.12h0.6v0.6h-0.6zM47.99 69.9h0.6v0.6h-0.6zM68.73 60.14h0.6v0.6h-0.6zM69.97 60.31h0.6v0.6h-0.6zM52.25 72.02h0.6v0.6h-0.6zM69.47 64.09h0.6v0.6h-0.6zM58.64 67.66h0.6v0.6h-0.6zM56.19 66.14h0.6v0.6h-0.6zM71.82 57.13h0.6v0.6h-0.6zM49.44 71.96h0.6v0.6h-0.6zM65.21 65.77h0.6v0.6h-0.6zM55.78 65.96h0.6v0.6h-0.6zM54.22 61.68h0.6v0.6h-0.6zM51.66 77.22h0.6v0.6h-0.6zM56.2 71.35h0.6v0.6h-0.6zM68.62 63.16h0.6v0.6h-0.6zM64.3 74.63h0.6v0.6h-0.6zM62.16 62.7h0.6v0.6h-0.6zM64.63 64.95h0.6v0.6h-0.6zM52.8 72.35h0.6v0.6h-0.6zM52.14 61.7h0.6v0.6h-0.6zM56.56 67.46h0.6v0.6h-0.6zM51.11 64.26h0.6v0.6h-0.6zM55.95 69.27h0.6v0.6h-0.6zM56.18 63.09h0.6v0.6h-0.6zM59.62 59.96h0.6v0.6h-0.6zM60.43 73.14h0.6v0.6h-0.6zM52.38 69.49h0.6v0.6h-0.6zM64.87 60.42h0.6v0.6h-0.6zM57.04 69.85h0.6v0.6h-0.6zM59.87 54.36h0.6v0.6h-0.6zM50.12 68.53h0.6v0.6h-0.6zM48.77 70.43h0.6v0.6h-0.6zM53.53 73.03h0.6v0.6h-0.6zM52.72 72.69h0.6v0.6h-0.6zM59.32 62.87h0.6v0.6h-0.6zM63.73 72.35h0.6v0.6h-0.6zM59.02 63.61h0.6v0.6h-0.6zM55.63 64.74h0.6v0.6h-0.6zM62.64 68.97h0.6v0.6h-0.6zM52.33 71.18h0.6v0.6h-0.6zM64.8 59.87h0.6v0.6h-0.6zM57.08 63.03h0.6v0.6h-0.6zM51.54 70.15h0.6v0.6h-0.6zM72.02 54.76h0.6v0.6h-0.6zM53.49 68.41h0.6v0.6h-0.6zM59.09 70.54h0.6v0.6h-0.6zM65.09 73.32h0.6v0.6h-0.6zM63.67 71.17h0.6v0.6h-0.6zM61.92 68.06h0.6v0.6h-0.6zM48.5 74.63h0.6v0.6h-0.6zM57.41 67.06h0.6v0.6h-0.6zM46.36 81.68h0.6v0.6h-0.6zM54.77 68.08h0.6v0.6h-0.6zM56.2 68.08h0.6v0.6h-0.6zM57.94 61.16h0.6v0.6h-0.6zM53.02 73.33h0.6v0.6h-0.6zM58.5 65.49h0.6v0.6h-0.6zM52.5 67.74h0.6v0.6h-0.6zM61.16 71.71h0.6v0.6h-0.6zM55.35 78.08h0.6v0.6h-0.6zM62.98 61.58h0.6v0.6h-0.6zM59.95 58.55h0.6v0.6h-0.6zM43.57 72.29h0.6v0.6h-0.6zM54.91 68.57h0.6v0.6h-0.6zM55.31 70.52h0.6v0.6h-0.6zM45.48 80.31h0.6v0.6h-0.6zM47.28 72.74h0.6v0.6h-0.6zM52.74 65.83h0.6v0.6h-0.6zM46.72 71.34h0.6v0.6h-0.6zM59.95 69.52h0.6v0.6h-0.6zM59.71 61.26h0.6v0.6h-0.6zM50.82 68.6h0.6v0.6h-0.6zM56.24 58.4h0.6v0.6h-0.6zM65.54 59.42h0.6v0.6h-0.6zM54.13 72.72h0.6v0.6h-0.6zM66.3 63.23h0.6v0.6h-0.6zM65.9 62.44h0.6v0.6h-0.6zM69.96 65.19h0.6v0.6h-0.6zM61.56 72.78h0.6v0.6h-0.6zM59.83 66.93h0.6v0.6h-0.6zM51.58 71.37h0.6v0.6h-0.6zM60.31 59.09h0.6v0.6h-0.6zM63.75 65.25h0.6v0.6h-0.6zM54.65 58.74h0.6v0.6h-0.6zM59.48 70.19h0.6v0.6h-0.6zM53.62 71.79h0.6v0.6h-0.6zM44.31 82.17h0.6v0.6h-0.6zM56.32 73.85h0.6v0.6h-0.6zM47.95 79.43h0.6v0.6h-0.6zM59 71.41h0.6v0.6h-0.6zM50.7 70.3h0.6v0.6h-0.6zM71.37 53.02h0.6v0.6h-0.6zM53.06 70.28h0.6v0.6h-0.6zM54.73 76.79h0.6v0.6h-0.6zM68.23 56.14h0.6v0.6h-0.6zM49.97 80.41h0.6v0.6h-0.6zM68.05 64.42h0.6v0.6h-0.6zM64 58.58h0.6v0.6h-0.6zM53.79 63.8h0.6v0.6h-0.6zM51.54 78.17h0.6v0.6h-0.6zM59.89 78.56h0.6v0.6h-0.6zM57.34 64.99h0.6v0.6h-0.6zM68.5 69.29h0.6v0.6h-0.6zM58.61 60.93h0.6v0.6h-0.6zM64.54 70.11h0.6v0.6h-0.6zM53.2 67.52h0.6v0.6h-0.6zM65.67 62.64h0.6v0.6h-0.6zM50.13 72.01h0.6v0.6h-0.6zM54.2 72.44h0.6v0.6h-0.6zM62.21 70.73h0.6v0.6h-0.6zM59.21 58.61h0.6v0.6h-0.6zM63.55 68.34h0.6v0.6h-0.6zM64.22 68.52h0.6v0.6h-0.6zM52.36 67.23h0.6v0.6h-0.6zM61.97 59.11h0.6v0.6h-0.6zM46.69 82.19h0.6v0.6h-0.6zM52.86 70.28h0.6v0.6h-0.6zM45.71 70.43h0.6v0.6h-0.6zM49.82 72.36h0.6v0.6h-0.6zM55.04 57.96h0.6v0.6h-0.6zM60.48 59.65h0.6v0.6h-0.6zM53.11 75.32h0.6v0.6h-0.6zM54.03 62.81h0.6v0.6h-0.6zM68.63 55h0.6v0.6h-0.6zM60.67 66.87h0.6v0.6h-0.6zM66.77 58.61h0.6v0.6h-0.6zM63.33 59.77h0.6v0.6h-0.6zM64.04 59.1h0.6v0.6h-0.6zM60.98 75.67h0.6v0.6h-0.6zM60.91 66.2h0.6v0.6h-0.6zM74.45 56.96h0.6v0.6h-0.6zM54.93 74.2h0.6v0.6h-0.6zM53.5 77.42h0.6v0.6h-0.6zM65.1 59.29h0.6v0.6h-0.6zM54.75 71.37h0.6v0.6h-0.6zM56.07 64.19h0.6v0.6h-0.6zM57.03 57.77h0.6v0.6h-0.6zM54.56 68.43h0.6v0.6h-0.6zM57.46 69.95h0.6v0.6h-0.6zM51.8 75.87h0.6v0.6h-0.6zM55.61 66.29h0.6v0.6h-0.6zM46.29 70.74h0.6v0.6h-0.6zM58.42 62.42h0.6v0.6h-0.6zM61.68 70.68h0.6v0.6h-0.6zM69.45 67.26h0.6v0.6h-0.6zM53.71 65.46h0.6v0.6h-0.6zM66.14 63.18h0.6v0.6h-0.6zM66.06 61.65h0.6v0.6h-0.6zM68.7 64.04h0.6v0.6h-0.6zM64.6 65.42h0.6v0.6h-0.6zM61.77 66.19h0.6v0.6h-0.6zM62.57 69.59h0.6v0.6h-0.6zM59.56 75.92h0.6v0.6h-0.6zM60.34 71.32h0.6v0.6h-0.6zM57.26 67.16h0.6v0.6h-0.6zM71.31 55.84h0.6v0.6h-0.6zM48.1 71.82h0.6v0.6h-0.6zM61.95 76.29h0.6v0.6h-0.6zM62.3 69.51h0.6v0.6h-0.6zM52.7 73.91h0.6v0.6h-0.6zM67.66 69.95h0.6v0.6h-0.6zM55.4 73.14h0.6v0.6h-0.6zM57.88 62.54h0.6v0.6h-0.6zM57.69 66.73h0.6v0.6h-0.6zM44.47 81.65h0.6v0.6h-0.6zM60.98 63.22h0.6v0.6h-0.6zM53.36 79.4h0.6v0.6h-0.6zM62.91 69.47h0.6v0.6h-0.6zM66.6 58.4h0.6v0.6h-0.6zM63.32 62.45h0.6v0.6h-0.6zM57.86 67.54h0.6v0.6h-0.6zM61.37 71.19h0.6v0.6h-0.6zM58.93 66.34h0.6v0.6h-0.6zM57.53 70.08h0.6v0.6h-0.6zM51.21 70.52h0.6v0.6h-0.6zM56.69 65.9h0.6v0.6h-0.6zM56.13 66.1h0.6v0.6h-0.6zM75.36 61.41h0.6v0.6h-0.6zM61.38 64.97h0.6v0.6h-0.6zM74.01 57.1h0.6v0.6h-0.6zM58.7 68.96h0.6v0.6h-0.6zM64.2 70.57h0.6v0.6h-0.6zM63.8 74.55h0.6v0.6h-0.6zM54.39 74.41h0.6v0.6h-0.6zM56.49 78.76h0.6v0.6h-0.6zM56.14 69.04h0.6v0.6h-0.6zM67.94 66.82h0.6v0.6h-0.6zM50.16 72.17h0.6v0.6h-0.6zM49.51 75.25h0.6v0.6h-0.6zM56.92 66.88h0.6v0.6h-0.6zM52.92 69.8h0.6v0.6h-0.6zM54.87 73.16h0.6v0.6h-0.6zM63.66 53.18h0.6v0.6h-0.6zM56.64 66.72h0.6v0.6h-0.6zM59.34 61.77h0.6v0.6h-0.6zM54.83 64.83h0.6v0.6h-0.6zM63.42 64.18h0.6v0.6h-0.6zM58.38 69.57h0.6v0.6h-0.6zM52.83 63.65h0.6v0.6h-0.6zM63.24 65.34h0.6v0.6h-0.6zM60.01 71.57h0.6v0.6h-0.6zM63.84 57.51h0.6v0.6h-0.6zM57.27 76.71h0.6v0.6h-0.6zM66.09 57.63h0.6v0.6h-0.6zM48.94 71.57h0.6v0.6h-0.6zM51.07 64.86h0.6v0.6h-0.6zM55.4 63.1h0.6v0.6h-0.6zM52.76 76.87h0.6v0.6h-0.6zM53.74 70.84h0.6v0.6h-0.6zM64.82 66.9h0.6v0.6h-0.6zM56.36 69.41h0.6v0.6h-0.6zM57.49 77.6h0.6v0.6h-0.6zM60 60.45h0.6v0.6h-0.6zM60.37 69.84h0.6v0.6h-0.6zM66.44 71.05h0.6v0.6h-0.6zM66.3 58.53h0.6v0.6h-0.6zM54.59 63.73h0.6v0.6h-0.6zM60.56 66.69h0.6v0.6h-0.6zM76.86 53.68h0.6v0.6h-0.6zM42.74 76.23h0.6v0.6h-0.6zM56 62.76h0.6v0.6h-0.6zM51.75 70.83h0.6v0.6h-0.6zM60.36 65.16h0.6v0.6h-0.6zM54.58 74.76h0.6v0.6h-0.6zM53.59 68.67h0.6v0.6h-0.6zM47.23 72.12h0.6v0.6h-0.6zM58.68 58.74h0.6v0.6h-0.6zM59.88 70.25h0.6v0.6h-0.6zM56.59 70.27h0.6v0.6h-0.6zM54.41 77.68h0.6v0.6h-0.6zM66.48 62.52h0.6v0.6h-0.6zM44.04 73.22h0.6v0.6h-0.6zM69.47 68.06h0.6v0.6h-0.6zM63.71 70.08h0.6v0.6h-0.6zM53.94 70.05h0.6v0.6h-0.6zM59.6 68.89h0.6v0.6h-0.6zM50.69 78.61h0.6v0.6h-0.6zM64.39 56.78h0.6v0.6h-0.6zM50.33 75.75h0.6v0.6h-0.6zM47.99 63.08h0.6v0.6h-0.6zM64.32 63.78h0.6v0.6h-0.6zM60.77 76.99h0.6v0.6h-0.6zM57.48 64.28h0.6v0.6h-0.6zM56.49 63.53h0.6v0.6h-0.6zM54.4 72.76h0.6v0.6h-0.6zM53.62 68.91h0.6v0.6h-0.6zM71.9 61.61h0.6v0.6h-0.6zM65.24 65.05h0.6v0.6h-0.6zM65.51 69.79h0.6v0.6h-0.6zM63.17 73.74h0.6v0.6h-0.6zM51.47 71.63h0.6v0.6h-0.6zM48.38 73.58h0.6v0.6h-0.6zM65.73 69.59h0.6v0.6h-0.6zM54.07 70.99h0.6v0.6h-0.6zM54.18 66.94h0.6v0.6h-0.6zM50.69 73.92h0.6v0.6h-0.6zM47.18 76.93h0.6v0.6h-0.6zM56.94 65.21h0.6v0.6h-0.6zM48.15 68.21h0.6v0.6h-0.6zM67.56 53.27h0.6v0.6h-0.6zM70.49 61.33h0.6v0.6h-0.6zM53.07 65.58h0.6v0.6h-0.6zM69.96 67.77h0.6v0.6h-0.6zM51.47 71.4h0.6v0.6h-0.6zM66.41 63.11h0.6v0.6h-0.6zM70.42 55.15h0.6v0.6h-0.6zM58.9 60.52h0.6v0.6h-0.6zM70.65 54.11h0.6v0.6h-0.6zM43.39 78.64h0.6v0.6h-0.6zM62.52 74.57h0.6v0.6h-0.6zM56.2 69.23h0.6v0.6h-0.6zM66.58 69.64h0.6v0.6h-0.6zM60.76 71.27h0.6v0.6h-0.6zM61.2 63.81h0.6v0.6h-0.6zM59.09 67.19h0.6v0.6h-0.6zM55.5 76.31h0.6v0.6h-0.6zM52.25 78.63h0.6v0.6h-0.6zM64.65 62.2h0.6v0.6h-0.6zM52.79 70.76h0.6v0.6h-0.6zM63.59 67.49h0.6v0.6h-0.6zM62.99 69.28h0.6v0.6h-0.6zM55.37 71.19h0.6v0.6h-0.6zM49.97 78.23h0.6v0.6h-0.6zM58.45 65.32h0.6v0.6h-0.6zM68.07 63.71h0.6v0.6h-0.6zM39.74 82.37h0.6v0.6h-0.6zM51.51 78.64h0.6v0.6h-0.6zM73.83 52.76h0.6v0.6h-0.6zM58.35 66.28h0.6v0.6h-0.6zM62.52 67.8h0.6v0.6h-0.6zM64.57 57.5h0.6v0.6h-0.6zM66.62 56.19h0.6v0.6h-0.6zM63.35 69.88h0.6v0.6h-0.6zM60.85 60.66h0.6v0.6h-0.6zM52.6 69.64h0.6v0.6h-0.6zM61.12 71.56h0.6v0.6h-0.6zM51.05 75.8h0.6v0.6h-0.6zM64.03 66.16h0.6v0.6h-0.6zM65.55 70.08h0.6v0.6h-0.6zM63.98 67.78h0.6v0.6h-0.6zM66.91 70.49h0.6v0.6h-0.6zM49.09 81.69h0.6v0.6h-0.6zM56.03 67.94h0.6v0.6h-0.6zM47.17 66.39h0.6v0.6h-0.6zM54.16 67.22h0.6v0.6h-0.6zM58 60.04h0.6v0.6h-0.6zM68.79 60.91h0.6v0.6h-0.6zM55.01 66.45h0.6v0.6h-0.6zM50.31 67.88h0.6v0.6h-0.6zM54.87 70.37h0.6v0.6h-0.6zM53.65 63.75h0.6v0.6h-0.6zM54.41 65.93h0.6v0.6h-0.6zM64.39 72.83h0.6v0.6h-0.6zM61.88 63.19h0.6v0.6h-0.6zM43.96 71.32h0.6v0.6h-0.6zM49.08 78.73h0.6v0.6h-0.6zM53.54 71.71h0.6v0.6h-0.6zM54.57 71.06h0.6v0.6h-0.6zM66.12 57.9h0.6v0.6h-0.6zM54.13 66.62h0.6v0.6h-0.6zM61.71 59.53h0.6v0.6h-0.6zM47.32 68.84h0.6v0.6h-0.6zM50.28 76.43h0.6v0.6h-0.6zM73.13 50.76h0.6v0.6h-0.6zM65.52 63.35h0.6v0.6h-0.6zM50.4 72.35h0.6v0.6h-0.6zM55.15 66.43h0.6v0.6h-0.6zM66.5 51.09h0.6v0.6h-0.6zM61.91 66.6h0.6v0.6h-0.6zM55 71.03h0.6v0.6h-0.6zM64.77 63.41h0.6v0.6h-0.6zM63.09 67.61h0.6v0.6h-0.6zM48.71 83.03h0.6v0.6h-0.6zM76.3 58.82h0.6v0.6h-0.6zM61.65 57.53h0.6v0.6h-0.6zM55.61 65.43h0.6v0.6h-0.6zM57.07 73.77h0.6v0.6h-0.6zM52.78 71.28h0.6v0.6h-0.6zM45.31 76.96h0.6v0.6h-0.6zM57.28 64.7h0.6v0.6h-0.6zM58.56 77.51h0.6v0.6h-0.6zM47.68 70.35h0.6v0.6h-0.6zM56.18 75.7h0.6v0.6h-0.6zM73.44 57.6h0.6v0.6h-0.6zM52.59 69.84h0.6v0.6h-0.6zM63.28 58.91h0.6v0.6h-0.6zM71.89 64.58h0.6v0.6h-0.6zM60.64 69.27h0.6v0.6h-0.6zM67.54 68.72h0.6v0.6h-0.6zM54.51 76.91h0.6v0.6h-0.6zM54 66.92h0.6v0.6h-0.6zM58.63 66.25h0.6v0.6h-0.6zM47.76 67.38h0.6v0.6h-0.6zM55.95 77.24h0.6v0.6h-0.6zM73.33 59.38h0.6v0.6h-0.6zM65.11 59.58h0.6v0.6h-0.6zM58.71 68.84h0.6v0.6h-0.6zM48.7 69.88h0.6v0.6h-0.6zM58.32 65.93h0.6v0.6h-0.6zM52.38 74.35h0.6v0.6h-0.6zM59.38 72.26h0.6v0.6h-0.6zM57.69 66.53h0.6v0.6h-0.6zM58.91 66.26h0.6v0.6h-0.6zM52.99 69.67h0.6v0.6h-0.6zM65.19 65.72h0.6v0.6h-0.6zM62.74 55.17h0.6v0.6h-0.6zM54.8 68.18h0.6v0.6h-0.6zM58.48 65.1h0.6v0.6h-0.6zM57.09 72.78h0.6v0.6h-0.6zM56.68 62.71h0.6v0.6h-0.6zM70.02 63.82h0.6v0.6h-0.6zM56.81 73.25h0.6v0.6h-0.6zM56.49 75.07h0.6v0.6h-0.6zM54.96 65.98h0.6v0.6h-0.6zM54.02 66.92h0.6v0.6h-0.6zM60.24 67.07h0.6v0.6h-0.6zM57.3 65.47h0.6v0.6h-0.6zM34.22 86.97h0.6v0.6h-0.6zM46.43 78.23h0.6v0.6h-0.6zM66.78 62.49h0.6v0.6h-0.6zM55.43 68.94h0.6v0.6h-0.6zM56.19 66.38h0.6v0.6h-0.6zM52.2 67.5h0.6v0.6h-0.6zM66.42 61.23h0.6v0.6h-0.6zM64.26 61.67h0.6v0.6h-0.6zM58.54 66.56h0.6v0.6h-0.6zM63.74 67.81h0.6v0.6h-0.6zM58.36 64.02h0.6v0.6h-0.6zM57.57 77.07h0.6v0.6h-0.6zM55.87 68h0.6v0.6h-0.6zM71.13 63.43h0.6v0.6h-0.6zM61.04 63.38h0.6v0.6h-0.6zM75.28 56.49h0.6v0.6h-0.6zM61.72 64.07h0.6v0.6h-0.6zM45.58 70.48h0.6v0.6h-0.6zM62.24 66.67h0.6v0.6h-0.6zM53.86 64.88h0.6v0.6h-0.6zM48 73.96h0.6v0.6h-0.6zM51.07 78.1h0.6v0.6h-0.6zM73.54 70.83h0.6v0.6h-0.6zM62.85 60.94h0.6v0.6h-0.6zM43.74 60.64h0.6v0.6h-0.6zM54.06 70.03h0.6v0.6h-0.6zM66.56 64.46h0.6v0.6h-0.6zM62.99 65.13h0.6v0.6h-0.6zM66.67 68.83h0.6v0.6h-0.6zM50.18 71.56h0.6v0.6h-0.6zM53.38 80.12h0.6v0.6h-0.6zM69.13 63.2h0.6v0.6h-0.6zM50.92 74.34h0.6v0.6h-0.6zM57.14 69h0.6v0.6h-0.6zM58.58 70.21h0.6v0.6h-0.6zM58.07 72.39h0.6v0.6h-0.6zM59.36 65.27h0.6v0.6h-0.6zM56.61 66.63h0.6v0.6h-0.6zM63.25 62.34h0.6v0.6h-0.6zM59.46 64.66h0.6v0.6h-0.6zM50.9 78.27h0.6v0.6h-0.6zM53.17 75.29h0.6v0.6h-0.6zM57.03 59.82h0.6v0.6h-0.6zM50.84 70.74h0.6v0.6h-0.6zM49.95 67.88h0.6v0.6h-0.6zM62.84 62.83h0.6v0.6h-0.6zM59.97 64.06h0.6v0.6h-0.6zM58.6 63.42h0.6v0.6h-0.6zM59.83 69.56h0.6v0.6h-0.6zM57.62 65.75h0.6v0.6h-0.6zM51.65 73.74h0.6v0.6h-0.6zM60.14 64.84h0.6v0.6h-0.6zM54.75 73.32h0.6v0.6h-0.6zM74.34 53.51h0.6v0.6h-0.6zM61.73 66.99h0.6v0.6h-0.6zM41.63 81.34h0.6v0.6h-0.6zM57.35 75.78h0.6v0.6h-0.6zM54.79 66.26h0.6v0.6h-0.6zM57.47 69.19h0.6v0.6h-0.6zM54.61 70.26h0.6v0.6h-0.6zM48.85 73.84h0.6v0.6h-0.6zM68.79 69.96h0.6v0.6h-0.6zM63.94 64.7h0.6v0.6h-0.6zM69.06 64.68h0.6v0.6h-0.6zM72.44 62.38h0.6v0.6h-0.6zM58.38 68.97h0.6v0.6h-0.6zM60.48 67.56h0.6v0.6h-0.6zM57.82 63.86h0.6v0.6h-0.6zM42.67 76.29h0.6v0.6h-0.6zM45.11 78.33h0.6v0.6h-0.6zM54.2 61.93h0.6v0.6h-0.6zM65.35 66.77h0.6v0.6h-0.6zM63.45 72.52h0.6v0.6h-0.6zM67.92 53.71h0.6v0.6h-0.6zM66.58 63.53h0.6v0.6h-0.6zM63.72 68.4h0.6v0.6h-0.6zM52.15 69.3h0.6v0.6h-0.6zM51.01 69.33h0.6v0.6h-0.6zM54.09 63.21h0.6v0.6h-0.6zM52.99 74.88h0.6v0.6h-0.6zM59.01 69.14h0.6v0.6h-0.6zM43.82 74.79h0.6v0.6h-0.6zM54.86 70.51h0.6v0.6h-0.6zM56.99 73.66h0.6v0.6h-0.6zM58.15 67.86h0.6v0.6h-0.6zM60.42 69.77h0.6v0.6h-0.6zM58.24 73.68h0.6v0.6h-0.6zM61.98 65.6h0.6v0.6h-0.6zM60.12 69h0.6v0.6h-0.6zM67.75 65.32h0.6v0.6h-0.6zM63.28 68.43h0.6v0.6h-0.6zM62.53 71.03h0.6v0.6h-0.6zM52.96 60.77h0.6v0.6h-0.6zM67.74 60.86h0.6v0.6h-0.6zM50.14 72.97h0.6v0.6h-0.6zM58.01 79.08h0.6v0.6h-0.6zM57.78 59.7h0.6v0.6h-0.6zM61.13 63.32h0.6v0.6h-0.6zM68.62 53.99h0.6v0.6h-0.6zM43.62 79.48h0.6v0.6h-0.6zM55.09 67.94h0.6v0.6h-0.6zM45.26 80.12h0.6v0.6h-0.6zM64.77 52.42h0.6v0.6h-0.6zM64.87 59.49h0.6v0.6h-0.6zM75.36 56.65h0.6v0.6h-0.6zM60.1 72.14h0.6v0.6h-0.6zM60.49 62.79h0.6v0.6h-0.6zM61.94 62.09h0.6v0.6h-0.6zM51.77 83.58h0.6v0.6h-0.6zM54.58 67.31h0.6v0.6h-0.6zM56.74 60.57h0.6v0.6h-0.6zM48.14 72.93h0.6v0.6h-0.6zM55.2 70.46h0.6v0.6h-0.6zM64.79 60.06h0.6v0.6h-0.6zM63.36 66.91h0.6v0.6h-0.6zM51.83 73.93h0.6v0.6h-0.6zM54.94 75.95h0.6v0.6h-0.6zM61.59 65.17h0.6v0.6h-0.6zM49.83 74.89h0.6v0.6h-0.6zM55.19 73.85h0.6v0.6h-0.6zM55.6 65.44h0.6v0.6h-0.6zM66.56 65.04h0.6v0.6h-0.6zM57.53 74.45h0.6v0.6h-0.6zM55.7 68.04h0.6v0.6h-0.6zM57.38 64.36h0.6v0.6h-0.6zM55.13 69.28h0.6v0.6h-0.6zM72.63 64.46h0.6v0.6h-0.6zM60.93 74.18h0.6v0.6h-0.6zM59.19 68.99h0.6v0.6h-0.6zM65.17 63.84h0.6v0.6h-0.6zM75.31 55.67h0.6v0.6h-0.6zM53.85 78.09h0.6v0.6h-0.6zM54.95 68.65h0.6v0.6h-0.6zM41.05 86.47h0.6v0.6h-0.6zM66.05 65.86h0.6v0.6h-0.6zM69.43 67.98h0.6v0.6h-0.6zM60.62 70.84h0.6v0.6h-0.6zM52.6 70.22h0.6v0.6h-0.6zM66.59 63.26h0.6v0.6h-0.6zM50.5 75.67h0.6v0.6h-0.6zM55.16 65.75h0.6v0.6h-0.6zM60.36 63.89h0.6v0.6h-0.6zM45.11 72.04h0.6v0.6h-0.6zM66.43 53.23h0.6v0.6h-0.6zM61.57 68.35h0.6v0.6h-0.6zM59.61 60.1h0.6v0.6h-0.6zM56.71 69.65h0.6v0.6h-0.6zM62.19 61.18h0.6v0.6h-0.6zM53.3 76.91h0.6v0.6h-0.6zM66.86 62.94h0.6v0.6h-0.6zM55.47 72.03h0.6v0.6h-0.6zM61.4 69.7h0.6v0.6h-0.6zM50.43 74.42h0.6v0.6h-0.6zM54.57 64.66h0.6v0.6h-0.6zM60.03 66.49h0.6v0.6h-0.6zM56.78 70.96h0.6v0.6h-0.6zM48.86 74.75h0.6v0.6h-0.6zM62.12 66.18h0.6v0.6h-0.6zM62.6 57.89h0.6v0.6h-0.6zM49.02 76.18h0.6v0.6h-0.6zM67.03 72.13h0.6v0.6h-0.6zM60.37 61.38h0.6v0.6h-0.6zM61.71 60.48h0.6v0.6h-0.6zM55.29 83.91h0.6v0.6h-0.6zM62.53 68.16h0.6v0.6h-0.6zM66.96 70.55h0.6v0.6h-0.6zM63.55 70.04h0.6v0.6h-0.6zM48.02 68.27h0.6v0.6h-0.6zM71.87 64.92h0.6v0.6h-0.6zM62.51 65.58h0.6v0.6h-0.6zM57.83 64.35h0.6v0.6h-0.6zM70.51 61.63h0.6v0.6h-0.6zM62.86 66.1h0.6v0.6h-0.6zM66.82 63.69h0.6v0.6h-0.6zM60.47 59.73h0.6v0.6h-0.6zM67.57 72.07h0.6v0.6h-0.6zM54.69 69.79h0.6v0.6h-0.6zM66.95 66h0.6v0.6h-0.6zM58.5 58.88h0.6v0.6h-0.6zM58.8 60.96h0.6v0.6h-0.6zM54.39 73.63h0.6v0.6h-0.6zM58.61 71.73h0.6v0.6h-0.6zM81.6 53.6h0.6v0.6h-0.6zM61.03 60.75h0.6v0.6h-0.6zM51.44 67.34h0.6v0.6h-0.6zM52.11 66.67h0.6v0.6h-0.6zM53.54 70.26h0.6v0.6h-0.6zM48.13 68.04h0.6v0.6h-0.6zM50.55 76.13h0.6v0.6h-0.6zM61.55 70.58h0.6v0.6h-0.6zM64.61 60.91h0.6v0.6h-0.6zM59.26 59.23h0.6v0.6h-0.6zM76.88 59.51h0.6v0.6h-0.6zM54.05 64.78h0.6v0.6h-0.6zM56.21 59.32h0.6v0.6h-0.6zM55.22 74.06h0.6v0.6h-0.6zM57.74 65.48h0.6v0.6h-0.6zM62.18 59.09h0.6v0.6h-0.6zM59.12 64.36h0.6v0.6h-0.6zM54.02 73.47h0.6v0.6h-0.6zM56.77 78.99h0.6v0.6h-0.6zM59.73 77.15h0.6v0.6h-0.6zM52.74 75.23h0.6v0.6h-0.6zM47 69.34h0.6v0.6h-0.6zM61.32 68.91h0.6v0.6h-0.6zM53.03 78.09h0.6v0.6h-0.6zM53.5 72.11h0.6v0.6h-0.6zM62.58 67.48h0.6v0.6h-0.6zM50.64 82.27h0.6v0.6h-0.6zM61.16 63.15h0.6v0.6h-0.6zM47.26 67.25h0.6v0.6h-0.6zM50.79 76.43h0.6v0.6h-0.6zM53.29 65.54h0.6v0.6h-0.6zM59.01 75.43h0.6v0.6h-0.6zM54.77 67.3h0.6v0.6h-0.6zM68.74 61.96h0.6v0.6h-0.6zM57.23 65.26h0.6v0.6h-0.6zM45.08 71.75h0.6v0.6h-0.6zM54.71 69.29h0.6v0.6h-0.6zM62.31 67.46h0.6v0.6h-0.6zM60.56 67.06h0.6v0.6h-0.6zM46.18 65.64h0.6v0.6h-0.6zM52.54 67.07h0.6v0.6h-0.6zM53.42 70.01h0.6v0.6h-0.6zM47.3 70.33h0.6v0.6h-0.6zM58.13 68.41h0.6v0.6h-0.6zM55.39 72.58h0.6v0.6h-0.6zM54.39 65.27h0.6v0.6h-0.6zM63.64 73.52h0.6v0.6h-0.6zM56.99 74.89h0.6v0.6h-0.6zM71.6 65.25h0.6v0.6h-0.6zM58.2 78.48h0.6v0.6h-0.6zM58.62 66.05h0.6v0.6h-0.6zM58.51 70.7h0.6v0.6h-0.6zM58.39 66.65h0.6v0.6h-0.6zM65.23 58.39h0.6v0.6h-0.6zM53.56 75.58h0.6v0.6h-0.6zM66.04 67.44h0.6v0.6h-0.6zM54.11 76.69h0.6v0.6h-0.6zM66.29 70.81h0.6v0.6h-0.6zM50.7 74.75h0.6v0.6h-0.6zM52.53 63.69h0.6v0.6h-0.6zM56.63 74.97h0.6v0.6h-0.6zM53.49 67.56h0.6v0.6h-0.6zM66.87 66.23h0.6v0.6h-0.6zM63.07 59.72h0.6v0.6h-0.6zM60.78 71.21h0.6v0.6h-0.6zM52.17 68.45h0.6v0.6h-0.6zM68.09 68.34h0.6v0.6h-0.6zM44.07 64.93h0.6v0.6h-0.6zM46.17 71.74h0.6v0.6h-0.6zM59.17 70.26h0.6v0.6h-0.6zM55.71 65.95h0.6v0.6h-0.6zM57.04 63.51h0.6v0.6h-0.6zM56.53 65.62h0.6v0.6h-0.6zM78.57 56.18h0.6v0.6h-0.6zM50.33 68.57h0.6v0.6h-0.6zM51.31 64.35h0.6v0.6h-0.6zM51.7 68.88h0.6v0.6h-0.6zM63.32 61.46h0.6v0.6h-0.6zM49.74 67.2h0.6v0.6h-0.6zM50.45 73.44h0.6v0.6h-0.6zM59.99 72.38h0.6v0.6h-0.6zM57.02 74.3h0.6v0.6h-0.6zM60.21 66.14h0.6v0.6h-0.6zM41.71 73.74h0.6v0.6h-0.6zM67.08 68.25h0.6v0.6h-0.6zM61.85 68.94h0.6v0.6h-0.6zM54.81 68.4h0.6v0.6h-0.6zM56.58 74.2h0.6v0.6h-0.6zM60.19 64.93h0.6v0.6h-0.6zM57.74 71.06h0.6v0.6h-0.6zM58.51 63.06h0.6v0.6h-0.6zM70.66 59.37h0.6v0.6h-0.6zM62.39 72.33h0.6v0.6h-0.6zM65.13 61.85h0.6v0.6h-0.6zM59.32 61.15h0.6v0.6h-0.6zM48.36 63.37h0.6v0.6h-0.6zM61.77 54.83h0.6v0.6h-0.6zM60.92 61.19h0.6v0.6h-0.6zM51.44 71.98h0.6v0.6h-0.6zM61.87 68.13h0.6v0.6h-0.6zM71.29 59.42h0.6v0.6h-0.6zM62.85 60.91h0.6v0.6h-0.6zM63.68 64.27h0.6v0.6h-0.6zM55.15 69.61h0.6v0.6h-0.6zM58.58 68.46h0.6v0.6h-0.6zM59.87 63.72h0.6v0.6h-0.6zM55.47 73.85h0.6v0.6h-0.6zM45.54 74.33h0.6v0.6h-0.6zM61.9 50.42h0.6v0.6h-0.6zM55.64 73.4h0.6v0.6h-0.6zM54.16 84.74h0.6v0.6h-0.6zM44.88 85.8h0.6v0.6h-0.6zM71.3 62.38h0.6v0.6h-0.6zM57.94 69.84h0.6v0.6h-0.6zM54.58 74.87h0.6v0.6h-0.6zM50.29 72.45h0.6v0.6h-0.6zM62.29 58.6h0.6v0.6h-0.6zM56.48 69.95h0.6v0.6h-0.6zM52.52 78.38h0.6v0.6h-0.6zM56.86 60.7h0.6v0.6h-0.6zM56.18 65.18h0.6v0.6h-0.6zM54.29 71.2h0.6v0.6h-0.6zM56.24 74.41h0.6v0.6h-0.6zM56.32 74.44h0.6v0.6h-0.6zM60.42 70.56h0.6v0.6h-0.6zM53.57 68.66h0.6v0.6h-0.6zM52.28 75.44h0.6v0.6h-0.6zM70.26 69.61h0.6v0.6h-0.6zM67.79 61.57h0.6v0.6h-0.6zM58.09 69.89h0.6v0.6h-0.6zM62.1 72.49h0.6v0.6h-0.6zM62.66 59.79h0.6v0.6h-0.6zM57.43 75.62h0.6v0.6h-0.6zM59.96 65.12h0.6v0.6h-0.6zM65.44 60.01h0.6v0.6h-0.6zM55.43 67.44h0.6v0.6h-0.6zM47.6 80.63h0.6v0.6h-0.6zM48.93 71.95h0.6v0.6h-0.6zM55.4 73.8h0.6v0.6h-0.6zM58.08 67.91h0.6v0.6h-0.6zM47.02 76h0.6v0.6h-0.6zM49.41 76.24h0.6v0.6h-0.6zM60.91 65.52h0.6v0.6h-0.6zM73.55 58.55h0.6v0.6h-0.6zM62.86 64.85h0.6v0.6h-0.6zM59.71 71.71h0.6v0.6h-0.6zM62.51 57.43h0.6v0.6h-0.6zM66.89 63.68h0.6v0.6h-0.6zM66.14 64.02h0.6v0.6h-0.6zM47.13 70.13h0.6v0.6h-0.6zM71.37 58.79h0.6v0.6h-0.6zM49.91 76.07h0.6v0.6h-0.6zM51.31 63.29h0.6v0.6h-0.6zM39.02 74.18h0.6v0.6h-0.6zM60.2 65.92h0.6v0.6h-0.6zM57.57 69.75h0.6v0.6h-0.6zM57.09 57.4h0.6v0.6h-0.6zM54.34 66.34h0.6v0.6h-0.6zM48.83 72.14h0.6v0.6h-0.6zM56.99 67.26h0.6v0.6h-0.6zM47.51 73.51h0.6v0.6h-0.6zM69.28 53.46h0.6v0.6h-0.6zM47.91 77.24h0.6v0.6h-0.6zM63.7 65.91h0.6v0.6h-0.6zM53.58 76.66h0.6v0.6h-0.6zM50.31 67.85h0.6v0.6h-0.6zM54.14 70.32h0.6v0.6h-0.6zM64.9 65.83h0.6v0.6h-0.6zM60.76 70.71h0.6v0.6h-0.6zM61.36 70.04h0.6v0.6h-0.6zM45.03 69.64h0.6v0.6h-0.6zM60.1 58.84h0.6v0.6h-0.6zM56.23 68.75h0.6v0.6h-0.6zM54.06 68.55h0.6v0.6h-0.6zM61.29 51.84h0.6v0.6h-0.6zM70.36 70.47h0.6v0.6h-0.6zM58.61 67.31h0.6v0.6h-0.6zM68.09 69.75h0.6v0.6h-0.6zM50.77 74.01h0.6v0.6h-0.6zM58.7 70.33h0.6v0.6h-0.6zM61.27 68.85h0.6v0.6h-0.6zM55.8 69.87h0.6v0.6h-0.6zM52.29 68.81h0.6v0.6h-0.6zM57.18 67.77h0.6v0.6h-0.6zM54.71 78.83h0.6v0.6h-0.6zM54.02 63.63h0.6v0.6h-0.6zM63.94 59.26h0.6v0.6h-0.6zM61.86 64.78h0.6v0.6h-0.6zM60.62 66.75h0.6v0.6h-0.6zM54.75 70.65h0.6v0.6h-0.6zM66.33 49.45h0.6v0.6h-0.6zM60.07 68.59h0.6v0.6h-0.6zM47.91 68.47h0.6v0.6h-0.6zM72 54.97h0.6v0.6h-0.6zM73.81 58.39h0.6v0.6h-0.6zM60.24 68.68h0.6v0.6h-0.6zM65.8 68.08h0.6v0.6h-0.6zM61.79 65.7h0.6v0.6h-0.6zM63.18 71.05h0.6v0.6h-0.6zM61.38 59.91h0.6v0.6h-0.6zM55.1 71.92h0.6v0.6h-0.6zM53.35 69.51h0.6v0.6h-0.6zM51.42 71.64h0.6v0.6h-0.6zM63.91 68.58h0.6v0.6h-0.6zM63.93 74.32h0.6v0.6h-0.6zM66.25 78.47h0.6v0.6h-0.6zM66.49 63.9h0.6v0.6h-0.6zM47.85 60.76h0.6v0.6h-0.6zM57.92 68.9h0.6v0.6h-0.6zM67.81 52.87h0.6v0.6h-0.6zM70.62 56.69h0.6v0.6h-0.6zM56.78 55.3h0.6v0.6h-0.6zM58.54 65.63h0.6v0.6h-0.6zM63.31 64.23h0.6v0.6h-0.6zM53.3 76.61h0.6v0.6h-0.6zM64.7 65.84h0.6v0.6h-0.6zM68.1 65.86h0.6v0.6h-0.6zM54.84 63.12h0.6v0.6h-0.6zM52.71 79.21h0.6v0.6h-0.6zM63.52 64.12h0.6v0.6h-0.6zM55.67 69.88h0.6v0.6h-0.6zM57.8 66.26h0.6v0.6h-0.6zM59.41 78.32h0.6v0.6h-0.6zM58.46 64.3h0.6v0.6h-0.6zM47.9 71.91h0.6v0.6h-0.6zM65.28 66.24h0.6v0.6h-0.6zM57.17 68.81h0.6v0.6h-0.6zM53.59 65.43h0.6v0.6h-0.6zM68.18 61.92h0.6v0.6h-0.6zM73.13 52.04h0.6v0.6h-0.6zM59.86 71.14h0.6v0.6h-0.6zM53.27 64.19h0.6v0.6h-0.6zM52.4 72.8h0.6v0.6h-0.6zM60.56 65.39h0.6v0.6h-0.6zM67.79 65.53h0.6v0.6h-0.6zM60.73 65.9h0.6v0.6h-0.6zM58.23 70.65h0.6v0.6h-0.6zM64.82 62.89h0.6v0.6h-0.6zM60.68 64.07h0.6v0.6h-0.6zM46.46 71.57h0.6v0.6h-0.6zM64.79 64.97h0.6v0.6h-0.6zM69.3 59.36h0.6v0.6h-0.6zM67.71 67.35h0.6v0.6h-0.6zM63.59 60.28h0.6v0.6h-0.6zM57.6 68.9h0.6v0.6h-0.6zM53.12 74.23h0.6v0.6h-0.6zM64.12 60.55h0.6v0.6h-0.6zM70.96 56.22h0.6v0.6h-0.6zM56.52 67.77h0.6v0.6h-0.6zM54.84 72.59h0.6v0.6h-0.6zM62.93 72.89h0.6v0.6h-0.6zM63.96 66.1h0.6v0.6h-0.6zM53.36 63.98h0.6v0.6h-0.6zM55.7 65.15h0.6v0.6h-0.6zM64.8 62.42h0.6v0.6h-0.6zM71.56 61.22h0.6v0.6h-0.6zM64.69 63.89h0.6v0.6h-0.6zM61.59 68.57h0.6v0.6h-0.6zM62.84 60.32h0.6v0.6h-0.6zM68.57 73.6h0.6v0.6h-0.6zM57.24 67.12h0.6v0.6h-0.6zM50.12 66.33h0.6v0.6h-0.6zM66.62 61.48h0.6v0.6h-0.6zM65.28 72.04h0.6v0.6h-0.6zM73.01 51.43h0.6v0.6h-0.6zM67.18 64.05h0.6v0.6h-0.6zM62.42 67h0.6v0.6h-0.6zM62.47 72.88h0.6v0.6h-0.6zM63.53 65.42h0.6v0.6h-0.6zM69.19 63.94h0.6v0.6h-0.6zM62.45 66.17h0.6v0.6h-0.6zM71.6 59.99h0.6v0.6h-0.6zM55.71 65.13h0.6v0.6h-0.6zM53.51 65.82h0.6v0.6h-0.6zM59.91 67.78h0.6v0.6h-0.6zM44.84 78.29h0.6v0.6h-0.6zM63.3 64.65h0.6v0.6h-0.6zM55.41 76.69h0.6v0.6h-0.6zM50.68 67.07h0.6v0.6h-0.6zM51.25 73.1h0.6v0.6h-0.6zM68.12 66.21h0.6v0.6h-0.6zM56.84 62.45h0.6v0.6h-0.6zM51.8 67.96h0.6v0.6h-0.6zM52.73 62.56h0.6v0.6h-0.6zM60.93 69.05h0.6v0.6h-0.6zM58.7 69.8h0.6v0.6h-0.6zM48.46 67.59h0.6v0.6h-0.6zM57.23 74.66h0.6v0.6h-0.6zM64.23 60.6h0.6v0.6h-0.6zM65.73 60.12h0.6v0.6h-0.6zM69.88 61.18h0.6v0.6h-0.6zM57.54 72.5h0.6v0.6h-0.6zM50.9 68.46h0.6v0.6h-0.6zM49.45 75.95h0.6v0.6h-0.6zM57.94 67.52h0.6v0.6h-0.6zM59.47 74.4h0.6v0.6h-0.6zM53.79 67.32h0.6v0.6h-0.6zM70.52 65.68h0.6v0.6h-0.6zM56.27 59.97h0.6v0.6h-0.6zM56.07 72.67h0.6v0.6h-0.6zM62.64 72.55h0.6v0.6h-0.6zM51.1 76.9h0.6v0.6h-0.6zM57.72 75.16h0.6v0.6h-0.6zM60.66 71.3h0.6v0.6h-0.6zM50.52 66.22h0.6v0.6h-0.6zM49.49 71.3h0.6v0.6h-0.6zM54.74 76.84h0.6v0.6h-0.6zM68.17 61.4h0.6v0.6h-0.6zM51.27 72.52h0.6v0.6h-0.6zM57.67 75.9h0.6v0.6h-0.6zM61.88 67.47h0.6v0.6h-0.6zM50.62 62.93h0.6v0.6h-0.6zM50.45 67.84h0.6v0.6h-0.6zM61.23 65.88h0.6v0.6h-0.6zM52.13 70.41h0.6v0.6h-0.6zM66.51 56.13h0.6v0.6h-0.6zM51.76 71.55h0.6v0.6h-0.6zM52.71 69.74h0.6v0.6h-0.6zM66.54 70.45h0.6v0.6h-0.6zM46.53 76.75h0.6v0.6h-0.6zM58.56 67.01h0.6v0.6h-0.6zM56.37 67.35h0.6v0.6h-0.6zM64.02 60.71h0.6v0.6h-0.6zM57.65 68.17h0.6v0.6h-0.6zM58.78 66.37h0.6v0.6h-0.6zM65.17 62.24h0.6v0.6h-0.6zM59.53 66.42h0.6v0.6h-0.6zM49.64 70h0.6v0.6h-0.6zM51.97 73.63h0.6v0.6h-0.6zM50.98 67.72h0.6v0.6h-0.6zM61.45 67.99h0.6v0.6h-0.6zM51.08 82.31h0.6v0.6h-0.6zM58.44 66.98h0.6v0.6h-0.6zM65.83 62.15h0.6v0.6h-0.6zM60.13 77.92h0.6v0.6h-0.6zM51.05 72.8h0.6v0.6h-0.6zM61.41 59.53h0.6v0.6h-0.6zM58.82 69.31h0.6v0.6h-0.6zM72.28 51.98h0.6v0.6h-0.6zM59.88 69.93h0.6v0.6h-0.6zM55.93 63.09h0.6v0.6h-0.6zM61.51 65.72h0.6v0.6h-0.6zM64.41 68.91h0.6v0.6h-0.6zM66.34 63.55h0.6v0.6h-0.6zM57.74 62.24h0.6v0.6h-0.6zM58.17 68.93h0.6v0.6h-0.6zM56.07 69.92h0.6v0.6h-0.6zM56.94 76.9h0.6v0.6h-0.6zM71.91 54.95h0.6v0.6h-0.6zM60.58 64.63h0.6v0.6h-0.6zM68.08 62.33h0.6v0.6h-0.6zM58.44 66.36h0.6v0.6h-0.6zM56.76 63.53h0.6v0.6h-0.6zM61.18 61.6h0.6v0.6h-0.6zM62.42 65.13h0.6v0.6h-0.6zM65.79 61.71h0.6v0.6h-0.6zM62.97 59.09h0.6v0.6h-0.6zM62 63.57h0.6v0.6h-0.6zM59.99 66.72h0.6v0.6h-0.6zM59.55 55.92h0.6v0.6h-0.6zM56.8 60.86h0.6v0.6h-0.6zM61.48 54.66h0.6v0.6h-0.6zM47.45 67.21h0.6v0.6h-0.6zM66.15 54.66h0.6v0.6h-0.6zM57.88 65.13h0.6v0.6h-0.6zM45.57 75.8h0.6v0.6h-0.6zM62.46 63.42h0.6v0.6h-0.6zM63.87 61.38h0.6v0.6h-0.6zM57.55 66.19h0.6v0.6h-0.6zM65.71 71.99h0.6v0.6h-0.6zM61.43 66.25h0.6v0.6h-0.6zM52.4 68.24h0.6v0.6h-0.6zM65.43 56.16h0.6v0.6h-0.6zM52.13 71.96h0.6v0.6h-0.6zM60.7 76.21h0.6v0.6h-0.6zM43.59 81.08h0.6v0.6h-0.6zM60.38 60.06h0.6v0.6h-0.6zM55.3 72.3h0.6v0.6h-0.6zM67.03 55.93h0.6v0.6h-0.6zM50.44 78.98h0.6v0.6h-0.6zM67.84 58.42h0.6v0.6h-0.6zM47.43 83.89h0.6v0.6h-0.6zM60.08 72.26h0.6v0.6h-0.6zM57.24 66.48h0.6v0.6h-0.6zM59.28 74.74h0.6v0.6h-0.6zM62.58 52.92h0.6v0.6h-0.6zM56.82 78.28h0.6v0.6h-0.6zM52.52 64.92h0.6v0.6h-0.6zM58.25 67.12h0.6v0.6h-0.6zM56.61 66.42h0.6v0.6h-0.6zM55.24 67.61h0.6v0.6h-0.6zM58.63 63.06h0.6v0.6h-0.6zM56.19 68.54h0.6v0.6h-0.6zM68.21 61.9h0.6v0.6h-0.6zM59.15 69.85h0.6v0.6h-0.6zM64.03 68.98h0.6v0.6h-0.6zM66.53 70.79h0.6v0.6h-0.6zM67.4 60.33h0.6v0.6h-0.6zM58.01 72.59h0.6v0.6h-0.6zM61.72 64.48h0.6v0.6h-0.6zM43.87 69.16h0.6v0.6h-0.6zM62.83 68.23h0.6v0.6h-0.6zM60.55 59.04h0.6v0.6h-0.6zM64.07 60.3h0.6v0.6h-0.6zM62.18 66.85h0.6v0.6h-0.6zM51.6 69.74h0.6v0.6h-0.6zM42.24 75.31h0.6v0.6h-0.6zM47.56 78.38h0.6v0.6h-0.6zM61.27 70.2h0.6v0.6h-0.6zM59.25 63.53h0.6v0.6h-0.6zM59.81 64.4h0.6v0.6h-0.6zM63.4 65.36h0.6v0.6h-0.6zM51.88 72.68h0.6v0.6h-0.6zM58.07 66.19h0.6v0.6h-0.6zM68.92 68.49h0.6v0.6h-0.6zM55.13 68.26h0.6v0.6h-0.6zM43.11 78.84h0.6v0.6h-0.6zM49.99 62.63h0.6v0.6h-0.6zM61.96 67.95h0.6v0.6h-0.6zM52.62 70.11h0.6v0.6h-0.6zM54 75.08h0.6v0.6h-0.6zM47.53 74.4h0.6v0.6h-0.6z" fill="#b01020" opacity="0.45"/>
<path d="M67.22 59.78h0.6v0.6h-0.6zM62.28 63.09h0.6v0.6h-0.6zM57.25 67.34h0.6v0.6h-0.6zM60.9 61.73h0.6v0.6h-0.6zM63.76 65.82h0.6v0.6h-0.6zM62.23 59.12h0.6v0.6h-0.6zM55.74 64.1h0.6v0.6h-0.6zM65.2 62.92h0.6v0.6h-0.6zM62.03 61.25h0.6v0.6h-0.6zM57.43 67.51h0.6v0.6h-0.6zM60.16 62.77h0.6v0.6h-0.6zM62.32 65.27h0.6v0.6h-0.6zM60.31 62.14h0.6v0.6h-0.6zM53.99 69.25h0.6v0.6h-0.6zM61.17 63.64h0.6v0.6h-0.6zM58.71 64.36h0.6v0.6h-0.6zM63.18 62.65h0.6v0.6h-0.6zM60.07 62.51h0.6v0.6h-0.6zM59.27 66.31h0.6v0.6h-0.6zM56.13 64.79h0.6v0.6h-0.6zM61.59 67.39h0.6v0.6h-0.6zM63.58 66.56h0.6v0.6h-0.6zM60.17 64.29h0.6v0.6h-0.6zM55.83 66.93h0.6v0.6h-0.6zM65.97 61.53h0.6v0.6h-0.6zM64.27 63.92h0.6v0.6h-0.6zM60.69 64.17h0.6v0.6h-0.6zM62.28 65.37h0.6v0.6h-0.6zM63.11 64.23h0.6v0.6h-0.6zM60.44 62.79h0.6v0.6h-0.6zM58.9 63.51h0.6v0.6h-0.6zM61.32 58.38h0.6v0.6h-0.6zM63.55 69.18h0.6v0.6h-0.6zM58.39 63.37h0.6v0.6h-0.6zM62.69 66.78h0.6v0.6h-0.6zM61.33 65.96h0.6v0.6h-0.6zM60.81 63.61h0.6v0.6h-0.6zM71.03 56.87h0.6v0.6h-0.6zM58.64 64.97h0.6v0.6h-0.6zM62.75 64.27h0.6v0.6h-0.6zM63.62 62.84h0.6v0.6h-0.6zM57.21 68.95h0.6v0.6h-0.6zM59.64 64.76h0.6v0.6h-0.6zM55.55 67.16h0.6v0.6h-0.6zM58.66 66.23h0.6v0.6h-0.6zM56.49 68.17h0.6v0.6h-0.6zM59.88 62.25h0.6v0.6h-0.6zM57.87 64.55h0.6v0.6h-0.6zM60.44 57.88h0.6v0.6h-0.6zM57.67 62.47h0.6v0.6h-0.6zM60.79 67.03h0.6v0.6h-0.6zM59.2 66.29h0.6v0.6h-0.6zM60.96 69.94h0.6v0.6h-0.6zM65.41 64.21h0.6v0.6h-0.6zM55.32 65.86h0.6v0.6h-0.6zM64.14 61.5h0.6v0.6h-0.6zM60.64 65.71h0.6v0.6h-0.6zM58.09 68.93h0.6v0.6h-0.6zM61.71 65.29h0.6v0.6h-0.6zM59.58 67.04h0.6v0.6h-0.6zM60.07 67.89h0.6v0.6h-0.6zM65.8 63.3h0.6v0.6h-0.6zM63.49 64.33h0.6v0.6h-0.6zM53.6 72.61h0.6v0.6h-0.6zM60.26 65.34h0.6v0.6h-0.6zM58.22 62.79h0.6v0.6h-0.6zM60.19 66.97h0.6v0.6h-0.6zM64.62 59.93h0.6v0.6h-0.6zM60.12 69.24h0.6v0.6h-0.6zM61.03 70.27h0.6v0.6h-0.6zM59.96 62.84h0.6v0.6h-0.6zM66.4 65.01h0.6v0.6h-0.6zM58.59 70.74h0.6v0.6h-0.6zM62.13 67.77h0.6v0.6h-0.6zM57.66 62.7h0.6v0.6h-0.6zM63.84 64.87h0.6v0.6h-0.6zM69.94 62.33h0.6v0.6h-0.6zM62.87 62.38h0.6v0.6h-0.6zM58.96 65.27h0.6v0.6h-0.6zM58.01 66.07h0.6v0.6h-0.6zM53.22 71.08h0.6v0.6h-0.6zM64.38 69.02h0.6v0.6h-0.6zM62.74 61.8h0.6v0.6h-0.6zM61.12 60.98h0.6v0.6h-0.6zM56.57 62.75h0.6v0.6h-0.6zM66.33 61.99h0.6v0.6h-0.6zM57.21 67.29h0.6v0.6h-0.6zM64.66 63.02h0.6v0.6h-0.6zM61.04 62.07h0.6v0.6h-0.6zM59.12 66.23h0.6v0.6h-0.6zM62.78 60.8h0.6v0.6h-0.6zM59.01 69.24h0.6v0.6h-0.6zM59.53 68.66h0.6v0.6h-0.6zM62.96 65.43h0.6v0.6h-0.6zM67.43 61.4h0.6v0.6h-0.6zM62.2 61h0.6v0.6h-0.6zM59.68 67.33h0.6v0.6h-0.6zM67.72 63.14h0.6v0.6h-0.6zM68.72 59.33h0.6v0.6h-0.6zM63 65.74h0.6v0.6h-0.6zM60.98 64.35h0.6v0.6h-0.6zM59.04 68.8h0.6v0.6h-0.6zM58.31 68.03h0.6v0.6h-0.6zM58.01 69.9h0.6v0.6h-0.6zM58.9 68.5h0.6v0.6h-0.6zM55.39 67.65h0.6v0.6h-0.6zM63.62 60.2h0.6v0.6h-0.6zM60.56 63.51h0.6v0.6h-0.6zM54.14 70.72h0.6v0.6h-0.6zM60.86 61.52h0.6v0.6h-0.6zM61.73 61.71h0.6v0.6h-0.6zM57.85 66.98h0.6v0.6h-0.6zM61.96 70.15h0.6v0.6h-0.6zM57.1 69.61h0.6v0.6h-0.6zM61.44 58.63h0.6v0.6h-0.6zM56.3 69.74h0.6v0.6h-0.6zM60 66.35h0.6v0.6h-0.6zM64.09 61.05h0.6v0.6h-0.6zM53.95 62.39h0.6v0.6h-0.6zM60.39 62.39h0.6v0.6h-0.6zM62.3 64.13h0.6v0.6h-0.6zM58.97 70.9h0.6v0.6h-0.6zM65.56 63.3h0.6v0.6h-0.6zM56.71 66.71h0.6v0.6h-0.6zM58.71 65.13h0.6v0.6h-0.6zM58.05 68.02h0.6v0.6h-0.6zM62.22 64.57h0.6v0.6h-0.6zM61.15 67.98h0.6v0.6h-0.6zM57.88 59.29h0.6v0.6h-0.6zM58.91 65.98h0.6v0.6h-0.6zM63.64 61.6h0.6v0.6h-0.6zM59.31 63.97h0.6v0.6h-0.6zM62.49 62.09h0.6v0.6h-0.6zM58.09 64.7h0.6v0.6h-0.6zM62.03 62.21h0.6v0.6h-0.6zM56.56 69.71h0.6v0.6h-0.6zM59.27 66.85h0.6v0.6h-0.6zM63.81 65.67h0.6v0.6h-0.6zM63.51 60.93h0.6v0.6h-0.6zM58.73 62.67h0.6v0.6h-0.6zM66.89 61.13h0.6v0.6h-0.6zM64.96 60.51h0.6v0.6h-0.6zM56.62 72.2h0.6v0.6h-0.6zM61.47 64.5h0.6v0.6h-0.6zM62.05 65.48h0.6v0.6h-0.6zM60.53 60.43h0.6v0.6h-0.6zM63.71 60.91h0.6v0.6h-0.6zM61.87 68.64h0.6v0.6h-0.6zM63.44 61.65h0.6v0.6h-0.6zM55.37 69.35h0.6v0.6h-0.6zM62.59 63.03h0.6v0.6h-0.6zM56 66.2h0.6v0.6h-0.6zM57.34 67.96h0.6v0.6h-0.6zM64.97 64.26h0.6v0.6h-0.6zM59.01 66.71h0.6v0.6h-0.6zM62.05 62.25h0.6v0.6h-0.6zM63.41 68.55h0.6v0.6h-0.6zM62.84 65.53h0.6v0.6h-0.6zM59.69 65.64h0.6v0.6h-0.6zM55.56 68.68h0.6v0.6h-0.6zM67.6 65.2h0.6v0.6h-0.6zM65.7 62.74h0.6v0.6h-0.6zM60.35 63.33h0.6v0.6h-0.6zM61.32 65.96h0.6v0.6h-0.6zM59.79 68.05h0.6v0.6h-0.6zM55.49 63.84h0.6v0.6h-0.6zM55.55 64.11h0.6v0.6h-0.6zM58.21 69.84h0.6v0.6h-0.6zM60.67 65.37h0.6v0.6h-0.6zM66.36 63.83h0.6v0.6h-0.6zM61.21 68.05h0.6v0.6h-0.6zM62.22 63.56h0.6v0.6h-0.6zM60.46 60.94h0.6v0.6h-0.6zM58.38 66.25h0.6v0.6h-0.6zM62.42 62.35h0.6v0.6h-0.6zM61.91 66.49h0.6v0.6h-0.6zM66.49 62.35h0.6v0.6h-0.6zM64.45 60.68h0.6v0.6h-0.6zM60.47 65.81h0.6v0.6h-0.6zM59.36 64.36h0.6v0.6h-0.6zM65.94 60.08h0.6v0.6h-0.6zM58.62 67.72h0.6v0.6h-0.6zM66.9 60.12h0.6v0.6h-0.6zM64.29 60.71h0.6v0.6h-0.6zM58.52 64.51h0.6v0.6h-0.6zM63.04 68.04h0.6v0.6h-0.6zM59.58 70.18h0.6v0.6h-0.6zM57.5 66.58h0.6v0.6h-0.6zM64.49 63.53h0.6v0.6h-0.6zM59.65 60.95h0.6v0.6h-0.6zM60.76 61.84h0.6v0.6h-0.6zM68.81 57.8h0.6v0.6h-0.6zM60.04 62.05h0.6v0.6h-0.6zM57.74 63.44h0.6v0.6h-0.6zM63.74 61.63h0.6v0.6h-0.6zM61.85 61.93h0.6v0.6h-0.6zM61.17 67.97h0.6v0.6h-0.6zM55.5 63.77h0.6v0.6h-0.6zM60.73 61.52h0.6v0.6h-0.6zM60.85 67.16h0.6v0.6h-0.6zM59.61 68.04h0.6v0.6h-0.6zM60.87 68.76h0.6v0.6h-0.6zM64.54 60.42h0.6v0.6h-0.6zM59.2 63.58h0.6v0.6h-0.6zM63.19 66h0.6v0.6h-0.6zM57.68 69.65h0.6v0.6h-0.6zM55.66 66.27h0.6v0.6h-0.6zM58.22 72.55h0.6v0.6h-0.6zM61.52 64.78h0.6v0.6h-0.6zM60.31 68.01h0.6v0.6h-0.6zM54.41 69.73h0.6v0.6h-0.6zM67.44 58.4h0.6v0.6h-0.6zM61.96 65.62h0.6v0.6h-0.6zM58.47 66.54h0.6v0.6h-0.6zM64.29 62.47h0.6v0.6h-0.6zM61.7 62.98h0.6v0.6h-0.6zM62.07 63.82h0.6v0.6h-0.6zM66.57 62.17h0.6v0.6h-0.6zM56.92 60.86h0.6v0.6h-0.6zM64.28 64.05h0.6v0.6h-0.6zM55.4 63.29h0.6v0.6h-0.6zM58.66 68.92h0.6v0.6h-0.6zM57.02 66.33h0.6v0.6h-0.6zM63.35 66.08h0.6v0.6h-0.6zM60.81 64.37h0.6v0.6h-0.6zM61.48 68.68h0.6v0.6h-0.6zM64.23 61.71h0.6v0.6h-0.6zM55.53 66.57h0.6v0.6h-0.6zM61.85 61.82h0.6v0.6h-0.6zM64.3 62.93h0.6v0.6h-0.6zM62.81 64.91h0.6v0.6h-0.6zM61.41 61.79h0.6v0.6h-0.6zM63.14 69.36h0.6v0.6h-0.6zM56.55 66.65h0.6v0.6h-0.6zM64.14 61.6h0.6v0.6h-0.6zM56.65 64.21h0.6v0.6h-0.6zM64.07 64.95h0.6v0.6h-0.6zM65.49 61.15h0.6v0.6h-0.6zM62.89 60.14h0.6v0.6h-0.6zM60.61 62.91h0.6v0.6h-0.6zM62.56 65.37h0.6v0.6h-0.6zM63.03 60.15h0.6v0.6h-0.6zM64.35 60.56h0.6v0.6h-0.6zM57.54 66.73h0.6v0.6h-0.6zM56.4 68.11h0.6v0.6h-0.6zM61.64 63.44h0.6v0.6h-0.6zM62.26 62.63h0.6v0.6h-0.6zM59.06 61.99h0.6v0.6h-0.6zM59.98 62.92h0.6v0.6h-0.6zM59.46 65.45h0.6v0.6h-0.6zM59.37 61.17h0.6v0.6h-0.6zM55.66 67.83h0.6v0.6h-0.6zM62.98 63.96h0.6v0.6h-0.6zM65.58 64.56h0.6v0.6h-0.6zM62.54 63.24h0.6v0.6h-0.6zM56.47 65.4h0.6v0.6h-0.6zM59.89 66.11h0.6v0.6h-0.6zM61.7 63.96h0.6v0.6h-0.6zM61.37 65.97h0.6v0.6h-0.6zM62.06 64.5h0.6v0.6h-0.6zM61.23 62.79h0.6v0.6h-0.6zM58.42 67.89h0.6v0.6h-0.6zM62.02 63.09h0.6v0.6h-0.6zM62.78 69.47h0.6v0.6h-0.6zM58.31 65.99h0.6v0.6h-0.6zM60.27 61.85h0.6v0.6h-0.6zM63.8 67.33h0.6v0.6h-0.6zM64.8 63.3h0.6v0.6h-0.6zM63.02 63.24h0.6v0.6h-0.6zM63.81 61.87h0.6v0.6h-0.6zM59.81 65.72h0.6v0.6h-0.6zM64.3 62.84h0.6v0.6h-0.6zM60.38 59.33h0.6v0.6h-0.6zM67.93 65.62h0.6v0.6h-0.6zM64.78 60.66h0.6v0.6h-0.6zM58.7 67.07h0.6v0.6h-0.6zM58.87 68.19h0.6v0.6h-0.6zM60.65 67.46h0.6v0.6h-0.6zM62.54 57.62h0.6v0.6h-0.6zM60.98 62.57h0.6v0.6h-0.6zM55.72 66.9h0.6v0.6h-0.6zM61.71 66.83h0.6v0.6h-0.6zM57.63 70.07h0.6v0.6h-0.6zM68.17 60.57h0.6v0.6h-0.6zM62.7 63.13h0.6v0.6h-0.6zM58.02 68.32h0.6v0.6h-0.6zM63.2 64.82h0.6v0.6h-0.6zM70.08 59.44h0.6v0.6h-0.6zM64.46 66.16h0.6v0.6h-0.6zM55.21 65.83h0.6v0.6h-0.6zM58.93 64.29h0.6v0.6h-0.6zM62.76 62.24h0.6v0.6h-0.6zM68.54 62.85h0.6v0.6h-0.6zM62.9 61.93h0.6v0.6h-0.6zM64.04 64.39h0.6v0.6h-0.6zM58.11 67.73h0.6v0.6h-0.6zM63.52 63.14h0.6v0.6h-0.6zM67.6 62.74h0.6v0.6h-0.6zM58.57 66.75h0.6v0.6h-0.6zM59.15 67.56h0.6v0.6h-0.6zM59.52 68.24h0.6v0.6h-0.6zM63.54 65.23h0.6v0.6h-0.6zM58.57 62.33h0.6v0.6h-0.6zM66.33 59.85h0.6v0.6h-0.6zM65.92 61.86h0.6v0.6h-0.6zM65.6 66.01h0.6v0.6h-0.6zM63.97 66.09h0.6v0.6h-0.6zM57.5 69.67h0.6v0.6h-0.6zM60.06 64.86h0.6v0.6h-0.6zM61.5 65.08h0.6v0.6h-0.6zM63.71 57.21h0.6v0.6h-0.6zM60.17 63.15h0.6v0.6h-0.6zM64.1 60.9h0.6v0.6h-0.6zM61.9 62.69h0.6v0.6h-0.6zM64.48 64.61h0.6v0.6h-0.6zM59.81 65.56h0.6v0.6h-0.6zM56.94 68.53h0.6v0.6h-0.6zM62.95 61.43h0.6v0.6h-0.6zM61.72 58.15h0.6v0.6h-0.6zM53.28 66.65h0.6v0.6h-0.6zM59.5 65.73h0.6v0.6h-0.6zM60.66 64.58h0.6v0.6h-0.6zM62.64 61.9h0.6v0.6h-0.6zM55.33 65.46h0.6v0.6h-0.6zM64.47 55.22h0.6v0.6h-0.6zM62.42 67.46h0.6v0.6h-0.6zM61.4 61.87h0.6v0.6h-0.6zM62.18 65.99h0.6v0.6h-0.6zM63.59 59.97h0.6v0.6h-0.6zM63.74 63.07h0.6v0.6h-0.6zM66.36 64.19h0.6v0.6h-0.6zM57.95 62.83h0.6v0.6h-0.6zM64.65 66.61h0.6v0.6h-0.6zM63.47 63.21h0.6v0.6h-0.6zM67.16 56.78h0.6v0.6h-0.6zM63.07 61.29h0.6v0.6h-0.6zM61.28 64.53h0.6v0.6h-0.6zM64.51 59.15h0.6v0.6h-0.6zM57.16 63.06h0.6v0.6h-0.6zM61.92 62.51h0.6v0.6h-0.6zM60.88 61.6h0.6v0.6h-0.6zM61.27 67.19h0.6v0.6h-0.6zM61.3 66.01h0.6v0.6h-0.6zM62.19 62.59h0.6v0.6h-0.6zM57.42 70.05h0.6v0.6h-0.6zM62.87 65.78h0.6v0.6h-0.6zM52.41 66.59h0.6v0.6h-0.6zM53.06 68.26h0.6v0.6h-0.6zM65.05 62.92h0.6v0.6h-0.6zM61.07 64.81h0.6v0.6h-0.6zM62.99 62.1h0.6v0.6h-0.6zM62.44 63.77h0.6v0.6h-0.6zM53.59 69.22h0.6v0.6h-0.6zM64.75 60.47h0.6v0.6h-0.6zM59.73 63.8h0.6v0.6h-0.6zM60.99 67.64h0.6v0.6h-0.6zM58.77 63.39h0.6v0.6h-0.6zM50.42 71.17h0.6v0.6h-0.6zM52.33 66.18h0.6v0.6h-0.6zM64.47 63.77h0.6v0.6h-0.6zM56.11 70.7h0.6v0.6h-0.6zM61.39 62.01h0.6v0.6h-0.6zM61.11 59.87h0.6v0.6h-0.6zM55.25 64.97h0.6v0.6h-0.6zM58.69 68.76h0.6v0.6h-0.6zM55.24 65.79h0.6v0.6h-0.6zM58.26 67.18h0.6v0.6h-0.6zM61.1 66.83h0.6v0.6h-0.6zM57.01 64.02h0.6v0.6h-0.6zM59.46 65.8h0.6v0.6h-0.6zM58.43 67.28h0.6v0.6h-0.6zM65.91 59.02h0.6v0.6h-0.6zM62.93 66.74h0.6v0.6h-0.6zM57.76 64.63h0.6v0.6h-0.6zM58.04 67.89h0.6v0.6h-0.6zM62.36 62.98h0.6v0.6h-0.6zM62.79 66.61h0.6v0.6h-0.6zM61.75 59.95h0.6v0.6h-0.6zM61.02 64.72h0.6v0.6h-0.6zM62.87 62.35h0.6v0.6h-0.6zM58.24 65.31h0.6v0.6h-0.6zM55.24 68.85h0.6v0.6h-0.6zM59.63 66.8h0.6v0.6h-0.6zM57.04 66.29h0.6v0.6h-0.6zM56.33 65.08h0.6v0.6h-0.6zM62.43 61.99h0.6v0.6h-0.6zM60.73 61.49h0.6v0.6h-0.6zM58.86 61.36h0.6v0.6h-0.6zM58.64 64.83h0.6v0.6h-0.6zM62.9 63.4h0.6v0.6h-0.6zM61.4 66.41h0.6v0.6h-0.6zM62.14 64.99h0.6v0.6h-0.6zM63.13 62.53h0.6v0.6h-0.6zM60.32 65.82h0.6v0.6h-0.6zM60.01 66.23h0.6v0.6h-0.6zM65.45 63.29h0.6v0.6h-0.6zM57.86 63.25h0.6v0.6h-0.6zM60.45 64.45h0.6v0.6h-0.6zM63.76 61.15h0.6v0.6h-0.6zM61.13 66.32h0.6v0.6h-0.6zM59.07 65.43h0.6v0.6h-0.6zM68.2 62.9h0.6v0.6h-0.6zM63.13 63.45h0.6v0.6h-0.6zM58.49 67.88h0.6v0.6h-0.6zM61.27 64.77h0.6v0.6h-0.6zM59.14 65.79h0.6v0.6h-0.6zM60.63 65.53h0.6v0.6h-0.6zM65.77 61.65h0.6v0.6h-0.6zM54.26 66.93h0.6v0.6h-0.6zM54.73 67.05h0.6v0.6h-0.6zM63.09 63.85h0.6v0.6h-0.6zM59.26 66.47h0.6v0.6h-0.6zM56.48 63.94h0.6v0.6h-0.6zM55.2 66.5h0.6v0.6h-0.6zM63.44 58.72h0.6v0.6h-0.6zM66.49 63.78h0.6v0.6h-0.6zM60.14 64.9h0.6v0.6h-0.6zM58.82 66h0.6v0.6h-0.6zM62.86 62.93h0.6v0.6h-0.6zM65.51 64.14h0.6v0.6h-0.6zM62.29 64.26h0.6v0.6h-0.6zM61.04 65.29h0.6v0.6h-0.6zM57.81 67.98h0.6v0.6h-0.6zM60.25 62.54h0.6v0.6h-0.6zM66.22 57.57h0.6v0.6h-0.6zM58.41 67.15h0.6v0.6h-0.6zM53.6 67.93h0.6v0.6h-0.6zM54.66 66.61h0.6v0.6h-0.6zM60.78 65.42h0.6v0.6h-0.6zM65.32 63.22h0.6v0.6h-0.6zM65.28 62.65h0.6v0.6h-0.6zM60.79 67.62h0.6v0.6h-0.6zM58.39 64.68h0.6v0.6h-0.6zM66.63 62.14h0.6v0.6h-0.6zM62.46 65.3h0.6v0.6h-0.6zM61.68 60.02h0.6v0.6h-0.6zM58.86 62.73h0.6v0.6h-0.6zM60.23 63.08h0.6v0.6h-0.6zM65.73 62.1h0.6v0.6h-0.6zM58.17 66.5h0.6v0.6h-0.6zM56.99 67.59h0.6v0.6h-0.6zM62.83 63.65h0.6v0.6h-0.6zM54.22 68.71h0.6v0.6h-0.6zM62.76 63.82h0.6v0.6h-0.6zM62.66 59.46h0.6v0.6h-0.6zM61.51 62.12h0.6v0.6h-0.6zM61.91 64.76h0.6v0.6h-0.6zM62.13 61.85h0.6v0.6h-0.6zM59.74 62.06h0.6v0.6h-0.6zM57.05 68.98h0.6v0.6h-0.6zM58.38 61.87h0.6v0.6h-0.6zM58.09 66.67h0.6v0.6h-0.6zM67.05 62.52h0.6v0.6h-0.6zM60.84 59.48h0.6v0.6h-0.6zM61.08 65.61h0.6v0.6h-0.6zM62.54 64.29h0.6v0.6h-0.6zM62.38 68.16h0.6v0.6h-0.6zM65.26 60.75h0.6v0.6h-0.6zM60.43 70.51h0.6v0.6h-0.6zM60.62 67.98h0.6v0.6h-0.6zM65.48 58.21h0.6v0.6h-0.6zM61.18 63.22h0.6v0.6h-0.6zM62.79 63.83h0.6v0.6h-0.6zM67.67 60.78h0.6v0.6h-0.6zM62.23 66.52h0.6v0.6h-0.6zM59.38 64.58h0.6v0.6h-0.6zM66.68 57.61h0.6v0.6h-0.6zM59.25 65.82h0.6v0.6h-0.6zM54.55 63.49h0.6v0.6h-0.6zM63 60.58h0.6v0.6h-0.6zM58.53 65.23h0.6v0.6h-0.6zM56.19 65.1h0.6v0.6h-0.6zM64.49 68.3h0.6v0.6h-0.6zM64.07 64.02h0.6v0.6h-0.6zM55.96 68.21h0.6v0.6h-0.6zM58.05 68.8h0.6v0.6h-0.6zM60.07 65.17h0.6v0.6h-0.6zM59.67 63.75h0.6v0.6h-0.6zM56.72 69.29h0.6v0.6h-0.6zM54.78 65.9h0.6v0.6h-0.6zM58.84 64.05h0.6v0.6h-0.6zM62.93 65.65h0.6v0.6h-0.6zM61.79 64.27h0.6v0.6h-0.6zM61.97 65.97h0.6v0.6h-0.6zM55.41 69.73h0.6v0.6h-0.6zM56.12 64.7h0.6v0.6h-0.6zM60.22 63.86h0.6v0.6h-0.6zM64.06 65.01h0.6v0.6h-0.6zM53.31 70.14h0.6v0.6h-0.6zM68.08 61.22h0.6v0.6h-0.6zM65.43 61.16h0.6v0.6h-0.6zM54.69 66.13h0.6v0.6h-0.6zM64.28 64.45h0.6v0.6h-0.6zM58.07 65.88h0.6v0.6h-0.6zM59.19 60.86h0.6v0.6h-0.6zM61.82 68.21h0.6v0.6h-0.6zM67.48 58.97h0.6v0.6h-0.6zM65.8 59.12h0.6v0.6h-0.6zM55.15 62.66h0.6v0.6h-0.6zM63.24 61.54h0.6v0.6h-0.6z" fill="#900010" opacity="0.6"/>
<path d="M33.2 93.5 C33.5 91 36 89 39 87.5 C42 86.3 46 86.2 48.3 87.5 C50 88.8 50.2 92 49.5 94 C48.5 95.3 45 95.3 40 95.2 C36 95.1 33 95 33.2 93.5 Z" fill="#920000"/>
<path d="M52.91 91.82h0.6v0.6h-0.6zM42.15 85.41h0.6v0.6h-0.6zM48.71 89.74h0.6v0.6h-0.6zM40.4 84.21h0.6v0.6h-0.6zM45.84 93.79h0.6v0.6h-0.6zM38.18 91.11h0.6v0.6h-0.6zM43.18 93.72h0.6v0.6h-0.6zM41.74 96h0.6v0.6h-0.6zM40 89.01h0.6v0.6h-0.6zM38.88 83.22h0.6v0.6h-0.6zM37.18 93.85h0.6v0.6h-0.6zM42.54 88.38h0.6v0.6h-0.6zM42.97 84.78h0.6v0.6h-0.6zM39.8 92.41h0.6v0.6h-0.6zM44.72 88.51h0.6v0.6h-0.6zM45.79 96.45h0.6v0.6h-0.6zM39.09 93.06h0.6v0.6h-0.6zM33.44 84.95h0.6v0.6h-0.6zM44.29 90.97h0.6v0.6h-0.6zM42.23 89.09h0.6v0.6h-0.6zM39.77 93.27h0.6v0.6h-0.6zM49.83 90.19h0.6v0.6h-0.6zM32.98 94.67h0.6v0.6h-0.6zM44.25 92.89h0.6v0.6h-0.6zM41.62 92.39h0.6v0.6h-0.6zM37.81 90.76h0.6v0.6h-0.6zM42.99 88.6h0.6v0.6h-0.6zM49.9 87.65h0.6v0.6h-0.6zM38.99 91.56h0.6v0.6h-0.6zM34.99 92.56h0.6v0.6h-0.6zM44.41 89.97h0.6v0.6h-0.6zM50.79 91.09h0.6v0.6h-0.6zM42.65 87.96h0.6v0.6h-0.6zM32.87 88.95h0.6v0.6h-0.6zM39.64 89.48h0.6v0.6h-0.6zM45.09 83.68h0.6v0.6h-0.6zM35.57 85.36h0.6v0.6h-0.6zM47.96 89.15h0.6v0.6h-0.6zM38.67 87.54h0.6v0.6h-0.6zM45.75 89.61h0.6v0.6h-0.6zM42.36 84.74h0.6v0.6h-0.6zM47.11 92.03h0.6v0.6h-0.6zM44.01 94.56h0.6v0.6h-0.6zM40.28 90.35h0.6v0.6h-0.6zM44.84 92.13h0.6v0.6h-0.6zM40.03 90.98h0.6v0.6h-0.6zM38.73 93h0.6v0.6h-0.6zM45.93 90.87h0.6v0.6h-0.6zM50.66 86.23h0.6v0.6h-0.6zM40.09 96h0.6v0.6h-0.6zM39.15 86.05h0.6v0.6h-0.6zM48.25 92.49h0.6v0.6h-0.6zM35.28 93.18h0.6v0.6h-0.6zM36.13 86.83h0.6v0.6h-0.6zM40.5 89.41h0.6v0.6h-0.6zM35.76 89.76h0.6v0.6h-0.6zM36.23 91.04h0.6v0.6h-0.6zM41.15 93.1h0.6v0.6h-0.6zM38.98 86.85h0.6v0.6h-0.6zM34.65 90.12h0.6v0.6h-0.6zM48.96 93.41h0.6v0.6h-0.6zM38.05 93.69h0.6v0.6h-0.6zM35.45 93.91h0.6v0.6h-0.6zM39.34 93.17h0.6v0.6h-0.6zM44.39 90.02h0.6v0.6h-0.6zM42.91 87.65h0.6v0.6h-0.6zM40.9 94.12h0.6v0.6h-0.6zM61.81 92.97h0.6v0.6h-0.6zM41.71 87.81h0.6v0.6h-0.6zM46.58 85.88h0.6v0.6h-0.6zM37.24 91.94h0.6v0.6h-0.6zM35.22 95.49h0.6v0.6h-0.6zM46.75 89.15h0.6v0.6h-0.6zM38.48 86.89h0.6v0.6h-0.6zM34.24 92.19h0.6v0.6h-0.6zM44.4 91.92h0.6v0.6h-0.6zM42.6 89.18h0.6v0.6h-0.6zM43.08 86.43h0.6v0.6h-0.6zM41.31 95.3h0.6v0.6h-0.6zM47.91 89.47h0.6v0.6h-0.6zM39.59 95.01h0.6v0.6h-0.6zM50.24 86.36h0.6v0.6h-0.6zM39.13 91.57h0.6v0.6h-0.6zM47.38 88.34h0.6v0.6h-0.6zM44.49 89.96h0.6v0.6h-0.6zM53.19 92.16h0.6v0.6h-0.6zM40.6 89.85h0.6v0.6h-0.6zM46.57 92.91h0.6v0.6h-0.6zM35.84 91.52h0.6v0.6h-0.6zM34.55 88.59h0.6v0.6h-0.6zM34.78 86.87h0.6v0.6h-0.6zM37.83 87.91h0.6v0.6h-0.6zM43.92 93.26h0.6v0.6h-0.6zM40.08 87.49h0.6v0.6h-0.6zM45.31 84.77h0.6v0.6h-0.6zM44.57 93.8h0.6v0.6h-0.6zM40.19 87.07h0.6v0.6h-0.6zM38.72 92.57h0.6v0.6h-0.6zM37.43 88.75h0.6v0.6h-0.6zM34.27 87.36h0.6v0.6h-0.6zM45.51 92.23h0.6v0.6h-0.6zM35.44 87.61h0.6v0.6h-0.6zM38.45 92.52h0.6v0.6h-0.6zM35.41 90.36h0.6v0.6h-0.6zM43.39 93.57h0.6v0.6h-0.6zM35.47 88.54h0.6v0.6h-0.6zM45.28 89.69h0.6v0.6h-0.6zM38.56 92.43h0.6v0.6h-0.6zM42.26 94.22h0.6v0.6h-0.6zM45.27 89.13h0.6v0.6h-0.6zM40.68 90.69h0.6v0.6h-0.6zM34.47 87.94h0.6v0.6h-0.6zM46.16 86.09h0.6v0.6h-0.6zM46.28 91.73h0.6v0.6h-0.6zM40.59 92.49h0.6v0.6h-0.6zM43.68 94.51h0.6v0.6h-0.6z" fill="#920000" opacity="0.8"/>
<path d="M72 42 C72.5 40.5 75 40.5 76 42 L76.8 45.5 C77.5 42 78 40.3 80 40.2 C82.5 40 85.5 40.5 85.3 43 C85 46 82 51 79 55.5 C77.5 58 75.5 60 74 59.5 C72.5 58 71.5 52 71.5 47 C71.5 45 71.6 43 72 42 Z" fill="#920000"/>
<path d="M78.66 45.11h0.6v0.6h-0.6zM74.68 54.94h0.6v0.6h-0.6zM84.43 43.95h0.6v0.6h-0.6zM79.89 43.04h0.6v0.6h-0.6zM79.05 47.74h0.6v0.6h-0.6zM81.8 50.27h0.6v0.6h-0.6zM77.54 45.04h0.6v0.6h-0.6zM77.77 46.25h0.6v0.6h-0.6zM85.88 41.35h0.6v0.6h-0.6zM84.43 47.02h0.6v0.6h-0.6zM83.37 50.87h0.6v0.6h-0.6zM82.18 51.18h0.6v0.6h-0.6zM82.79 48.64h0.6v0.6h-0.6zM75.39 48.6h0.6v0.6h-0.6zM77.27 57.38h0.6v0.6h-0.6zM73.51 42.92h0.6v0.6h-0.6zM85.49 42.67h0.6v0.6h-0.6zM74.25 56.08h0.6v0.6h-0.6zM85.83 44.9h0.6v0.6h-0.6zM81.49 54.29h0.6v0.6h-0.6zM81.13 49.69h0.6v0.6h-0.6zM82.06 43.21h0.6v0.6h-0.6zM76.27 49.37h0.6v0.6h-0.6zM76 55.42h0.6v0.6h-0.6zM77.82 47.58h0.6v0.6h-0.6zM80.54 47.7h0.6v0.6h-0.6zM73.69 52.39h0.6v0.6h-0.6zM75.85 49.07h0.6v0.6h-0.6zM81.09 40.97h0.6v0.6h-0.6zM75.85 47.54h0.6v0.6h-0.6zM76.75 49.72h0.6v0.6h-0.6zM80.11 44.65h0.6v0.6h-0.6zM86.8 49.06h0.6v0.6h-0.6zM81.26 41.71h0.6v0.6h-0.6zM75.73 48.7h0.6v0.6h-0.6zM81.26 47.71h0.6v0.6h-0.6zM75.8 48.95h0.6v0.6h-0.6zM74.79 42.81h0.6v0.6h-0.6zM80.47 42.67h0.6v0.6h-0.6zM81.38 44.09h0.6v0.6h-0.6zM73.12 53.88h0.6v0.6h-0.6zM79.3 53.44h0.6v0.6h-0.6zM77.61 51.36h0.6v0.6h-0.6zM79.4 53.57h0.6v0.6h-0.6zM87.48 49.4h0.6v0.6h-0.6zM80.42 47.08h0.6v0.6h-0.6zM78.21 49.84h0.6v0.6h-0.6zM75.26 51.25h0.6v0.6h-0.6zM84.44 46.98h0.6v0.6h-0.6zM80.31 57.01h0.6v0.6h-0.6zM83.04 43.21h0.6v0.6h-0.6zM84.5 48.41h0.6v0.6h-0.6zM78.05 46.95h0.6v0.6h-0.6zM75.52 51.05h0.6v0.6h-0.6zM79.39 53.67h0.6v0.6h-0.6zM83.02 44.26h0.6v0.6h-0.6zM77.14 50.73h0.6v0.6h-0.6zM72.04 59.63h0.6v0.6h-0.6zM79.97 43.98h0.6v0.6h-0.6zM81.56 52.09h0.6v0.6h-0.6zM79.9 45.92h0.6v0.6h-0.6zM79.09 51.42h0.6v0.6h-0.6zM82.56 46.76h0.6v0.6h-0.6zM79.09 51.46h0.6v0.6h-0.6zM78.32 42.17h0.6v0.6h-0.6zM78.39 47.47h0.6v0.6h-0.6zM81.12 51.16h0.6v0.6h-0.6zM79.05 46.92h0.6v0.6h-0.6zM86.37 46.83h0.6v0.6h-0.6zM77.16 54.54h0.6v0.6h-0.6zM81.51 45.8h0.6v0.6h-0.6zM76.92 51.6h0.6v0.6h-0.6zM81.55 46.5h0.6v0.6h-0.6zM81.41 50.29h0.6v0.6h-0.6zM79.2 48.52h0.6v0.6h-0.6zM81.02 45.84h0.6v0.6h-0.6zM77.99 46.43h0.6v0.6h-0.6zM79.13 39.88h0.6v0.6h-0.6zM84.13 47.84h0.6v0.6h-0.6zM79.71 46.35h0.6v0.6h-0.6zM79.53 47.14h0.6v0.6h-0.6zM81.41 43.45h0.6v0.6h-0.6zM83.92 45.24h0.6v0.6h-0.6zM86.84 39.84h0.6v0.6h-0.6zM74.04 49.93h0.6v0.6h-0.6zM80.45 43.74h0.6v0.6h-0.6zM82.9 42.82h0.6v0.6h-0.6zM79.44 43.39h0.6v0.6h-0.6zM79.36 51.77h0.6v0.6h-0.6zM73.39 53.03h0.6v0.6h-0.6zM68.7 50.45h0.6v0.6h-0.6zM80.59 43.94h0.6v0.6h-0.6zM79.44 40.94h0.6v0.6h-0.6zM83.97 48.62h0.6v0.6h-0.6zM85.6 48.75h0.6v0.6h-0.6zM70.26 47.35h0.6v0.6h-0.6zM78.83 45.38h0.6v0.6h-0.6zM85.03 48.12h0.6v0.6h-0.6zM83.2 48.7h0.6v0.6h-0.6zM76.04 48.19h0.6v0.6h-0.6zM75 51.68h0.6v0.6h-0.6zM82.41 48.7h0.6v0.6h-0.6zM80.24 50.46h0.6v0.6h-0.6zM76.73 50.65h0.6v0.6h-0.6zM77.48 49.46h0.6v0.6h-0.6zM76.27 46.06h0.6v0.6h-0.6zM82.49 44.04h0.6v0.6h-0.6zM79.31 43.98h0.6v0.6h-0.6zM83.33 44.83h0.6v0.6h-0.6zM77.67 54.58h0.6v0.6h-0.6zM84.04 40.25h0.6v0.6h-0.6zM77.7 51.94h0.6v0.6h-0.6zM76.25 51.64h0.6v0.6h-0.6zM80.58 49.86h0.6v0.6h-0.6zM79.76 44.34h0.6v0.6h-0.6zM78.56 46.96h0.6v0.6h-0.6zM80.28 49.73h0.6v0.6h-0.6zM78.42 46.91h0.6v0.6h-0.6zM84.17 40.27h0.6v0.6h-0.6zM78.76 42.31h0.6v0.6h-0.6zM79.45 45.52h0.6v0.6h-0.6zM80.54 42.74h0.6v0.6h-0.6zM81.06 49.34h0.6v0.6h-0.6zM74.28 44.72h0.6v0.6h-0.6zM72.34 53.14h0.6v0.6h-0.6zM78.9 44.63h0.6v0.6h-0.6zM80.2 46.31h0.6v0.6h-0.6zM76.06 54.02h0.6v0.6h-0.6zM78.47 51.22h0.6v0.6h-0.6zM85.15 44.35h0.6v0.6h-0.6zM83.42 52.72h0.6v0.6h-0.6zM84.38 44.61h0.6v0.6h-0.6zM81.24 50.19h0.6v0.6h-0.6zM72.99 56.66h0.6v0.6h-0.6zM81.82 46.86h0.6v0.6h-0.6zM78.21 51.52h0.6v0.6h-0.6zM81.88 51.42h0.6v0.6h-0.6zM80.27 55.58h0.6v0.6h-0.6zM76.63 43.09h0.6v0.6h-0.6zM76.33 46.17h0.6v0.6h-0.6zM82.72 52.21h0.6v0.6h-0.6zM76.82 44.24h0.6v0.6h-0.6zM83.91 46.23h0.6v0.6h-0.6zM78.57 48.36h0.6v0.6h-0.6zM72.1 47.96h0.6v0.6h-0.6zM79.41 50.2h0.6v0.6h-0.6zM78.04 42.19h0.6v0.6h-0.6zM77.1 47.37h0.6v0.6h-0.6zM79.47 47.8h0.6v0.6h-0.6zM82.45 55.69h0.6v0.6h-0.6zM78.62 43.1h0.6v0.6h-0.6zM85.63 48.22h0.6v0.6h-0.6zM80.52 56.4h0.6v0.6h-0.6zM78.37 45.1h0.6v0.6h-0.6zM81.61 43.33h0.6v0.6h-0.6zM77.27 43.86h0.6v0.6h-0.6zM83.17 46.35h0.6v0.6h-0.6zM79.85 44.71h0.6v0.6h-0.6zM72.06 51.83h0.6v0.6h-0.6zM73.47 40.69h0.6v0.6h-0.6zM84.24 41.62h0.6v0.6h-0.6zM78.79 53.69h0.6v0.6h-0.6zM76.35 46.79h0.6v0.6h-0.6zM74.93 47.77h0.6v0.6h-0.6zM79.35 48.23h0.6v0.6h-0.6zM82.86 51.27h0.6v0.6h-0.6zM82.45 51.98h0.6v0.6h-0.6zM75.16 46.53h0.6v0.6h-0.6zM84.13 41.29h0.6v0.6h-0.6zM83.61 49.4h0.6v0.6h-0.6zM82.58 43.6h0.6v0.6h-0.6zM79.12 48.58h0.6v0.6h-0.6zM78.32 47h0.6v0.6h-0.6zM69.92 50.15h0.6v0.6h-0.6zM78.24 41.91h0.6v0.6h-0.6zM83.18 43.78h0.6v0.6h-0.6zM82.45 43.18h0.6v0.6h-0.6zM85.37 52.85h0.6v0.6h-0.6zM87.87 45.41h0.6v0.6h-0.6zM83.65 43.76h0.6v0.6h-0.6zM79.92 51.03h0.6v0.6h-0.6zM79.23 41.66h0.6v0.6h-0.6zM74.73 45.4h0.6v0.6h-0.6zM84.03 41.94h0.6v0.6h-0.6zM77.73 46.3h0.6v0.6h-0.6zM80.26 43.56h0.6v0.6h-0.6zM80.3 52.12h0.6v0.6h-0.6zM82.11 47.14h0.6v0.6h-0.6zM82.14 57.9h0.6v0.6h-0.6zM78.49 45.93h0.6v0.6h-0.6zM84.97 45.2h0.6v0.6h-0.6zM80.68 47.86h0.6v0.6h-0.6zM77.77 44.97h0.6v0.6h-0.6zM75.67 42.28h0.6v0.6h-0.6zM68.36 54.44h0.6v0.6h-0.6zM81.69 54.85h0.6v0.6h-0.6zM78.36 52.03h0.6v0.6h-0.6zM81.4 53.54h0.6v0.6h-0.6zM84.35 44.27h0.6v0.6h-0.6zM82 45.25h0.6v0.6h-0.6zM78.17 40.12h0.6v0.6h-0.6zM78.64 52.44h0.6v0.6h-0.6zM71.48 52.92h0.6v0.6h-0.6zM84.97 47.48h0.6v0.6h-0.6zM78.19 46.01h0.6v0.6h-0.6zM83.43 46.74h0.6v0.6h-0.6zM75.27 46.94h0.6v0.6h-0.6zM72.65 44.6h0.6v0.6h-0.6zM82.53 50.11h0.6v0.6h-0.6zM80.93 50.4h0.6v0.6h-0.6zM81.5 48.74h0.6v0.6h-0.6zM77.34 44.76h0.6v0.6h-0.6zM76.61 52.6h0.6v0.6h-0.6zM83.77 51.31h0.6v0.6h-0.6zM78.65 42.58h0.6v0.6h-0.6zM75.97 53.02h0.6v0.6h-0.6zM80.68 47.24h0.6v0.6h-0.6zM75.21 49.87h0.6v0.6h-0.6zM80.53 47.2h0.6v0.6h-0.6zM76.26 54.8h0.6v0.6h-0.6zM75.42 54.41h0.6v0.6h-0.6zM83.33 49.07h0.6v0.6h-0.6zM82.57 47.75h0.6v0.6h-0.6zM77.44 44.56h0.6v0.6h-0.6zM75.54 47.98h0.6v0.6h-0.6zM78.35 49.59h0.6v0.6h-0.6zM81.88 43.27h0.6v0.6h-0.6zM76.95 53.34h0.6v0.6h-0.6zM73.68 45.34h0.6v0.6h-0.6zM81.48 48.11h0.6v0.6h-0.6zM79.41 42.98h0.6v0.6h-0.6zM75.76 40.12h0.6v0.6h-0.6zM79.15 44.72h0.6v0.6h-0.6zM81.46 42.14h0.6v0.6h-0.6zM82.24 45.61h0.6v0.6h-0.6zM76.91 41.29h0.6v0.6h-0.6zM76.49 50.28h0.6v0.6h-0.6zM81.75 46.18h0.6v0.6h-0.6zM79.11 48h0.6v0.6h-0.6zM87.27 47.22h0.6v0.6h-0.6zM79.45 50.98h0.6v0.6h-0.6zM76.08 46.45h0.6v0.6h-0.6zM81.01 45.11h0.6v0.6h-0.6zM79.13 52.5h0.6v0.6h-0.6zM83.49 47.8h0.6v0.6h-0.6zM75.14 57.93h0.6v0.6h-0.6zM75.53 46.37h0.6v0.6h-0.6zM82.01 49h0.6v0.6h-0.6zM81.22 48.75h0.6v0.6h-0.6zM79.18 53.93h0.6v0.6h-0.6zM78.38 47.57h0.6v0.6h-0.6zM80.18 45.09h0.6v0.6h-0.6zM81.83 41.84h0.6v0.6h-0.6zM78.26 55.82h0.6v0.6h-0.6zM82.21 55.3h0.6v0.6h-0.6zM73.23 52.46h0.6v0.6h-0.6zM77.34 45.7h0.6v0.6h-0.6zM87.62 44.87h0.6v0.6h-0.6zM81.57 49.52h0.6v0.6h-0.6zM80.87 42.81h0.6v0.6h-0.6zM81.82 45.52h0.6v0.6h-0.6zM80.23 54.09h0.6v0.6h-0.6zM76.19 42.67h0.6v0.6h-0.6zM80.98 41.17h0.6v0.6h-0.6zM75.77 45.75h0.6v0.6h-0.6zM76.7 48.56h0.6v0.6h-0.6zM77.63 41.03h0.6v0.6h-0.6zM81.75 55.32h0.6v0.6h-0.6zM83.21 42.16h0.6v0.6h-0.6zM79.65 44.58h0.6v0.6h-0.6zM83.04 47.8h0.6v0.6h-0.6zM73.04 46.71h0.6v0.6h-0.6zM82.26 46.93h0.6v0.6h-0.6zM77.53 48.49h0.6v0.6h-0.6zM83.01 49.48h0.6v0.6h-0.6zM81.29 47.57h0.6v0.6h-0.6zM80.23 42.29h0.6v0.6h-0.6zM80.95 46.02h0.6v0.6h-0.6zM76.76 50.85h0.6v0.6h-0.6zM79.21 51.66h0.6v0.6h-0.6zM73.32 47.2h0.6v0.6h-0.6z" fill="#a00010" opacity="0.5"/>
<path d="M250.49 50.55h0.6v0.6h-0.6zM231.67 93.85h0.6v0.6h-0.6zM250.74 72.56h0.6v0.6h-0.6zM210.67 69.53h0.6v0.6h-0.6zM215.06 59.29h0.6v0.6h-0.6zM216.46 53.1h0.6v0.6h-0.6zM201.13 83.29h0.6v0.6h-0.6zM199.71 73.53h0.6v0.6h-0.6zM219.19 77.75h0.6v0.6h-0.6zM230.93 68.35h0.6v0.6h-0.6zM241.76 73.46h0.6v0.6h-0.6zM248.42 74.19h0.6v0.6h-0.6zM247.2 89.52h0.6v0.6h-0.6zM237.87 60.11h0.6v0.6h-0.6zM225.76 46.35h0.6v0.6h-0.6zM238.89 77.54h0.6v0.6h-0.6zM244.01 46.64h0.6v0.6h-0.6zM206.07 77.54h0.6v0.6h-0.6zM239.27 46.05h0.6v0.6h-0.6zM200.69 59.86h0.6v0.6h-0.6zM217.67 44.86h0.6v0.6h-0.6zM204.37 53.22h0.6v0.6h-0.6zM199.78 50.13h0.6v0.6h-0.6zM200.41 62.35h0.6v0.6h-0.6zM240.18 78.38h0.6v0.6h-0.6zM232.24 67.73h0.6v0.6h-0.6zM209.31 44.65h0.6v0.6h-0.6zM209.2 94.09h0.6v0.6h-0.6zM243.77 73.35h0.6v0.6h-0.6zM232.73 82.99h0.6v0.6h-0.6z" fill="#d04050" opacity="0.55"/>
<path d="M231.79 69.1h0.6v0.6h-0.6zM225.93 68.32h0.6v0.6h-0.6zM217.82 70.74h0.6v0.6h-0.6zM224.18 63.78h0.6v0.6h-0.6zM229.19 61.26h0.6v0.6h-0.6zM219.8 79.95h0.6v0.6h-0.6zM222.69 72.98h0.6v0.6h-0.6zM212.13 63.43h0.6v0.6h-0.6zM221.74 61.66h0.6v0.6h-0.6zM224.9 57.89h0.6v0.6h-0.6zM209.72 81.55h0.6v0.6h-0.6zM225.34 68.06h0.6v0.6h-0.6zM216.13 80.23h0.6v0.6h-0.6zM210.18 76.29h0.6v0.6h-0.6zM215.25 72.88h0.6v0.6h-0.6zM226.1 62.78h0.6v0.6h-0.6zM228.14 69.61h0.6v0.6h-0.6zM206.27 74.88h0.6v0.6h-0.6zM217.46 69.79h0.6v0.6h-0.6zM218.24 60.68h0.6v0.6h-0.6zM229.4 68.94h0.6v0.6h-0.6zM216.55 65.48h0.6v0.6h-0.6zM220.39 67.85h0.6v0.6h-0.6zM225.76 66.52h0.6v0.6h-0.6zM225.83 64.26h0.6v0.6h-0.6zM225.14 52.93h0.6v0.6h-0.6zM216.3 77.56h0.6v0.6h-0.6zM213.55 81.27h0.6v0.6h-0.6zM213.66 77.11h0.6v0.6h-0.6zM214.15 73.33h0.6v0.6h-0.6zM222.92 68.62h0.6v0.6h-0.6zM225.92 80.6h0.6v0.6h-0.6zM219.07 66.13h0.6v0.6h-0.6zM231.1 68.09h0.6v0.6h-0.6zM236.17 70.27h0.6v0.6h-0.6zM218.6 79.38h0.6v0.6h-0.6zM230.08 63.69h0.6v0.6h-0.6zM214.5 56.81h0.6v0.6h-0.6zM223.43 80.22h0.6v0.6h-0.6zM207.68 77.79h0.6v0.6h-0.6zM225.81 70.67h0.6v0.6h-0.6zM228.14 54.01h0.6v0.6h-0.6zM224.95 73.15h0.6v0.6h-0.6zM212.56 77.12h0.6v0.6h-0.6zM239.42 64.74h0.6v0.6h-0.6z" fill="#c02030" opacity="0.6"/>
<path d="M199.2 89 C199.4 85.5 202 83.5 207 83.4 C212 83.3 215.6 85 215.8 88.5 C216 92 215 94 214.5 95 L214 97.4 L201 97.4 L200.5 95 C199.5 93.5 199 91.5 199.2 89 Z" fill="#920000"/>
<path d="M210.7 79.54h0.6v0.6h-0.6zM207.35 91.55h0.6v0.6h-0.6zM206.46 89.74h0.6v0.6h-0.6zM223.42 89.14h0.6v0.6h-0.6zM203.15 90.97h0.6v0.6h-0.6zM206.42 88.76h0.6v0.6h-0.6zM207.56 93.1h0.6v0.6h-0.6zM209.19 85.19h0.6v0.6h-0.6zM207.34 91.9h0.6v0.6h-0.6zM205.66 94.6h0.6v0.6h-0.6zM211.89 86.04h0.6v0.6h-0.6zM215.8 89.77h0.6v0.6h-0.6zM212.49 87.3h0.6v0.6h-0.6zM200.76 92.22h0.6v0.6h-0.6zM209.23 92.06h0.6v0.6h-0.6zM207.88 91.3h0.6v0.6h-0.6zM205.44 91.89h0.6v0.6h-0.6zM212.17 89.77h0.6v0.6h-0.6zM212.07 82.92h0.6v0.6h-0.6zM204.07 95.78h0.6v0.6h-0.6zM216.81 91h0.6v0.6h-0.6zM207.48 84.93h0.6v0.6h-0.6zM209.82 93.11h0.6v0.6h-0.6zM200.59 92.24h0.6v0.6h-0.6zM210.45 91.76h0.6v0.6h-0.6zM202.36 92.17h0.6v0.6h-0.6zM200.51 95.95h0.6v0.6h-0.6zM208.68 85.35h0.6v0.6h-0.6zM214.73 94.62h0.6v0.6h-0.6zM202.98 91.25h0.6v0.6h-0.6zM213.91 80.92h0.6v0.6h-0.6zM213.01 89.74h0.6v0.6h-0.6zM207.92 85.69h0.6v0.6h-0.6zM209.66 85.56h0.6v0.6h-0.6zM203.16 88.21h0.6v0.6h-0.6zM201.86 96.29h0.6v0.6h-0.6zM201.36 86.98h0.6v0.6h-0.6zM206.42 90.01h0.6v0.6h-0.6zM211.96 93.27h0.6v0.6h-0.6zM206.49 88.46h0.6v0.6h-0.6zM208.18 93.29h0.6v0.6h-0.6zM211.49 87.93h0.6v0.6h-0.6zM212.76 91.05h0.6v0.6h-0.6zM209.7 87.91h0.6v0.6h-0.6zM202.99 88.67h0.6v0.6h-0.6zM206.89 87.5h0.6v0.6h-0.6zM200.71 88.75h0.6v0.6h-0.6zM210.88 88.02h0.6v0.6h-0.6zM208.11 81.72h0.6v0.6h-0.6zM206.96 89.51h0.6v0.6h-0.6zM201.87 83.08h0.6v0.6h-0.6zM210.06 86.76h0.6v0.6h-0.6zM210.44 88.32h0.6v0.6h-0.6zM211.12 88.64h0.6v0.6h-0.6zM200.47 89.65h0.6v0.6h-0.6zM206.36 92.63h0.6v0.6h-0.6zM205.75 88.43h0.6v0.6h-0.6zM212.3 94.67h0.6v0.6h-0.6zM211.8 94.15h0.6v0.6h-0.6zM210.27 93.08h0.6v0.6h-0.6zM212.39 91.62h0.6v0.6h-0.6zM208.31 90.57h0.6v0.6h-0.6zM220.02 90.05h0.6v0.6h-0.6zM206.82 88.54h0.6v0.6h-0.6zM207.83 90.98h0.6v0.6h-0.6zM202.34 82.08h0.6v0.6h-0.6zM209.48 83.58h0.6v0.6h-0.6zM209.29 90.56h0.6v0.6h-0.6zM213.76 96.68h0.6v0.6h-0.6zM209.84 87.78h0.6v0.6h-0.6zM202.13 86.83h0.6v0.6h-0.6zM208.2 81.72h0.6v0.6h-0.6zM208.38 89.95h0.6v0.6h-0.6zM211.22 88.66h0.6v0.6h-0.6zM208.51 87.06h0.6v0.6h-0.6zM205.68 82.91h0.6v0.6h-0.6zM208.62 96.19h0.6v0.6h-0.6zM208.81 91.46h0.6v0.6h-0.6zM203.09 95.73h0.6v0.6h-0.6zM204.16 93.21h0.6v0.6h-0.6zM208.54 86.16h0.6v0.6h-0.6zM213.14 90.06h0.6v0.6h-0.6zM208.89 91.81h0.6v0.6h-0.6zM207.89 88.49h0.6v0.6h-0.6zM210.33 88.38h0.6v0.6h-0.6zM208.33 87.33h0.6v0.6h-0.6zM200.55 87.31h0.6v0.6h-0.6zM205.52 90.06h0.6v0.6h-0.6zM213.92 83.24h0.6v0.6h-0.6zM208.64 81.15h0.6v0.6h-0.6zM202.77 87.97h0.6v0.6h-0.6zM208.77 90.31h0.6v0.6h-0.6zM207.43 86.79h0.6v0.6h-0.6zM218.77 89.36h0.6v0.6h-0.6zM203.69 96.71h0.6v0.6h-0.6zM211.07 88.52h0.6v0.6h-0.6zM213.96 90.63h0.6v0.6h-0.6zM211.22 90.94h0.6v0.6h-0.6zM202.86 93.88h0.6v0.6h-0.6zM208.8 85.96h0.6v0.6h-0.6zM204.19 93.82h0.6v0.6h-0.6zM206.15 90.19h0.6v0.6h-0.6zM211.27 90.51h0.6v0.6h-0.6zM200.37 92.55h0.6v0.6h-0.6zM212.69 93.47h0.6v0.6h-0.6zM216.08 91.46h0.6v0.6h-0.6zM211.89 96.36h0.6v0.6h-0.6zM206.55 96.95h0.6v0.6h-0.6zM216.67 93.13h0.6v0.6h-0.6zM217.2 93.41h0.6v0.6h-0.6zM203.6 94.55h0.6v0.6h-0.6zM209.63 91.65h0.6v0.6h-0.6zM208.77 95.44h0.6v0.6h-0.6zM210.76 87.22h0.6v0.6h-0.6zM210.43 92.92h0.6v0.6h-0.6zM204.37 88.26h0.6v0.6h-0.6zM206.08 87.57h0.6v0.6h-0.6zM209.74 94.07h0.6v0.6h-0.6zM217.46 94.78h0.6v0.6h-0.6zM213.11 94.57h0.6v0.6h-0.6zM214.68 88.49h0.6v0.6h-0.6zM211.47 91.29h0.6v0.6h-0.6zM207.35 88.18h0.6v0.6h-0.6zM205.47 88.93h0.6v0.6h-0.6zM201.83 92.09h0.6v0.6h-0.6zM207.89 90.42h0.6v0.6h-0.6zM209.69 92.9h0.6v0.6h-0.6zM205.04 89.57h0.6v0.6h-0.6zM199.96 81.12h0.6v0.6h-0.6zM198.87 91.89h0.6v0.6h-0.6zM215.39 88.17h0.6v0.6h-0.6zM216.15 97.39h0.6v0.6h-0.6zM211.11 87.09h0.6v0.6h-0.6zM210.62 88.24h0.6v0.6h-0.6zM201.5 84.91h0.6v0.6h-0.6zM219.58 87.86h0.6v0.6h-0.6zM207.91 87.37h0.6v0.6h-0.6zM208.73 89.08h0.6v0.6h-0.6zM205.99 85.19h0.6v0.6h-0.6zM200.99 87.07h0.6v0.6h-0.6zM213.33 97.35h0.6v0.6h-0.6zM210.5 89.71h0.6v0.6h-0.6zM201.45 90.07h0.6v0.6h-0.6z" fill="#920000" opacity="0.8"/>
<path d="M238 41.5 C240 40.5 246 40.3 249 41 C250.5 42 250.3 46 249.5 49 C248 53 246 57 243.5 59 C241.5 59.8 240 59 239.5 57 C238.5 53 237.5 47 238 41.5 Z" fill="#920000"/>
<path d="M238.21 45.57h0.6v0.6h-0.6zM250.07 52.33h0.6v0.6h-0.6zM249.39 48.11h0.6v0.6h-0.6zM241.07 45.33h0.6v0.6h-0.6zM241.98 55.17h0.6v0.6h-0.6zM252.77 46.99h0.6v0.6h-0.6zM244.04 48.04h0.6v0.6h-0.6zM245.64 42.22h0.6v0.6h-0.6zM244.84 51.16h0.6v0.6h-0.6zM248.07 43.09h0.6v0.6h-0.6zM247.14 39.81h0.6v0.6h-0.6zM249.59 44.57h0.6v0.6h-0.6zM244.76 46.53h0.6v0.6h-0.6zM244.59 43.02h0.6v0.6h-0.6zM236.61 56.78h0.6v0.6h-0.6zM245.54 50.82h0.6v0.6h-0.6zM252.3 50.55h0.6v0.6h-0.6zM246.9 49.8h0.6v0.6h-0.6zM248.36 52.93h0.6v0.6h-0.6zM246.49 48.12h0.6v0.6h-0.6zM244.35 55.63h0.6v0.6h-0.6zM238.22 46.63h0.6v0.6h-0.6zM244.08 47.22h0.6v0.6h-0.6zM237.34 51.3h0.6v0.6h-0.6zM242.53 47.23h0.6v0.6h-0.6zM245.74 39.87h0.6v0.6h-0.6zM242.33 46.68h0.6v0.6h-0.6zM244.97 49.49h0.6v0.6h-0.6zM241.56 60.44h0.6v0.6h-0.6zM248.28 43.11h0.6v0.6h-0.6zM243.93 45.16h0.6v0.6h-0.6zM245.32 45.84h0.6v0.6h-0.6zM239.83 57.19h0.6v0.6h-0.6zM245.69 47.46h0.6v0.6h-0.6zM244.52 47.83h0.6v0.6h-0.6zM249.09 53.01h0.6v0.6h-0.6zM244.66 55.14h0.6v0.6h-0.6zM251.7 51.16h0.6v0.6h-0.6zM238.43 50.79h0.6v0.6h-0.6zM241.47 54.27h0.6v0.6h-0.6zM248.11 54.14h0.6v0.6h-0.6zM237.94 61.65h0.6v0.6h-0.6zM241.23 47.75h0.6v0.6h-0.6zM238.31 54.92h0.6v0.6h-0.6zM245.32 54.35h0.6v0.6h-0.6zM245.48 48.96h0.6v0.6h-0.6zM247.14 55h0.6v0.6h-0.6zM243.77 48.82h0.6v0.6h-0.6zM243.86 57.86h0.6v0.6h-0.6zM246.48 49.87h0.6v0.6h-0.6zM245.5 40.81h0.6v0.6h-0.6zM242.96 49.1h0.6v0.6h-0.6zM244.12 49.44h0.6v0.6h-0.6zM246.98 52.26h0.6v0.6h-0.6zM245.08 53.01h0.6v0.6h-0.6zM245.76 49.28h0.6v0.6h-0.6zM249.14 40.53h0.6v0.6h-0.6zM251.16 43.57h0.6v0.6h-0.6zM247.9 50.12h0.6v0.6h-0.6zM248.79 50.49h0.6v0.6h-0.6zM240.37 54.15h0.6v0.6h-0.6zM245.55 50.1h0.6v0.6h-0.6zM243.94 54.7h0.6v0.6h-0.6zM247.53 51.28h0.6v0.6h-0.6zM240.43 45.76h0.6v0.6h-0.6zM242.9 58.95h0.6v0.6h-0.6zM246.53 49.18h0.6v0.6h-0.6zM249.3 49.82h0.6v0.6h-0.6zM244.79 50.14h0.6v0.6h-0.6zM238.68 53.06h0.6v0.6h-0.6zM246.95 48.22h0.6v0.6h-0.6zM240.94 49.44h0.6v0.6h-0.6zM250.75 47.2h0.6v0.6h-0.6zM240.92 50.61h0.6v0.6h-0.6zM244.59 45.28h0.6v0.6h-0.6zM244.96 46.17h0.6v0.6h-0.6zM246.55 48.48h0.6v0.6h-0.6zM243.74 46.38h0.6v0.6h-0.6zM245.88 55.02h0.6v0.6h-0.6zM247.18 53.88h0.6v0.6h-0.6zM235.39 41.05h0.6v0.6h-0.6zM243.76 50.17h0.6v0.6h-0.6zM237.62 55.46h0.6v0.6h-0.6zM247.03 46.34h0.6v0.6h-0.6zM246.16 47.68h0.6v0.6h-0.6zM241.83 51.37h0.6v0.6h-0.6zM245.59 41.46h0.6v0.6h-0.6zM243.13 48.19h0.6v0.6h-0.6zM239.67 55.1h0.6v0.6h-0.6zM238.93 57.73h0.6v0.6h-0.6zM249.48 45.19h0.6v0.6h-0.6zM243.88 55.78h0.6v0.6h-0.6zM246.17 42.88h0.6v0.6h-0.6zM242.67 60.07h0.6v0.6h-0.6zM239.3 51h0.6v0.6h-0.6zM245.33 48.79h0.6v0.6h-0.6zM244.26 47.36h0.6v0.6h-0.6zM247.79 53.52h0.6v0.6h-0.6zM239.54 56.8h0.6v0.6h-0.6zM239.8 51.77h0.6v0.6h-0.6zM244.05 55.96h0.6v0.6h-0.6zM244.84 55.36h0.6v0.6h-0.6zM243.67 54.58h0.6v0.6h-0.6zM243.24 61.17h0.6v0.6h-0.6zM241.09 55.16h0.6v0.6h-0.6zM246.46 50.8h0.6v0.6h-0.6zM242.59 51.31h0.6v0.6h-0.6zM242.11 40.85h0.6v0.6h-0.6zM249.76 41.84h0.6v0.6h-0.6zM250.39 49.3h0.6v0.6h-0.6zM245.88 50.09h0.6v0.6h-0.6zM246.96 48.36h0.6v0.6h-0.6zM244.08 48.46h0.6v0.6h-0.6zM247.08 56.44h0.6v0.6h-0.6zM248.93 52.56h0.6v0.6h-0.6zM246.86 40.36h0.6v0.6h-0.6zM246.13 54.52h0.6v0.6h-0.6zM242.64 53.39h0.6v0.6h-0.6zM249.37 51.14h0.6v0.6h-0.6zM248.28 52.07h0.6v0.6h-0.6zM239.96 45.39h0.6v0.6h-0.6zM243.01 51.92h0.6v0.6h-0.6zM242.86 46.36h0.6v0.6h-0.6zM241.95 48.4h0.6v0.6h-0.6zM244 54.72h0.6v0.6h-0.6zM247.61 51.07h0.6v0.6h-0.6zM245.81 50.27h0.6v0.6h-0.6zM243.33 57.8h0.6v0.6h-0.6zM237 46.29h0.6v0.6h-0.6zM244.6 55.76h0.6v0.6h-0.6zM240.96 50.33h0.6v0.6h-0.6zM248.7 47.89h0.6v0.6h-0.6zM239.21 45.84h0.6v0.6h-0.6zM240.16 51.85h0.6v0.6h-0.6zM239.74 58.17h0.6v0.6h-0.6zM246.78 45.33h0.6v0.6h-0.6zM245 43.22h0.6v0.6h-0.6zM244.35 57.75h0.6v0.6h-0.6zM243.11 54.2h0.6v0.6h-0.6zM241.53 50.26h0.6v0.6h-0.6zM247.65 56.83h0.6v0.6h-0.6zM240.84 40.16h0.6v0.6h-0.6zM240.47 53.74h0.6v0.6h-0.6zM243.94 48.2h0.6v0.6h-0.6zM247.37 50.74h0.6v0.6h-0.6zM246.37 47.97h0.6v0.6h-0.6zM250.06 46.36h0.6v0.6h-0.6zM251.29 49.2h0.6v0.6h-0.6zM241.53 52.18h0.6v0.6h-0.6zM247.82 42.5h0.6v0.6h-0.6zM241.22 52.89h0.6v0.6h-0.6zM241.72 50.57h0.6v0.6h-0.6zM241.11 59.38h0.6v0.6h-0.6zM246.49 43.12h0.6v0.6h-0.6zM242.7 43.63h0.6v0.6h-0.6zM245.58 49.54h0.6v0.6h-0.6zM248.18 51.2h0.6v0.6h-0.6zM245.11 51.26h0.6v0.6h-0.6zM244.28 50.86h0.6v0.6h-0.6zM246.66 54.29h0.6v0.6h-0.6zM242 50.17h0.6v0.6h-0.6zM237.39 44.62h0.6v0.6h-0.6zM247.45 46.81h0.6v0.6h-0.6zM238.85 57.69h0.6v0.6h-0.6zM250.17 49.27h0.6v0.6h-0.6zM247.74 57.48h0.6v0.6h-0.6zM237.48 62.59h0.6v0.6h-0.6zM242.32 47.12h0.6v0.6h-0.6zM241.3 48.78h0.6v0.6h-0.6zM240.68 48.13h0.6v0.6h-0.6zM248.47 51.46h0.6v0.6h-0.6zM242.02 57.32h0.6v0.6h-0.6zM240.7 53.67h0.6v0.6h-0.6zM243.78 50.21h0.6v0.6h-0.6zM245.03 50.03h0.6v0.6h-0.6zM246.04 45.12h0.6v0.6h-0.6zM242.55 51.14h0.6v0.6h-0.6zM246.39 43.03h0.6v0.6h-0.6zM243.7 44.98h0.6v0.6h-0.6zM244.65 50.18h0.6v0.6h-0.6zM246.33 45.89h0.6v0.6h-0.6zM247.09 42.01h0.6v0.6h-0.6zM235.41 46.35h0.6v0.6h-0.6zM240.84 42.72h0.6v0.6h-0.6zM240.11 51.48h0.6v0.6h-0.6zM240.59 49.59h0.6v0.6h-0.6zM245.18 42.2h0.6v0.6h-0.6zM239.08 50.22h0.6v0.6h-0.6zM245.26 53.64h0.6v0.6h-0.6zM250.86 52.27h0.6v0.6h-0.6zM246.18 48.75h0.6v0.6h-0.6zM245.9 47.37h0.6v0.6h-0.6zM239.18 58.91h0.6v0.6h-0.6zM238.38 48.78h0.6v0.6h-0.6zM246.32 50.3h0.6v0.6h-0.6zM242.05 47.2h0.6v0.6h-0.6zM245 42.95h0.6v0.6h-0.6zM245.45 46.86h0.6v0.6h-0.6zM242.18 52.18h0.6v0.6h-0.6zM240.81 50.41h0.6v0.6h-0.6zM242.34 50.74h0.6v0.6h-0.6zM244.9 50.35h0.6v0.6h-0.6zM242.8 44h0.6v0.6h-0.6zM241.86 49.14h0.6v0.6h-0.6zM245.98 55.38h0.6v0.6h-0.6zM243.18 48.97h0.6v0.6h-0.6zM243.01 44.64h0.6v0.6h-0.6zM247.92 45.16h0.6v0.6h-0.6zM236.01 59.72h0.6v0.6h-0.6zM246.01 47.39h0.6v0.6h-0.6zM248.34 45.49h0.6v0.6h-0.6zM252.51 42.17h0.6v0.6h-0.6zM240.75 46.97h0.6v0.6h-0.6zM240.38 55.65h0.6v0.6h-0.6zM240.59 43.54h0.6v0.6h-0.6zM244.96 52.04h0.6v0.6h-0.6zM247.84 51.56h0.6v0.6h-0.6zM253.05 48.3h0.6v0.6h-0.6zM244.32 53.51h0.6v0.6h-0.6zM244.29 46.97h0.6v0.6h-0.6zM244.29 44.96h0.6v0.6h-0.6zM241.92 44.83h0.6v0.6h-0.6zM239.17 49.38h0.6v0.6h-0.6zM236.63 58.26h0.6v0.6h-0.6zM249.08 56.14h0.6v0.6h-0.6zM245.04 45.45h0.6v0.6h-0.6zM248.79 50.8h0.6v0.6h-0.6zM247.82 45.42h0.6v0.6h-0.6zM249.64 45.45h0.6v0.6h-0.6zM241.99 50.77h0.6v0.6h-0.6zM244.02 45.93h0.6v0.6h-0.6zM247.67 49.02h0.6v0.6h-0.6zM246.1 51.89h0.6v0.6h-0.6zM241.54 40.42h0.6v0.6h-0.6zM249.37 43.83h0.6v0.6h-0.6zM241.91 51.27h0.6v0.6h-0.6zM243.1 50.9h0.6v0.6h-0.6zM241.55 49.46h0.6v0.6h-0.6zM248.08 51.37h0.6v0.6h-0.6zM236.59 50.14h0.6v0.6h-0.6zM246.38 43.93h0.6v0.6h-0.6zM252.06 40.7h0.6v0.6h-0.6zM252.1 47.01h0.6v0.6h-0.6zM250.26 49.85h0.6v0.6h-0.6zM240.28 47.97h0.6v0.6h-0.6zM245.24 51.83h0.6v0.6h-0.6zM249.74 44.88h0.6v0.6h-0.6zM245.51 53.01h0.6v0.6h-0.6zM245.31 43.46h0.6v0.6h-0.6zM240.61 51.76h0.6v0.6h-0.6zM248.76 45h0.6v0.6h-0.6zM238.63 54.01h0.6v0.6h-0.6zM239.44 48.1h0.6v0.6h-0.6zM245.58 47.76h0.6v0.6h-0.6zM246.52 61.97h0.6v0.6h-0.6zM242.81 53.91h0.6v0.6h-0.6zM249.15 46.83h0.6v0.6h-0.6zM239.69 56.39h0.6v0.6h-0.6zM243.7 48.19h0.6v0.6h-0.6zM244.1 47.69h0.6v0.6h-0.6zM241.8 52.07h0.6v0.6h-0.6zM249.64 47.81h0.6v0.6h-0.6zM240.18 47.67h0.6v0.6h-0.6zM240.79 43.93h0.6v0.6h-0.6zM245.74 62.03h0.6v0.6h-0.6zM247.66 43.36h0.6v0.6h-0.6zM240.4 56.08h0.6v0.6h-0.6zM249.35 42.03h0.6v0.6h-0.6zM238.08 51.67h0.6v0.6h-0.6zM245.57 45.47h0.6v0.6h-0.6zM247.09 45.99h0.6v0.6h-0.6zM237.28 51.19h0.6v0.6h-0.6zM244.13 42.76h0.6v0.6h-0.6zM240.05 48.77h0.6v0.6h-0.6zM241.3 51.23h0.6v0.6h-0.6zM242.46 54.12h0.6v0.6h-0.6zM244.52 44.85h0.6v0.6h-0.6zM239.82 41.07h0.6v0.6h-0.6zM242.99 65.45h0.6v0.6h-0.6zM242.15 42.04h0.6v0.6h-0.6zM245.35 51.48h0.6v0.6h-0.6zM242.5 48.46h0.6v0.6h-0.6zM239.91 45.63h0.6v0.6h-0.6zM245.61 58.11h0.6v0.6h-0.6zM244.7 47.14h0.6v0.6h-0.6zM244.85 54.92h0.6v0.6h-0.6z" fill="#a00010" opacity="0.5"/>
<ellipse cx="57.6" cy="68.7" rx="17.6" ry="9.2" transform="rotate(-37 57.6 68.7)" fill="none" stroke="#111" stroke-width="1.2"/>
<ellipse cx="223.5" cy="68.4" rx="17.6" ry="9.2" transform="rotate(-37 223.5 68.4)" fill="none" stroke="#111" stroke-width="1.2"/>
<text x="54.3" y="49.8" font-size="5.4" stroke="#c0284a" stroke-width="0.12" text-anchor="end" fill="#c0284a" textLength="16" lengthAdjust="spacingAndGlyphs">Platelets</text>
<text x="54.3" y="55.2" font-size="5.4" stroke="#c0284a" stroke-width="0.12" text-anchor="end" fill="#c0284a" textLength="8.3" lengthAdjust="spacingAndGlyphs">4.01</text>
<text x="220.3" y="49.8" font-size="5.4" stroke="#c0284a" stroke-width="0.12" text-anchor="end" fill="#c0284a" textLength="16.3" lengthAdjust="spacingAndGlyphs">Platelets</text>
<text x="220.3" y="55.4" font-size="5.4" stroke="#c0284a" stroke-width="0.12" text-anchor="end" fill="#c0284a" textLength="11.9" lengthAdjust="spacingAndGlyphs">0.086</text>
<path d="M139.04 53.84h0.6v0.6h-0.6zM137.92 88.8h0.6v0.6h-0.6zM145.65 87.82h0.6v0.6h-0.6zM109 95.34h0.6v0.6h-0.6zM159.59 69.66h0.6v0.6h-0.6zM159.63 52h0.6v0.6h-0.6zM127.81 51.3h0.6v0.6h-0.6zM145.18 92.46h0.6v0.6h-0.6zM160.09 46.4h0.6v0.6h-0.6zM150.8 72.74h0.6v0.6h-0.6zM119.59 91.22h0.6v0.6h-0.6zM137.14 44.31h0.6v0.6h-0.6zM128.43 79.53h0.6v0.6h-0.6zM155.5 52.94h0.6v0.6h-0.6zM140.74 46.76h0.6v0.6h-0.6zM158.97 42.53h0.6v0.6h-0.6zM162.34 73.09h0.6v0.6h-0.6zM149.86 78.8h0.6v0.6h-0.6zM135.83 66.1h0.6v0.6h-0.6zM118.85 57.76h0.6v0.6h-0.6zM112.37 56.75h0.6v0.6h-0.6zM144.29 72.34h0.6v0.6h-0.6zM139.35 71.09h0.6v0.6h-0.6zM160.9 88.76h0.6v0.6h-0.6zM122.05 72.62h0.6v0.6h-0.6zM162.23 56.72h0.6v0.6h-0.6zM146.97 77.62h0.6v0.6h-0.6zM145.16 72.6h0.6v0.6h-0.6zM149.22 62.65h0.6v0.6h-0.6zM160.4 73.2h0.6v0.6h-0.6zM126.27 77.14h0.6v0.6h-0.6zM146.07 92.56h0.6v0.6h-0.6zM143.25 70.74h0.6v0.6h-0.6zM127.12 65.41h0.6v0.6h-0.6zM123.33 76.11h0.6v0.6h-0.6zM156.09 74.6h0.6v0.6h-0.6zM118.57 44h0.6v0.6h-0.6zM157.05 58.24h0.6v0.6h-0.6zM146.26 94h0.6v0.6h-0.6zM160.58 72.52h0.6v0.6h-0.6zM159.05 64.15h0.6v0.6h-0.6zM160.61 79.33h0.6v0.6h-0.6zM111.58 86.67h0.6v0.6h-0.6zM116.16 96.84h0.6v0.6h-0.6zM109.82 83.64h0.6v0.6h-0.6zM115.69 71.7h0.6v0.6h-0.6zM128.21 90.14h0.6v0.6h-0.6zM122.61 81.6h0.6v0.6h-0.6zM160.6 45.53h0.6v0.6h-0.6zM147.7 46.61h0.6v0.6h-0.6zM151.39 89.13h0.6v0.6h-0.6zM114.94 90.63h0.6v0.6h-0.6zM131.98 58.96h0.6v0.6h-0.6zM162.04 63.13h0.6v0.6h-0.6zM118.96 60.13h0.6v0.6h-0.6zM158.57 96.13h0.6v0.6h-0.6zM132.94 69.16h0.6v0.6h-0.6zM141.09 88.18h0.6v0.6h-0.6zM107.52 85.76h0.6v0.6h-0.6zM162.43 64.3h0.6v0.6h-0.6z" fill="#d04050" opacity="0.5"/>
<path d="M109.33 66.85h0.6v0.6h-0.6zM115.93 61.27h0.6v0.6h-0.6zM119.63 67.95h0.6v0.6h-0.6zM113.82 62.8h0.6v0.6h-0.6zM110.08 64.74h0.6v0.6h-0.6zM124.28 61.63h0.6v0.6h-0.6zM117.56 62.59h0.6v0.6h-0.6zM119.07 68.45h0.6v0.6h-0.6zM114.98 55.27h0.6v0.6h-0.6zM113.87 72.96h0.6v0.6h-0.6zM114.93 69.58h0.6v0.6h-0.6zM114 54.78h0.6v0.6h-0.6zM117.59 67.75h0.6v0.6h-0.6zM113.61 63.65h0.6v0.6h-0.6zM117.05 62.34h0.6v0.6h-0.6zM117.27 64.65h0.6v0.6h-0.6zM113.54 60.89h0.6v0.6h-0.6zM117.5 62.96h0.6v0.6h-0.6zM118.04 72.34h0.6v0.6h-0.6zM116.47 56.68h0.6v0.6h-0.6zM113.02 71.28h0.6v0.6h-0.6zM114.89 61.08h0.6v0.6h-0.6zM115.55 68.85h0.6v0.6h-0.6zM116.94 69.7h0.6v0.6h-0.6zM112.65 64.24h0.6v0.6h-0.6zM114.92 65.74h0.6v0.6h-0.6zM107.63 64.47h0.6v0.6h-0.6zM110.61 74.12h0.6v0.6h-0.6zM122.07 75.85h0.6v0.6h-0.6zM119.12 63h0.6v0.6h-0.6zM119.71 64.69h0.6v0.6h-0.6zM118.34 60.53h0.6v0.6h-0.6zM113.6 68.65h0.6v0.6h-0.6zM122.93 65.74h0.6v0.6h-0.6zM124.84 82.24h0.6v0.6h-0.6zM110.86 65.73h0.6v0.6h-0.6zM112.17 65.07h0.6v0.6h-0.6zM113.82 65.5h0.6v0.6h-0.6zM119.75 71.47h0.6v0.6h-0.6zM116.96 65.92h0.6v0.6h-0.6zM116.4 66.66h0.6v0.6h-0.6zM118.21 65.94h0.6v0.6h-0.6zM117.93 58.14h0.6v0.6h-0.6zM119.07 76.27h0.6v0.6h-0.6zM116.67 57.52h0.6v0.6h-0.6zM121.28 63.96h0.6v0.6h-0.6zM118.34 68.19h0.6v0.6h-0.6zM120.85 69.6h0.6v0.6h-0.6z" fill="#d04050" opacity="0.5"/>
<path d="M130.5 57.5 C134 56.5 138 56.5 139.9 57.2 C140.2 60 138 66 135.5 72 C134 76 132.5 79.5 131 80.5 C129.5 81 128 79 127.6 75 C127.4 71 127.5 66 128 63 C128.5 60 129.3 58.2 130.5 57.5 Z" fill="#c04050" filter="url(#bl)" opacity="0.6"/>
<path d="M132 60 C134.5 59.3 137 59.3 138 60 C138 62.5 136 67 134.3 71 C133.2 73.5 132.2 75.5 131.4 75.8 C130.6 75.8 130 73.5 129.9 71 C129.8 67.5 130.2 64 130.7 62 C131 61 131.4 60.3 132 60 Z" fill="#960000" opacity="0.85"/>
<path d="M130.09 68.24h0.6v0.6h-0.6zM138.22 60.41h0.6v0.6h-0.6zM130.56 71.02h0.6v0.6h-0.6zM132.18 69.66h0.6v0.6h-0.6zM137.39 57.41h0.6v0.6h-0.6zM135.5 67.71h0.6v0.6h-0.6zM132.35 73.21h0.6v0.6h-0.6zM129.75 73.93h0.6v0.6h-0.6zM135.6 72.2h0.6v0.6h-0.6zM138.77 64.2h0.6v0.6h-0.6zM135.11 70.89h0.6v0.6h-0.6zM131.16 66.34h0.6v0.6h-0.6zM133.71 63.02h0.6v0.6h-0.6zM130.67 76.37h0.6v0.6h-0.6zM132.32 68.58h0.6v0.6h-0.6zM129.37 67.35h0.6v0.6h-0.6zM134.18 75.4h0.6v0.6h-0.6zM136.26 64.18h0.6v0.6h-0.6zM131.23 66.23h0.6v0.6h-0.6zM133.57 56.87h0.6v0.6h-0.6zM138.6 61.54h0.6v0.6h-0.6zM142.3 58.3h0.6v0.6h-0.6zM138 59.04h0.6v0.6h-0.6zM136.95 59.84h0.6v0.6h-0.6zM134.06 66.7h0.6v0.6h-0.6zM130.85 71.52h0.6v0.6h-0.6zM139.14 64.65h0.6v0.6h-0.6zM135.56 69.41h0.6v0.6h-0.6zM129.81 60.45h0.6v0.6h-0.6zM129.69 63.7h0.6v0.6h-0.6zM129.24 82.43h0.6v0.6h-0.6zM138.16 65.64h0.6v0.6h-0.6zM129.95 81.56h0.6v0.6h-0.6zM133.35 69.71h0.6v0.6h-0.6zM139.15 56.47h0.6v0.6h-0.6zM130.42 69.79h0.6v0.6h-0.6zM137.57 61.14h0.6v0.6h-0.6zM133.01 66.61h0.6v0.6h-0.6zM131.11 73.23h0.6v0.6h-0.6zM133.3 69.3h0.6v0.6h-0.6zM132.85 58.2h0.6v0.6h-0.6zM138.94 55.56h0.6v0.6h-0.6zM136.11 62.9h0.6v0.6h-0.6zM129.52 72.23h0.6v0.6h-0.6zM134.21 60.43h0.6v0.6h-0.6zM131.58 67.68h0.6v0.6h-0.6zM134.15 65.91h0.6v0.6h-0.6zM137.06 65.81h0.6v0.6h-0.6zM130.83 66.31h0.6v0.6h-0.6zM133.09 57.83h0.6v0.6h-0.6zM129.73 74.14h0.6v0.6h-0.6zM137.44 63.86h0.6v0.6h-0.6zM135.89 65.32h0.6v0.6h-0.6zM133.35 69.12h0.6v0.6h-0.6zM136.9 63.49h0.6v0.6h-0.6zM132.53 69.38h0.6v0.6h-0.6zM136.05 61.53h0.6v0.6h-0.6zM139.34 65.75h0.6v0.6h-0.6zM134.9 70.1h0.6v0.6h-0.6zM139.49 68.01h0.6v0.6h-0.6zM129.92 67.6h0.6v0.6h-0.6zM137.95 73.91h0.6v0.6h-0.6zM131.63 62.9h0.6v0.6h-0.6zM141.05 57.87h0.6v0.6h-0.6zM133.89 65.23h0.6v0.6h-0.6zM140.02 67.48h0.6v0.6h-0.6zM138.9 63.61h0.6v0.6h-0.6zM128.51 74.94h0.6v0.6h-0.6zM133.32 73.44h0.6v0.6h-0.6zM131.27 68.89h0.6v0.6h-0.6zM135.62 64.12h0.6v0.6h-0.6zM133.92 61.84h0.6v0.6h-0.6zM136.64 56.91h0.6v0.6h-0.6zM137.71 55.82h0.6v0.6h-0.6zM133.95 67.11h0.6v0.6h-0.6zM128.34 73.49h0.6v0.6h-0.6zM134.74 80.06h0.6v0.6h-0.6zM126.26 76.51h0.6v0.6h-0.6zM134.23 67.49h0.6v0.6h-0.6zM131.97 67.08h0.6v0.6h-0.6zM135.57 73.34h0.6v0.6h-0.6zM134.36 61.99h0.6v0.6h-0.6zM130.73 71.95h0.6v0.6h-0.6zM141.44 61.09h0.6v0.6h-0.6zM134.62 64.64h0.6v0.6h-0.6zM130.4 70.13h0.6v0.6h-0.6zM139.04 56.99h0.6v0.6h-0.6zM127.36 76.18h0.6v0.6h-0.6zM132.83 72.13h0.6v0.6h-0.6zM133.3 64.21h0.6v0.6h-0.6zM136.14 64.19h0.6v0.6h-0.6zM130.61 66.64h0.6v0.6h-0.6zM138.84 60.39h0.6v0.6h-0.6zM134.24 74.25h0.6v0.6h-0.6zM131.24 66.93h0.6v0.6h-0.6zM131.58 72.67h0.6v0.6h-0.6zM139 58.02h0.6v0.6h-0.6zM127.03 74.56h0.6v0.6h-0.6zM132.6 71.1h0.6v0.6h-0.6zM129.97 80.13h0.6v0.6h-0.6zM127.23 75.17h0.6v0.6h-0.6zM129.28 72.67h0.6v0.6h-0.6zM140.98 58.03h0.6v0.6h-0.6zM135.36 65.89h0.6v0.6h-0.6zM132.63 67.76h0.6v0.6h-0.6zM133.54 59.08h0.6v0.6h-0.6zM132.79 75h0.6v0.6h-0.6zM136.22 55.66h0.6v0.6h-0.6zM136.38 78.57h0.6v0.6h-0.6zM137.41 59.9h0.6v0.6h-0.6zM131.3 69.06h0.6v0.6h-0.6zM126.41 79.44h0.6v0.6h-0.6zM132.74 70.92h0.6v0.6h-0.6zM133.44 59.56h0.6v0.6h-0.6zM130.67 69.13h0.6v0.6h-0.6zM133.65 65.17h0.6v0.6h-0.6zM133.68 69.77h0.6v0.6h-0.6zM137.92 67.55h0.6v0.6h-0.6zM130.91 66.65h0.6v0.6h-0.6zM138.89 64.72h0.6v0.6h-0.6zM134.66 64.93h0.6v0.6h-0.6zM133.82 70.1h0.6v0.6h-0.6zM132.06 65.14h0.6v0.6h-0.6zM132.81 77.2h0.6v0.6h-0.6zM133.43 75.35h0.6v0.6h-0.6zM133.69 64.53h0.6v0.6h-0.6zM139.27 59.37h0.6v0.6h-0.6zM134.55 61.8h0.6v0.6h-0.6zM128.74 71.12h0.6v0.6h-0.6zM132.66 64.13h0.6v0.6h-0.6zM134.95 61.68h0.6v0.6h-0.6zM138.6 65.17h0.6v0.6h-0.6zM137.75 57.64h0.6v0.6h-0.6zM133.21 64.72h0.6v0.6h-0.6zM134.38 62.83h0.6v0.6h-0.6zM129.43 80.07h0.6v0.6h-0.6zM133.56 66.49h0.6v0.6h-0.6zM136.09 73.6h0.6v0.6h-0.6zM137.36 62.81h0.6v0.6h-0.6zM132.51 69.22h0.6v0.6h-0.6zM136.26 61.11h0.6v0.6h-0.6zM130.02 71.03h0.6v0.6h-0.6zM130.12 77.77h0.6v0.6h-0.6zM131.16 69h0.6v0.6h-0.6zM127.38 72.88h0.6v0.6h-0.6zM134.2 56.87h0.6v0.6h-0.6zM135.53 57.26h0.6v0.6h-0.6zM134.05 69.95h0.6v0.6h-0.6zM141.4 59.35h0.6v0.6h-0.6zM130.29 63.76h0.6v0.6h-0.6zM133.47 70.88h0.6v0.6h-0.6zM140.57 57.05h0.6v0.6h-0.6zM131.76 65.92h0.6v0.6h-0.6zM134.32 72.25h0.6v0.6h-0.6zM135.33 59.34h0.6v0.6h-0.6zM133.08 76h0.6v0.6h-0.6zM141.01 68.89h0.6v0.6h-0.6zM141.14 59.78h0.6v0.6h-0.6zM134.04 61.92h0.6v0.6h-0.6zM134.81 60.44h0.6v0.6h-0.6zM132.26 66.8h0.6v0.6h-0.6zM130.47 72.48h0.6v0.6h-0.6zM133.3 67.64h0.6v0.6h-0.6zM136.41 71.58h0.6v0.6h-0.6zM133.96 67.73h0.6v0.6h-0.6zM132.04 72.28h0.6v0.6h-0.6zM128.18 75.94h0.6v0.6h-0.6zM134.27 78.24h0.6v0.6h-0.6zM131.94 68.53h0.6v0.6h-0.6zM136.16 67.09h0.6v0.6h-0.6zM128.39 79.35h0.6v0.6h-0.6zM128.75 75.45h0.6v0.6h-0.6zM139.63 58.18h0.6v0.6h-0.6zM135.81 63.64h0.6v0.6h-0.6zM128.29 69.51h0.6v0.6h-0.6zM131.73 69.51h0.6v0.6h-0.6zM131.68 64.23h0.6v0.6h-0.6zM137.21 55.4h0.6v0.6h-0.6zM127.97 69.63h0.6v0.6h-0.6zM136.55 60.58h0.6v0.6h-0.6zM131.36 72.83h0.6v0.6h-0.6zM140.76 62.51h0.6v0.6h-0.6zM129.5 79.28h0.6v0.6h-0.6zM132.53 76.68h0.6v0.6h-0.6zM133.21 78.26h0.6v0.6h-0.6zM135.56 61.86h0.6v0.6h-0.6zM132.42 67.03h0.6v0.6h-0.6zM135.93 64.35h0.6v0.6h-0.6zM131.13 74.65h0.6v0.6h-0.6zM142.35 60.77h0.6v0.6h-0.6zM135.78 56.95h0.6v0.6h-0.6zM128.95 70.92h0.6v0.6h-0.6zM133.93 58.6h0.6v0.6h-0.6zM130.53 73.76h0.6v0.6h-0.6zM133.61 64.6h0.6v0.6h-0.6zM134.53 72.3h0.6v0.6h-0.6zM131.98 75.6h0.6v0.6h-0.6zM130.28 68.48h0.6v0.6h-0.6zM128.94 75.2h0.6v0.6h-0.6zM138.6 60.31h0.6v0.6h-0.6zM140.3 59.83h0.6v0.6h-0.6zM135.95 70.45h0.6v0.6h-0.6zM134.45 58.14h0.6v0.6h-0.6zM132.79 67.26h0.6v0.6h-0.6zM130.06 71.49h0.6v0.6h-0.6zM129.91 66.36h0.6v0.6h-0.6zM137.92 58.1h0.6v0.6h-0.6zM128.8 60.56h0.6v0.6h-0.6zM130.33 74.63h0.6v0.6h-0.6zM128.03 78.86h0.6v0.6h-0.6zM134.11 77.68h0.6v0.6h-0.6zM135.93 71.74h0.6v0.6h-0.6zM130.21 72.31h0.6v0.6h-0.6zM135.33 70.52h0.6v0.6h-0.6zM137.36 55.16h0.6v0.6h-0.6zM134.25 71.14h0.6v0.6h-0.6zM129.85 67.29h0.6v0.6h-0.6zM135.69 67.55h0.6v0.6h-0.6zM133.38 74.41h0.6v0.6h-0.6zM130.54 63.96h0.6v0.6h-0.6zM132.14 75.41h0.6v0.6h-0.6zM131.28 73.31h0.6v0.6h-0.6zM131.85 82.19h0.6v0.6h-0.6zM132.15 63.91h0.6v0.6h-0.6zM128.42 73.18h0.6v0.6h-0.6zM126.67 75.81h0.6v0.6h-0.6zM134.54 72.46h0.6v0.6h-0.6zM129.81 60.33h0.6v0.6h-0.6zM139.52 57.26h0.6v0.6h-0.6zM133.19 66.68h0.6v0.6h-0.6zM135.01 70.8h0.6v0.6h-0.6zM135.49 64.51h0.6v0.6h-0.6zM133.91 66.67h0.6v0.6h-0.6zM135.92 67h0.6v0.6h-0.6zM141.07 55.3h0.6v0.6h-0.6zM137.12 67.51h0.6v0.6h-0.6zM136.2 69.45h0.6v0.6h-0.6zM131.44 80.32h0.6v0.6h-0.6zM131.84 67.83h0.6v0.6h-0.6zM132.47 69.2h0.6v0.6h-0.6zM129.79 64.83h0.6v0.6h-0.6zM135.12 61.27h0.6v0.6h-0.6zM137.43 55.36h0.6v0.6h-0.6zM135.86 72.56h0.6v0.6h-0.6zM140.92 62.6h0.6v0.6h-0.6zM129.67 68.83h0.6v0.6h-0.6zM128.52 67.91h0.6v0.6h-0.6zM132.64 64.4h0.6v0.6h-0.6zM134.04 68.3h0.6v0.6h-0.6zM136.53 74.45h0.6v0.6h-0.6zM127.34 74.21h0.6v0.6h-0.6zM129.78 67.11h0.6v0.6h-0.6zM132.65 59.98h0.6v0.6h-0.6zM138.53 64.53h0.6v0.6h-0.6zM133.45 62.64h0.6v0.6h-0.6zM128.56 78.76h0.6v0.6h-0.6zM134 56.8h0.6v0.6h-0.6zM139.6 55.63h0.6v0.6h-0.6zM129.31 76.25h0.6v0.6h-0.6zM134.89 63.87h0.6v0.6h-0.6zM134.3 59.74h0.6v0.6h-0.6zM131.59 68.15h0.6v0.6h-0.6zM133.97 76.43h0.6v0.6h-0.6zM134.14 61.31h0.6v0.6h-0.6zM133.31 64.62h0.6v0.6h-0.6zM133.49 58.68h0.6v0.6h-0.6zM133 61.58h0.6v0.6h-0.6zM137.67 56.8h0.6v0.6h-0.6zM137.22 66.12h0.6v0.6h-0.6zM133.88 64.4h0.6v0.6h-0.6zM134.58 59.12h0.6v0.6h-0.6zM135.92 70.16h0.6v0.6h-0.6zM130.38 75.2h0.6v0.6h-0.6zM129.87 71.74h0.6v0.6h-0.6zM136.13 60.44h0.6v0.6h-0.6zM139.78 56.36h0.6v0.6h-0.6zM137.75 61.05h0.6v0.6h-0.6zM130.62 78.65h0.6v0.6h-0.6zM136.72 63.17h0.6v0.6h-0.6zM134.5 64.45h0.6v0.6h-0.6zM133.65 57.54h0.6v0.6h-0.6zM132.1 71.61h0.6v0.6h-0.6zM129.16 65.09h0.6v0.6h-0.6zM134.52 68.64h0.6v0.6h-0.6zM127.96 74.48h0.6v0.6h-0.6zM128.52 71.22h0.6v0.6h-0.6zM133.29 69.96h0.6v0.6h-0.6zM136.31 61.42h0.6v0.6h-0.6zM136.71 55.96h0.6v0.6h-0.6zM132.33 71.56h0.6v0.6h-0.6zM134.45 59.31h0.6v0.6h-0.6zM132.33 66.68h0.6v0.6h-0.6zM133.98 66.43h0.6v0.6h-0.6zM137.45 56.96h0.6v0.6h-0.6zM141.24 57.39h0.6v0.6h-0.6zM130.95 68.89h0.6v0.6h-0.6zM134.14 73.13h0.6v0.6h-0.6zM136.98 67.93h0.6v0.6h-0.6zM133.42 70.76h0.6v0.6h-0.6zM128.99 76.15h0.6v0.6h-0.6zM132.35 75.39h0.6v0.6h-0.6zM129.58 74.84h0.6v0.6h-0.6zM129.69 69.22h0.6v0.6h-0.6zM129.66 56.77h0.6v0.6h-0.6zM136.71 64.29h0.6v0.6h-0.6zM135.82 73.23h0.6v0.6h-0.6zM132.28 70.34h0.6v0.6h-0.6zM130.34 78.49h0.6v0.6h-0.6zM138.27 55.8h0.6v0.6h-0.6zM129.22 76.9h0.6v0.6h-0.6zM136.19 64.35h0.6v0.6h-0.6zM134.77 68.59h0.6v0.6h-0.6zM139.61 55.28h0.6v0.6h-0.6zM129.32 71.47h0.6v0.6h-0.6zM131.95 69.65h0.6v0.6h-0.6zM139.45 66.51h0.6v0.6h-0.6zM135.73 62.98h0.6v0.6h-0.6zM132.13 65.94h0.6v0.6h-0.6zM137.33 67.58h0.6v0.6h-0.6zM136.07 69.12h0.6v0.6h-0.6zM132.01 72.48h0.6v0.6h-0.6zM138.79 58.39h0.6v0.6h-0.6zM139.39 60.66h0.6v0.6h-0.6zM129 80.2h0.6v0.6h-0.6zM130.89 71.58h0.6v0.6h-0.6zM132.47 70.42h0.6v0.6h-0.6zM133.94 59.15h0.6v0.6h-0.6zM138.83 55.24h0.6v0.6h-0.6zM129.54 71.34h0.6v0.6h-0.6zM134.47 59.61h0.6v0.6h-0.6zM130.26 67.23h0.6v0.6h-0.6zM132.17 67.95h0.6v0.6h-0.6zM127.79 81.38h0.6v0.6h-0.6zM133.82 67.25h0.6v0.6h-0.6zM136.52 67.94h0.6v0.6h-0.6zM134.93 67.06h0.6v0.6h-0.6zM138.17 65.15h0.6v0.6h-0.6zM129.99 66.97h0.6v0.6h-0.6zM130.01 69.5h0.6v0.6h-0.6zM131.12 65.11h0.6v0.6h-0.6zM133.04 66.65h0.6v0.6h-0.6zM134.5 60.34h0.6v0.6h-0.6zM135.01 62.56h0.6v0.6h-0.6zM134.69 65.15h0.6v0.6h-0.6zM127.95 64.55h0.6v0.6h-0.6zM136.22 70.77h0.6v0.6h-0.6zM133.77 71.22h0.6v0.6h-0.6zM136.09 56.35h0.6v0.6h-0.6zM132.62 76.05h0.6v0.6h-0.6zM133.78 70.94h0.6v0.6h-0.6zM134.61 67.28h0.6v0.6h-0.6zM134.19 67.47h0.6v0.6h-0.6zM137.02 60.12h0.6v0.6h-0.6zM130.32 70.94h0.6v0.6h-0.6zM136.36 74.45h0.6v0.6h-0.6zM137.09 62.64h0.6v0.6h-0.6zM131.26 64.47h0.6v0.6h-0.6zM135.73 61.24h0.6v0.6h-0.6zM132 72.58h0.6v0.6h-0.6zM137.95 59.73h0.6v0.6h-0.6zM128.04 65.2h0.6v0.6h-0.6zM130.61 69.99h0.6v0.6h-0.6zM133.09 81.28h0.6v0.6h-0.6zM131.15 75.95h0.6v0.6h-0.6zM137.55 69.06h0.6v0.6h-0.6zM131.83 73.98h0.6v0.6h-0.6zM134.82 63.36h0.6v0.6h-0.6zM131.61 66.58h0.6v0.6h-0.6zM129.74 72.76h0.6v0.6h-0.6zM128.61 78.13h0.6v0.6h-0.6zM140.02 58.89h0.6v0.6h-0.6zM137.36 65.18h0.6v0.6h-0.6zM135.54 72.45h0.6v0.6h-0.6zM131.54 72.38h0.6v0.6h-0.6zM131.21 69.3h0.6v0.6h-0.6zM134.9 66.54h0.6v0.6h-0.6zM137.26 60.06h0.6v0.6h-0.6zM138.28 58.61h0.6v0.6h-0.6zM133.77 71.51h0.6v0.6h-0.6zM136.84 63.76h0.6v0.6h-0.6zM141.76 68.42h0.6v0.6h-0.6zM135.99 61.79h0.6v0.6h-0.6zM138.4 65.14h0.6v0.6h-0.6zM138.62 61.15h0.6v0.6h-0.6zM135.32 64.91h0.6v0.6h-0.6zM136.65 66.1h0.6v0.6h-0.6zM130.11 70.12h0.6v0.6h-0.6zM133.17 59.14h0.6v0.6h-0.6zM136.52 65.17h0.6v0.6h-0.6zM130.55 68.55h0.6v0.6h-0.6zM136.7 63.69h0.6v0.6h-0.6zM130.87 73.46h0.6v0.6h-0.6zM135.53 67.87h0.6v0.6h-0.6zM134.2 59.73h0.6v0.6h-0.6zM130.16 72.2h0.6v0.6h-0.6zM134.11 70.44h0.6v0.6h-0.6zM137.8 66.63h0.6v0.6h-0.6zM133.62 64.4h0.6v0.6h-0.6zM133 71.31h0.6v0.6h-0.6zM134.3 74.58h0.6v0.6h-0.6zM129.91 70.67h0.6v0.6h-0.6zM132.46 67.74h0.6v0.6h-0.6zM135.33 64.3h0.6v0.6h-0.6zM130.61 80.62h0.6v0.6h-0.6zM135.48 70.35h0.6v0.6h-0.6zM136.7 67.33h0.6v0.6h-0.6zM130.52 72.35h0.6v0.6h-0.6zM129.32 73.1h0.6v0.6h-0.6zM133.35 59.95h0.6v0.6h-0.6zM137.53 56.93h0.6v0.6h-0.6zM132.05 71.87h0.6v0.6h-0.6zM127.71 73.65h0.6v0.6h-0.6zM130.61 71.5h0.6v0.6h-0.6zM135.28 64.66h0.6v0.6h-0.6zM133.89 61.5h0.6v0.6h-0.6zM134.78 77.03h0.6v0.6h-0.6zM127.93 72.7h0.6v0.6h-0.6zM135.09 65.28h0.6v0.6h-0.6zM132.48 74.28h0.6v0.6h-0.6zM132.84 65.37h0.6v0.6h-0.6zM136.59 60.72h0.6v0.6h-0.6zM134.18 67.51h0.6v0.6h-0.6zM134.12 61.04h0.6v0.6h-0.6zM131.87 74.79h0.6v0.6h-0.6zM136.65 61.86h0.6v0.6h-0.6zM134.88 69.91h0.6v0.6h-0.6zM131.79 77.2h0.6v0.6h-0.6zM131.66 66.11h0.6v0.6h-0.6zM134.41 60.9h0.6v0.6h-0.6zM135.88 76.79h0.6v0.6h-0.6zM127.99 69.58h0.6v0.6h-0.6zM129.01 76.06h0.6v0.6h-0.6zM134.18 66.75h0.6v0.6h-0.6zM132.81 70.98h0.6v0.6h-0.6zM134.17 66.37h0.6v0.6h-0.6zM131.77 71.68h0.6v0.6h-0.6zM130.73 66.96h0.6v0.6h-0.6zM134.53 64.25h0.6v0.6h-0.6zM138.82 59.02h0.6v0.6h-0.6zM134.92 61.3h0.6v0.6h-0.6zM136.11 64.99h0.6v0.6h-0.6zM132.57 70.91h0.6v0.6h-0.6zM128.35 69.94h0.6v0.6h-0.6zM132.35 65.42h0.6v0.6h-0.6zM131.03 73.93h0.6v0.6h-0.6zM130.52 81.83h0.6v0.6h-0.6zM135.23 64.6h0.6v0.6h-0.6zM130.49 72.42h0.6v0.6h-0.6zM136.51 71.97h0.6v0.6h-0.6zM131.34 69.53h0.6v0.6h-0.6zM134.04 68.47h0.6v0.6h-0.6zM129.32 75.37h0.6v0.6h-0.6zM137.87 71.2h0.6v0.6h-0.6zM128.38 72.88h0.6v0.6h-0.6zM130.05 71.49h0.6v0.6h-0.6zM136.76 59.22h0.6v0.6h-0.6zM138.77 58.6h0.6v0.6h-0.6zM136.63 69.65h0.6v0.6h-0.6z" fill="#900000" opacity="0.6"/>
<rect x="125.3" y="54.4" width="18.2" height="29.1" fill="none" stroke="#111" stroke-width="1.3"/>
<text x="132" y="47.2" font-size="5.6" stroke="#c0284a" stroke-width="0.12" text-anchor="middle" fill="#c0284a" textLength="25.2" lengthAdjust="spacingAndGlyphs">CD41+ Cells</text>
<text x="132.5" y="52.6" font-size="5.6" stroke="#c0284a" stroke-width="0.12" text-anchor="middle" fill="#c0284a" textLength="8" lengthAdjust="spacingAndGlyphs">98.1</text>
<path d="M318.32 68.03h0.6v0.6h-0.6zM326.89 73.1h0.6v0.6h-0.6zM321.55 45.69h0.6v0.6h-0.6zM307.72 70.54h0.6v0.6h-0.6zM292.68 90.91h0.6v0.6h-0.6zM278.06 69.27h0.6v0.6h-0.6zM289.86 93.92h0.6v0.6h-0.6zM315.99 54.44h0.6v0.6h-0.6zM280.03 45.24h0.6v0.6h-0.6zM282.88 92.31h0.6v0.6h-0.6zM321.01 85.6h0.6v0.6h-0.6zM295.02 69.06h0.6v0.6h-0.6zM304.64 86.13h0.6v0.6h-0.6zM273.23 53.43h0.6v0.6h-0.6zM304.98 51.35h0.6v0.6h-0.6zM324.6 46.32h0.6v0.6h-0.6zM326.55 55.16h0.6v0.6h-0.6zM283.66 66.07h0.6v0.6h-0.6zM308.08 94.94h0.6v0.6h-0.6zM299.2 90.7h0.6v0.6h-0.6zM321.98 95.19h0.6v0.6h-0.6zM292.79 68.68h0.6v0.6h-0.6zM274.19 63.96h0.6v0.6h-0.6zM292.45 50.47h0.6v0.6h-0.6zM318.78 58.52h0.6v0.6h-0.6zM280.19 50h0.6v0.6h-0.6zM274.34 83.27h0.6v0.6h-0.6zM302.26 71.23h0.6v0.6h-0.6zM295.76 94.12h0.6v0.6h-0.6zM293.79 68.69h0.6v0.6h-0.6zM310.95 92.31h0.6v0.6h-0.6zM320.22 89.84h0.6v0.6h-0.6zM283.08 93.12h0.6v0.6h-0.6zM318.31 61.15h0.6v0.6h-0.6zM317.3 93.55h0.6v0.6h-0.6zM313.88 82.41h0.6v0.6h-0.6zM319.12 89.7h0.6v0.6h-0.6zM315.96 48.04h0.6v0.6h-0.6zM284.48 50.28h0.6v0.6h-0.6zM298.63 47.41h0.6v0.6h-0.6zM303.28 92.06h0.6v0.6h-0.6zM326.98 45.95h0.6v0.6h-0.6zM310.54 51.44h0.6v0.6h-0.6zM320.42 45.62h0.6v0.6h-0.6zM278.68 60.83h0.6v0.6h-0.6z" fill="#d04050" opacity="0.5"/>
<path d="M283.26 58.44h0.6v0.6h-0.6zM278.72 68.33h0.6v0.6h-0.6zM290.1 54.38h0.6v0.6h-0.6zM280.29 50.71h0.6v0.6h-0.6zM286.19 65.18h0.6v0.6h-0.6zM293.68 63.07h0.6v0.6h-0.6zM280.94 58.64h0.6v0.6h-0.6zM287.03 51.68h0.6v0.6h-0.6zM286.55 65.87h0.6v0.6h-0.6zM280.61 57.17h0.6v0.6h-0.6zM287.99 78.1h0.6v0.6h-0.6zM280.89 68.01h0.6v0.6h-0.6zM291.25 59.3h0.6v0.6h-0.6zM281.81 54.75h0.6v0.6h-0.6zM282.3 63.38h0.6v0.6h-0.6zM281.02 58.39h0.6v0.6h-0.6zM275.49 53.79h0.6v0.6h-0.6zM278.36 68.87h0.6v0.6h-0.6zM280.58 57.53h0.6v0.6h-0.6zM286.12 68.28h0.6v0.6h-0.6zM279.42 59.24h0.6v0.6h-0.6zM286.14 66.78h0.6v0.6h-0.6zM279.03 65.83h0.6v0.6h-0.6zM282.86 72.48h0.6v0.6h-0.6zM278.87 70.72h0.6v0.6h-0.6zM285.06 56.32h0.6v0.6h-0.6zM288.02 70.93h0.6v0.6h-0.6zM276.72 79.11h0.6v0.6h-0.6zM277.54 56.99h0.6v0.6h-0.6zM281.46 69.88h0.6v0.6h-0.6zM285.78 63.28h0.6v0.6h-0.6zM289.52 67.09h0.6v0.6h-0.6zM289.67 85.55h0.6v0.6h-0.6zM283.92 44.3h0.6v0.6h-0.6zM280.83 55.76h0.6v0.6h-0.6zM283.44 64.75h0.6v0.6h-0.6zM277.12 55.15h0.6v0.6h-0.6zM281.73 62.49h0.6v0.6h-0.6zM283.15 63.92h0.6v0.6h-0.6z" fill="#d04050" opacity="0.5"/>
<rect x="290.9" y="53.8" width="18.3" height="28.7" fill="none" stroke="#111" stroke-width="1.3"/>
<text x="299" y="47.2" font-size="5.6" stroke="#c0284a" stroke-width="0.12" text-anchor="middle" fill="#c0284a" textLength="25.2" lengthAdjust="spacingAndGlyphs">CD41+ Cells</text>
<text x="299.5" y="52.6" font-size="5.6" stroke="#c0284a" stroke-width="0.12" text-anchor="middle" fill="#c0284a" textLength="8" lengthAdjust="spacingAndGlyphs">4.65</text>
<line x1="73" y1="69" x2="119.8" y2="69" stroke="#000" stroke-width="1.3"/>
<path d="M122.8 69 L118 66.7 L118 71.3 Z" fill="#000"/>
<line x1="238.5" y1="69" x2="285" y2="69" stroke="#000" stroke-width="1.3"/>
<path d="M288 69 L283.2 66.7 L283.2 71.3 Z" fill="#000"/>
<rect x="30.4" y="84.3" width="1.6" height="2" fill="#111"/>
<rect x="104.4" y="84.3" width="1.6" height="2" fill="#111"/>
<rect x="196.4" y="84.3" width="1.6" height="2" fill="#111"/>
<rect x="269.9" y="84.3" width="1.6" height="2" fill="#111"/>
<rect x="44" y="97.6" width="1.8" height="1.6" fill="#111"/>
<rect x="210" y="97.6" width="1.8" height="1.6" fill="#111"/>
<text x="424.1" y="13.5" font-size="8.8" stroke="#000" stroke-width="0.12" textLength="32.2" lengthAdjust="spacingAndGlyphs">Platelets</text>
<line x1="389.6" y1="25" x2="389.6" y2="98.8" stroke="#000" stroke-width="1.2"/>
<line x1="386.2" y1="98.2" x2="389.6" y2="98.2" stroke="#000" stroke-width="1"/>
<text x="383.3" y="100.6" font-size="6.7" stroke="#000" stroke-width="0.12" text-anchor="end">0</text>
<line x1="386.2" y1="91.8" x2="389.6" y2="91.8" stroke="#000" stroke-width="1"/>
<text x="383.3" y="94.2" font-size="6.7" stroke="#000" stroke-width="0.12" text-anchor="end">10</text>
<line x1="386.2" y1="85.4" x2="389.6" y2="85.4" stroke="#000" stroke-width="1"/>
<text x="383.3" y="87.8" font-size="6.7" stroke="#000" stroke-width="0.12" text-anchor="end">20</text>
<line x1="386.2" y1="79" x2="389.6" y2="79" stroke="#000" stroke-width="1"/>
<text x="383.3" y="81.4" font-size="6.7" stroke="#000" stroke-width="0.12" text-anchor="end">30</text>
<line x1="386.2" y1="72.6" x2="389.6" y2="72.6" stroke="#000" stroke-width="1"/>
<text x="383.3" y="75" font-size="6.7" stroke="#000" stroke-width="0.12" text-anchor="end">40</text>
<line x1="386.2" y1="66.2" x2="389.6" y2="66.2" stroke="#000" stroke-width="1"/>
<text x="383.3" y="68.6" font-size="6.7" stroke="#000" stroke-width="0.12" text-anchor="end">50</text>
<line x1="386.2" y1="59.8" x2="389.6" y2="59.8" stroke="#000" stroke-width="1"/>
<text x="383.3" y="62.2" font-size="6.7" stroke="#000" stroke-width="0.12" text-anchor="end">60</text>
<line x1="386.2" y1="53.4" x2="389.6" y2="53.4" stroke="#000" stroke-width="1"/>
<text x="383.3" y="55.8" font-size="6.7" stroke="#000" stroke-width="0.12" text-anchor="end">70</text>
<line x1="386.2" y1="47" x2="389.6" y2="47" stroke="#000" stroke-width="1"/>
<text x="383.3" y="49.4" font-size="6.7" stroke="#000" stroke-width="0.12" text-anchor="end">80</text>
<line x1="386.2" y1="40.6" x2="389.6" y2="40.6" stroke="#000" stroke-width="1"/>
<text x="383.3" y="43" font-size="6.7" stroke="#000" stroke-width="0.12" text-anchor="end">90</text>
<line x1="386.2" y1="34.2" x2="389.6" y2="34.2" stroke="#000" stroke-width="1"/>
<text x="383.3" y="36.6" font-size="6.7" stroke="#000" stroke-width="0.12" text-anchor="end">100</text>
<line x1="386.2" y1="27.8" x2="389.6" y2="27.8" stroke="#000" stroke-width="1"/>
<text x="383.3" y="30.2" font-size="6.7" stroke="#000" stroke-width="0.12" text-anchor="end">110</text>
<text transform="translate(354,61.9) rotate(-90)" font-size="8.8" stroke="#000" stroke-width="0.25" text-anchor="middle" textLength="69.5" lengthAdjust="spacingAndGlyphs">Platelet count (% relative</text>
<text transform="translate(365.8,61.5) rotate(-90)" font-size="8.8" stroke="#000" stroke-width="0.25" text-anchor="middle" textLength="44" lengthAdjust="spacingAndGlyphs">to control mice)</text>
<rect x="394.9" y="34.2" width="17.8" height="64" fill="#a3002b"/>
<line x1="403.7" y1="34.2" x2="403.7" y2="29.1" stroke="#b83050" stroke-width="1.1"/>
<line x1="398.6" y1="29.1" x2="408.4" y2="29.1" stroke="#c85070" stroke-width="1.2"/>
<rect x="417.4" y="96.6" width="18.2" height="1.6" fill="#e9a3a3" stroke="#e07070" stroke-width="0.5"/>
<line x1="440.2" y1="34" x2="440.2" y2="98" stroke="#aaa" stroke-width="0.7" stroke-dasharray="0.8 0.8"/>
<rect x="445.7" y="34.2" width="17.1" height="64" fill="#2e4b7c"/>
<line x1="454.2" y1="34.2" x2="454.2" y2="29.2" stroke="#2e4b7c" stroke-width="1.1"/>
<line x1="449.6" y1="29.2" x2="459.2" y2="29.2" stroke="#2e4b7c" stroke-width="1.1"/>
<rect x="467.8" y="96.6" width="18.2" height="1.6" fill="#fff" stroke="#90a0d0" stroke-width="0.7"/>
<line x1="389.6" y1="34.2" x2="490" y2="34.2" stroke="#111" stroke-width="1.1" stroke-dasharray="2.6 1.6"/>
<line x1="389" y1="98.4" x2="490.5" y2="98.4" stroke="#000" stroke-width="1.2"/>
<line x1="403.7" y1="98.4" x2="403.7" y2="101" stroke="#000" stroke-width="1"/>
<line x1="426.5" y1="98.4" x2="426.5" y2="101" stroke="#000" stroke-width="1"/>
<line x1="454.2" y1="98.4" x2="454.2" y2="101" stroke="#000" stroke-width="1"/>
<line x1="477" y1="98.4" x2="477" y2="101" stroke="#000" stroke-width="1"/>
<line x1="403.7" y1="26.4" x2="426.6" y2="26.4" stroke="#000" stroke-width="1.1"/>
<line x1="426.6" y1="25.2" x2="426.6" y2="27.6" stroke="#000" stroke-width="1.1"/>
<line x1="403.7" y1="26.4" x2="403.7" y2="28" stroke="#000" stroke-width="0.9"/>
<line x1="454.2" y1="26.4" x2="477.1" y2="26.4" stroke="#000" stroke-width="1.1"/>
<line x1="477.1" y1="25.2" x2="477.1" y2="27.6" stroke="#000" stroke-width="1.1"/>
<line x1="454.2" y1="26.4" x2="454.2" y2="28.5" stroke="#000" stroke-width="0.9"/>
<text x="403.2" y="24.2" font-size="5.2" stroke="#000" stroke-width="0.12" textLength="23.5" lengthAdjust="spacingAndGlyphs">p&lt;0.0001</text>
<text x="453" y="24.2" font-size="5.2" stroke="#000" stroke-width="0.12" textLength="24" lengthAdjust="spacingAndGlyphs">p&lt;0.0001</text>
<text x="393.4" y="111.3" font-size="7.3" stroke="#000" stroke-width="0.12" textLength="21.2" lengthAdjust="spacingAndGlyphs">Isotype</text>
<text x="415.8" y="111.3" font-size="7.3" stroke="#000" stroke-width="0.12" textLength="23" lengthAdjust="spacingAndGlyphs">α-CD41</text>
<text x="441.8" y="111.3" font-size="7.3" stroke="#000" stroke-width="0.12" textLength="21.7" lengthAdjust="spacingAndGlyphs">(+) MK</text>
<text x="467.7" y="111.3" font-size="7.3" stroke="#000" stroke-width="0.12" textLength="18" lengthAdjust="spacingAndGlyphs">(-) MK</text>
<text x="7.2" y="142.4" font-size="10.8" stroke="#000" stroke-width="0.25" font-weight="bold">B</text>
<text x="40.1" y="153" font-size="8.8" stroke="#000" stroke-width="0.12" textLength="83.6" lengthAdjust="spacingAndGlyphs">Peripheral Parasitemia</text>
<line x1="34.4" y1="158.2" x2="34.4" y2="234.6" stroke="#333" stroke-width="1.3"/>
<line x1="31.2" y1="234.1" x2="34.4" y2="234.1" stroke="#000" stroke-width="1"/>
<text x="28" y="236.5" font-size="6.6" stroke="#000" stroke-width="0.12" text-anchor="end">0</text>
<line x1="31.2" y1="223.69" x2="34.4" y2="223.69" stroke="#000" stroke-width="1"/>
<text x="28" y="226.09" font-size="6.6" stroke="#000" stroke-width="0.12" text-anchor="end">5</text>
<line x1="31.2" y1="213.27" x2="34.4" y2="213.27" stroke="#000" stroke-width="1"/>
<text x="28" y="215.67" font-size="6.6" stroke="#000" stroke-width="0.12" text-anchor="end">10</text>
<line x1="31.2" y1="202.85" x2="34.4" y2="202.85" stroke="#000" stroke-width="1"/>
<text x="28" y="205.25" font-size="6.6" stroke="#000" stroke-width="0.12" text-anchor="end">15</text>
<line x1="31.2" y1="192.44" x2="34.4" y2="192.44" stroke="#000" stroke-width="1"/>
<text x="28" y="194.84" font-size="6.6" stroke="#000" stroke-width="0.12" text-anchor="end">20</text>
<line x1="31.2" y1="182.02" x2="34.4" y2="182.02" stroke="#000" stroke-width="1"/>
<text x="28" y="184.42" font-size="6.6" stroke="#000" stroke-width="0.12" text-anchor="end">25</text>
<line x1="31.2" y1="171.61" x2="34.4" y2="171.61" stroke="#000" stroke-width="1"/>
<text x="28" y="174.01" font-size="6.6" stroke="#000" stroke-width="0.12" text-anchor="end">30</text>
<line x1="31.2" y1="161.19" x2="34.4" y2="161.19" stroke="#000" stroke-width="1"/>
<text x="28" y="163.59" font-size="6.6" stroke="#000" stroke-width="0.12" text-anchor="end">35</text>
<text transform="translate(13.5,196.6) rotate(-90)" font-size="8.2" stroke="#000" stroke-width="0.15" text-anchor="middle" textLength="38.8" lengthAdjust="spacingAndGlyphs">% parasitemia</text>
<line x1="33.8" y1="234.1" x2="128.5" y2="234.1" stroke="#000" stroke-width="1.2"/>
<line x1="47.5" y1="212.8" x2="47.5" y2="210.4" stroke="#444" stroke-width="1"/>
<line x1="43.3" y1="210.4" x2="51.7" y2="210.4" stroke="#444" stroke-width="1.1"/>
<rect x="38.5" y="212.8" width="18" height="21.3" fill="#fff" stroke="#111" stroke-width="1.1"/>
<line x1="47.5" y1="234.1" x2="47.5" y2="236.6" stroke="#000" stroke-width="1"/>
<line x1="68.6" y1="212.8" x2="68.6" y2="209.8" stroke="#444" stroke-width="1"/>
<line x1="64.4" y1="209.8" x2="72.8" y2="209.8" stroke="#444" stroke-width="1.1"/>
<rect x="59.2" y="212.8" width="18.8" height="21.3" fill="#fff" stroke="#111" stroke-width="1.1"/>
<line x1="68.6" y1="234.1" x2="68.6" y2="236.6" stroke="#000" stroke-width="1"/>
<line x1="95.5" y1="211.3" x2="95.5" y2="208.7" stroke="#444" stroke-width="1"/>
<line x1="91.3" y1="208.7" x2="99.7" y2="208.7" stroke="#444" stroke-width="1.1"/>
<rect x="86.5" y="211.3" width="18" height="22.8" fill="#fff" stroke="#111" stroke-width="1.1"/>
<line x1="95.5" y1="234.1" x2="95.5" y2="236.6" stroke="#000" stroke-width="1"/>
<line x1="117" y1="215.2" x2="117" y2="213" stroke="#444" stroke-width="1"/>
<line x1="112.8" y1="213" x2="121.2" y2="213" stroke="#444" stroke-width="1.1"/>
<rect x="107.6" y="215.2" width="18.8" height="18.9" fill="#fff" stroke="#111" stroke-width="1.1"/>
<line x1="117" y1="234.1" x2="117" y2="236.6" stroke="#000" stroke-width="1"/>
<line x1="82" y1="160" x2="82" y2="234" stroke="#aaa" stroke-width="0.7" stroke-dasharray="0.8 0.8"/>
<path d="M40 205.5a1.6 1.6 0 1 0 3.2 0a1.6 1.6 0 1 0 -3.2 0M45.9 202.8a1.6 1.6 0 1 0 3.2 0a1.6 1.6 0 1 0 -3.2 0M51.4 200.5a1.6 1.6 0 1 0 3.2 0a1.6 1.6 0 1 0 -3.2 0M51.4 203.7a1.6 1.6 0 1 0 3.2 0a1.6 1.6 0 1 0 -3.2 0M38 214a1.6 1.6 0 1 0 3.2 0a1.6 1.6 0 1 0 -3.2 0M41.8 216.7a1.6 1.6 0 1 0 3.2 0a1.6 1.6 0 1 0 -3.2 0M41.8 219.9a1.6 1.6 0 1 0 3.2 0a1.6 1.6 0 1 0 -3.2 0M45.7 214.2a1.6 1.6 0 1 0 3.2 0a1.6 1.6 0 1 0 -3.2 0M45.7 218.7a1.6 1.6 0 1 0 3.2 0a1.6 1.6 0 1 0 -3.2 0M49.4 213a1.6 1.6 0 1 0 3.2 0a1.6 1.6 0 1 0 -3.2 0M49.4 216.3a1.6 1.6 0 1 0 3.2 0a1.6 1.6 0 1 0 -3.2 0M49.4 219.3a1.6 1.6 0 1 0 3.2 0a1.6 1.6 0 1 0 -3.2 0M53.3 213.8a1.6 1.6 0 1 0 3.2 0a1.6 1.6 0 1 0 -3.2 0M53.3 216.9a1.6 1.6 0 1 0 3.2 0a1.6 1.6 0 1 0 -3.2 0M43.4 212.5a1.6 1.6 0 1 0 3.2 0a1.6 1.6 0 1 0 -3.2 0M39.4 218a1.6 1.6 0 1 0 3.2 0a1.6 1.6 0 1 0 -3.2 0M47.9 210.8a1.6 1.6 0 1 0 3.2 0a1.6 1.6 0 1 0 -3.2 0" fill="none" stroke="#b0193c" stroke-width="1.2"/>
<path d="M67 172a1.6 1.6 0 1 0 3.2 0a1.6 1.6 0 1 0 -3.2 0M67 194.6a1.6 1.6 0 1 0 3.2 0a1.6 1.6 0 1 0 -3.2 0M67 205.2a1.6 1.6 0 1 0 3.2 0a1.6 1.6 0 1 0 -3.2 0M64.7 210.2a1.6 1.6 0 1 0 3.2 0a1.6 1.6 0 1 0 -3.2 0M59.4 214.2a1.6 1.6 0 1 0 3.2 0a1.6 1.6 0 1 0 -3.2 0M61.7 217.5a1.6 1.6 0 1 0 3.2 0a1.6 1.6 0 1 0 -3.2 0M64.7 214.6a1.6 1.6 0 1 0 3.2 0a1.6 1.6 0 1 0 -3.2 0M64.7 218.7a1.6 1.6 0 1 0 3.2 0a1.6 1.6 0 1 0 -3.2 0M64.7 222.8a1.6 1.6 0 1 0 3.2 0a1.6 1.6 0 1 0 -3.2 0M67.6 215.2a1.6 1.6 0 1 0 3.2 0a1.6 1.6 0 1 0 -3.2 0M69.7 212.2a1.6 1.6 0 1 0 3.2 0a1.6 1.6 0 1 0 -3.2 0M69.7 217.3a1.6 1.6 0 1 0 3.2 0a1.6 1.6 0 1 0 -3.2 0M69.7 220.1a1.6 1.6 0 1 0 3.2 0a1.6 1.6 0 1 0 -3.2 0M72.3 212.2a1.6 1.6 0 1 0 3.2 0a1.6 1.6 0 1 0 -3.2 0M73.5 215.2a1.6 1.6 0 1 0 3.2 0a1.6 1.6 0 1 0 -3.2 0M74.7 218.1a1.6 1.6 0 1 0 3.2 0a1.6 1.6 0 1 0 -3.2 0M59.4 217.5a1.6 1.6 0 1 0 3.2 0a1.6 1.6 0 1 0 -3.2 0M61.7 214a1.6 1.6 0 1 0 3.2 0a1.6 1.6 0 1 0 -3.2 0" fill="none" stroke="#b0193c" stroke-width="1.2"/>
<path d="M88 194a1.6 1.6 0 1 0 3.2 0a1.6 1.6 0 1 0 -3.2 0M93.9 195a1.6 1.6 0 1 0 3.2 0a1.6 1.6 0 1 0 -3.2 0M99.5 196.7a1.6 1.6 0 1 0 3.2 0a1.6 1.6 0 1 0 -3.2 0M88 198.5a1.6 1.6 0 1 0 3.2 0a1.6 1.6 0 1 0 -3.2 0M96.8 201.3a1.6 1.6 0 1 0 3.2 0a1.6 1.6 0 1 0 -3.2 0M91 204a1.6 1.6 0 1 0 3.2 0a1.6 1.6 0 1 0 -3.2 0M93.9 207a1.6 1.6 0 1 0 3.2 0a1.6 1.6 0 1 0 -3.2 0M93.9 211.6a1.6 1.6 0 1 0 3.2 0a1.6 1.6 0 1 0 -3.2 0M93.9 214.2a1.6 1.6 0 1 0 3.2 0a1.6 1.6 0 1 0 -3.2 0M86 217.3a1.6 1.6 0 1 0 3.2 0a1.6 1.6 0 1 0 -3.2 0M90 215.8a1.6 1.6 0 1 0 3.2 0a1.6 1.6 0 1 0 -3.2 0M90 219.9a1.6 1.6 0 1 0 3.2 0a1.6 1.6 0 1 0 -3.2 0M93.9 217.5a1.6 1.6 0 1 0 3.2 0a1.6 1.6 0 1 0 -3.2 0M93.9 221a1.6 1.6 0 1 0 3.2 0a1.6 1.6 0 1 0 -3.2 0M97.8 215.8a1.6 1.6 0 1 0 3.2 0a1.6 1.6 0 1 0 -3.2 0M97.8 219.3a1.6 1.6 0 1 0 3.2 0a1.6 1.6 0 1 0 -3.2 0M97.8 222.8a1.6 1.6 0 1 0 3.2 0a1.6 1.6 0 1 0 -3.2 0M101.5 215.2a1.6 1.6 0 1 0 3.2 0a1.6 1.6 0 1 0 -3.2 0M90 224.3a1.6 1.6 0 1 0 3.2 0a1.6 1.6 0 1 0 -3.2 0" fill="none" stroke="#34508a" stroke-width="1.2"/>
<path d="M115.4 196.2a1.6 1.6 0 1 0 3.2 0a1.6 1.6 0 1 0 -3.2 0M115.4 200.5a1.6 1.6 0 1 0 3.2 0a1.6 1.6 0 1 0 -3.2 0M109.5 206.6a1.6 1.6 0 1 0 3.2 0a1.6 1.6 0 1 0 -3.2 0M109.5 210.5a1.6 1.6 0 1 0 3.2 0a1.6 1.6 0 1 0 -3.2 0M109.5 214.2a1.6 1.6 0 1 0 3.2 0a1.6 1.6 0 1 0 -3.2 0M115.4 208.1a1.6 1.6 0 1 0 3.2 0a1.6 1.6 0 1 0 -3.2 0M115.4 211.6a1.6 1.6 0 1 0 3.2 0a1.6 1.6 0 1 0 -3.2 0M121.2 208.7a1.6 1.6 0 1 0 3.2 0a1.6 1.6 0 1 0 -3.2 0M121.2 212.2a1.6 1.6 0 1 0 3.2 0a1.6 1.6 0 1 0 -3.2 0M115.4 218.1a1.6 1.6 0 1 0 3.2 0a1.6 1.6 0 1 0 -3.2 0M112.3 221.6a1.6 1.6 0 1 0 3.2 0a1.6 1.6 0 1 0 -3.2 0M117.7 221a1.6 1.6 0 1 0 3.2 0a1.6 1.6 0 1 0 -3.2 0M117.7 224.8a1.6 1.6 0 1 0 3.2 0a1.6 1.6 0 1 0 -3.2 0M107.6 223.7a1.6 1.6 0 1 0 3.2 0a1.6 1.6 0 1 0 -3.2 0M122.7 222.8a1.6 1.6 0 1 0 3.2 0a1.6 1.6 0 1 0 -3.2 0M112.7 226.7a1.6 1.6 0 1 0 3.2 0a1.6 1.6 0 1 0 -3.2 0M115.4 229.8a1.6 1.6 0 1 0 3.2 0a1.6 1.6 0 1 0 -3.2 0" fill="none" stroke="#34508a" stroke-width="1.2"/>
<text transform="translate(50.1,243.6) rotate(-45)" font-size="7.6" stroke="#000" stroke-width="0.1" text-anchor="end" textLength="22" lengthAdjust="spacingAndGlyphs">Isotype</text>
<text transform="translate(71.2,243.6) rotate(-45)" font-size="7.6" stroke="#000" stroke-width="0.1" text-anchor="end" textLength="24.3" lengthAdjust="spacingAndGlyphs">α-CD41</text>
<text transform="translate(98.1,243.6) rotate(-45)" font-size="7.6" stroke="#000" stroke-width="0.1" text-anchor="end" textLength="20.3" lengthAdjust="spacingAndGlyphs">(+) MK</text>
<text transform="translate(119.6,243.6) rotate(-45)" font-size="7.6" stroke="#000" stroke-width="0.1" text-anchor="end" textLength="18" lengthAdjust="spacingAndGlyphs">(-) MK</text>
<text x="139.8" y="139.6" font-size="11.3" stroke="#000" stroke-width="0.25" font-weight="bold">C</text>
<text x="214.8" y="151.2" font-size="8.8" stroke="#000" stroke-width="0.12" text-anchor="middle">Spleen</text>
<text x="214.8" y="159.9" font-size="8.8" stroke="#000" stroke-width="0.12" text-anchor="middle" textLength="51.5" lengthAdjust="spacingAndGlyphs">Parasite Load</text>
<line x1="171.6" y1="165.8" x2="171.6" y2="234.6" stroke="#000" stroke-width="1.2"/>
<line x1="168.6" y1="168.4" x2="171.6" y2="168.4" stroke="#000" stroke-width="1"/>
<text x="167.4" y="170.6" font-size="6.4" stroke="#222" stroke-width="0.12" text-anchor="end" fill="#222">10<tspan font-size="3.6" dy="-2.2">7</tspan></text>
<line x1="170" y1="188.11" x2="171.6" y2="188.11" stroke="#000" stroke-width="0.6"/>
<line x1="170" y1="183.15" x2="171.6" y2="183.15" stroke="#000" stroke-width="0.6"/>
<line x1="170" y1="179.62" x2="171.6" y2="179.62" stroke="#000" stroke-width="0.6"/>
<line x1="170" y1="176.89" x2="171.6" y2="176.89" stroke="#000" stroke-width="0.6"/>
<line x1="170" y1="174.66" x2="171.6" y2="174.66" stroke="#000" stroke-width="0.6"/>
<line x1="170" y1="172.77" x2="171.6" y2="172.77" stroke="#000" stroke-width="0.6"/>
<line x1="170" y1="171.13" x2="171.6" y2="171.13" stroke="#000" stroke-width="0.6"/>
<line x1="170" y1="169.69" x2="171.6" y2="169.69" stroke="#000" stroke-width="0.6"/>
<line x1="168.6" y1="196.6" x2="171.6" y2="196.6" stroke="#000" stroke-width="1"/>
<text x="167.4" y="198.8" font-size="6.4" stroke="#222" stroke-width="0.12" text-anchor="end" fill="#222">10<tspan font-size="3.6" dy="-2.2">6</tspan></text>
<line x1="170" y1="216.31" x2="171.6" y2="216.31" stroke="#000" stroke-width="0.6"/>
<line x1="170" y1="211.35" x2="171.6" y2="211.35" stroke="#000" stroke-width="0.6"/>
<line x1="170" y1="207.82" x2="171.6" y2="207.82" stroke="#000" stroke-width="0.6"/>
<line x1="170" y1="205.09" x2="171.6" y2="205.09" stroke="#000" stroke-width="0.6"/>
<line x1="170" y1="202.86" x2="171.6" y2="202.86" stroke="#000" stroke-width="0.6"/>
<line x1="170" y1="200.97" x2="171.6" y2="200.97" stroke="#000" stroke-width="0.6"/>
<line x1="170" y1="199.33" x2="171.6" y2="199.33" stroke="#000" stroke-width="0.6"/>
<line x1="170" y1="197.89" x2="171.6" y2="197.89" stroke="#000" stroke-width="0.6"/>
<line x1="168.6" y1="224.8" x2="171.6" y2="224.8" stroke="#000" stroke-width="1"/>
<text x="167.4" y="227" font-size="6.4" stroke="#222" stroke-width="0.12" text-anchor="end" fill="#222">10<tspan font-size="3.6" dy="-2.2">5</tspan></text>
<line x1="170" y1="233.29" x2="171.6" y2="233.29" stroke="#000" stroke-width="0.6"/>
<line x1="170" y1="231.06" x2="171.6" y2="231.06" stroke="#000" stroke-width="0.6"/>
<line x1="170" y1="229.17" x2="171.6" y2="229.17" stroke="#000" stroke-width="0.6"/>
<line x1="170" y1="227.53" x2="171.6" y2="227.53" stroke="#000" stroke-width="0.6"/>
<line x1="170" y1="226.09" x2="171.6" y2="226.09" stroke="#000" stroke-width="0.6"/>
<text transform="translate(149.5,199.3) rotate(-90)" font-size="8.4" stroke="#000" stroke-width="0.15" text-anchor="middle" textLength="86.8" lengthAdjust="spacingAndGlyphs">Bioluminescence (p/sec/cm<tspan font-size="4.6" dy="-2.6">2</tspan><tspan dy="2.6">/sr)</tspan></text>
<line x1="171" y1="234.2" x2="257.6" y2="234.2" stroke="#000" stroke-width="1.2"/>
<line x1="183.9" y1="187" x2="183.9" y2="187" stroke="#222" stroke-width="1.1"/>
<line x1="183.9" y1="193.8" x2="183.9" y2="200.5" stroke="#222" stroke-width="1.1"/>
<line x1="179.9" y1="187" x2="187.9" y2="187" stroke="#222" stroke-width="1.1"/>
<line x1="179.9" y1="200.5" x2="187.9" y2="200.5" stroke="#222" stroke-width="1.1"/>
<rect x="176.1" y="187" width="15.6" height="6.8" fill="none" stroke="#222" stroke-width="1.1"/>
<line x1="176.1" y1="193.8" x2="191.7" y2="193.8" stroke="#222" stroke-width="1.3"/>
<line x1="203.05" y1="194.3" x2="203.05" y2="194.3" stroke="#222" stroke-width="1.1"/>
<line x1="203.05" y1="211" x2="203.05" y2="226.6" stroke="#222" stroke-width="1.1"/>
<line x1="199.05" y1="194.3" x2="207.05" y2="194.3" stroke="#222" stroke-width="1.1"/>
<line x1="199.05" y1="226.6" x2="207.05" y2="226.6" stroke="#222" stroke-width="1.1"/>
<rect x="195.3" y="194.3" width="15.5" height="16.7" fill="none" stroke="#222" stroke-width="1.1"/>
<line x1="195.3" y1="201" x2="210.8" y2="201" stroke="#222" stroke-width="1.3"/>
<line x1="227.1" y1="176.4" x2="227.1" y2="176.4" stroke="#222" stroke-width="1.1"/>
<line x1="227.1" y1="205.4" x2="227.1" y2="208.5" stroke="#222" stroke-width="1.1"/>
<line x1="223.1" y1="176.4" x2="231.1" y2="176.4" stroke="#222" stroke-width="1.1"/>
<line x1="223.1" y1="208.5" x2="231.1" y2="208.5" stroke="#222" stroke-width="1.1"/>
<rect x="219.2" y="176.4" width="15.8" height="29" fill="none" stroke="#222" stroke-width="1.1"/>
<line x1="219.2" y1="198.3" x2="235" y2="198.3" stroke="#222" stroke-width="1.3"/>
<line x1="245.95" y1="187.3" x2="245.95" y2="194.5" stroke="#222" stroke-width="1.1"/>
<line x1="245.95" y1="209.7" x2="245.95" y2="223.8" stroke="#222" stroke-width="1.1"/>
<line x1="241.95" y1="187.3" x2="249.95" y2="187.3" stroke="#222" stroke-width="1.1"/>
<line x1="241.95" y1="223.8" x2="249.95" y2="223.8" stroke="#222" stroke-width="1.1"/>
<rect x="238.3" y="194.5" width="15.3" height="15.2" fill="none" stroke="#222" stroke-width="1.1"/>
<line x1="238.3" y1="205.4" x2="253.6" y2="205.4" stroke="#222" stroke-width="1.3"/>
<path d="M178.5 188.3a1.6 1.6 0 1 0 3.2 0a1.6 1.6 0 1 0 -3.2 0M182.3 186.2a1.6 1.6 0 1 0 3.2 0a1.6 1.6 0 1 0 -3.2 0M185.7 185.7a1.6 1.6 0 1 0 3.2 0a1.6 1.6 0 1 0 -3.2 0M185.9 188a1.6 1.6 0 1 0 3.2 0a1.6 1.6 0 1 0 -3.2 0M176.6 195.5a1.6 1.6 0 1 0 3.2 0a1.6 1.6 0 1 0 -3.2 0M180.4 193.2a1.6 1.6 0 1 0 3.2 0a1.6 1.6 0 1 0 -3.2 0M184.1 194.3a1.6 1.6 0 1 0 3.2 0a1.6 1.6 0 1 0 -3.2 0M188 194.3a1.6 1.6 0 1 0 3.2 0a1.6 1.6 0 1 0 -3.2 0M182.3 200.5a1.6 1.6 0 1 0 3.2 0a1.6 1.6 0 1 0 -3.2 0" fill="none" stroke="#b0193c" stroke-width="1.2"/>
<path d="M197.5 194a1.6 1.6 0 1 0 3.2 0a1.6 1.6 0 1 0 -3.2 0M201.5 192.7a1.6 1.6 0 1 0 3.2 0a1.6 1.6 0 1 0 -3.2 0M205.4 194a1.6 1.6 0 1 0 3.2 0a1.6 1.6 0 1 0 -3.2 0M201.5 196.9a1.6 1.6 0 1 0 3.2 0a1.6 1.6 0 1 0 -3.2 0M199.7 208.3a1.6 1.6 0 1 0 3.2 0a1.6 1.6 0 1 0 -3.2 0M203.3 207.2a1.6 1.6 0 1 0 3.2 0a1.6 1.6 0 1 0 -3.2 0M201.5 212.8a1.6 1.6 0 1 0 3.2 0a1.6 1.6 0 1 0 -3.2 0M201.5 226.6a1.6 1.6 0 1 0 3.2 0a1.6 1.6 0 1 0 -3.2 0" fill="none" stroke="#b0193c" stroke-width="1.2"/>
<path d="M223.3 174.6a1.6 1.6 0 1 0 3.2 0a1.6 1.6 0 1 0 -3.2 0M226.9 174.6a1.6 1.6 0 1 0 3.2 0a1.6 1.6 0 1 0 -3.2 0M224.8 183.8a1.6 1.6 0 1 0 3.2 0a1.6 1.6 0 1 0 -3.2 0M224.8 195a1.6 1.6 0 1 0 3.2 0a1.6 1.6 0 1 0 -3.2 0M223.3 202.8a1.6 1.6 0 1 0 3.2 0a1.6 1.6 0 1 0 -3.2 0M226.9 204.3a1.6 1.6 0 1 0 3.2 0a1.6 1.6 0 1 0 -3.2 0M223.8 205.9a1.6 1.6 0 1 0 3.2 0a1.6 1.6 0 1 0 -3.2 0M225.3 208.5a1.6 1.6 0 1 0 3.2 0a1.6 1.6 0 1 0 -3.2 0M225.3 206.4a1.6 1.6 0 1 0 3.2 0a1.6 1.6 0 1 0 -3.2 0" fill="none" stroke="#34508a" stroke-width="1.2"/>
<path d="M244.3 187.3a1.6 1.6 0 1 0 3.2 0a1.6 1.6 0 1 0 -3.2 0M244.3 192.1a1.6 1.6 0 1 0 3.2 0a1.6 1.6 0 1 0 -3.2 0M242.4 196.9a1.6 1.6 0 1 0 3.2 0a1.6 1.6 0 1 0 -3.2 0M246 196.6a1.6 1.6 0 1 0 3.2 0a1.6 1.6 0 1 0 -3.2 0M244.3 205.4a1.6 1.6 0 1 0 3.2 0a1.6 1.6 0 1 0 -3.2 0M244.3 208.5a1.6 1.6 0 1 0 3.2 0a1.6 1.6 0 1 0 -3.2 0M240.4 210.5a1.6 1.6 0 1 0 3.2 0a1.6 1.6 0 1 0 -3.2 0M248.1 209.7a1.6 1.6 0 1 0 3.2 0a1.6 1.6 0 1 0 -3.2 0M244.3 223.8a1.6 1.6 0 1 0 3.2 0a1.6 1.6 0 1 0 -3.2 0" fill="none" stroke="#34508a" stroke-width="1.2"/>
<line x1="183.9" y1="234.2" x2="183.9" y2="236.8" stroke="#000" stroke-width="1"/>
<line x1="203.2" y1="234.2" x2="203.2" y2="236.8" stroke="#000" stroke-width="1"/>
<line x1="226.6" y1="234.2" x2="226.6" y2="236.8" stroke="#000" stroke-width="1"/>
<line x1="246" y1="234.2" x2="246" y2="236.8" stroke="#000" stroke-width="1"/>
<text transform="translate(186.5,243.6) rotate(-45)" font-size="7.6" stroke="#000" stroke-width="0.1" text-anchor="end" textLength="22" lengthAdjust="spacingAndGlyphs">Isotype</text>
<text transform="translate(205.8,243.6) rotate(-45)" font-size="7.6" stroke="#000" stroke-width="0.1" text-anchor="end" textLength="24.3" lengthAdjust="spacingAndGlyphs">α-CD41</text>
<text transform="translate(229.2,243.6) rotate(-45)" font-size="7.6" stroke="#000" stroke-width="0.1" text-anchor="end" textLength="20.3" lengthAdjust="spacingAndGlyphs">(+) MK</text>
<text transform="translate(248.6,243.6) rotate(-45)" font-size="7.6" stroke="#000" stroke-width="0.1" text-anchor="end" textLength="18" lengthAdjust="spacingAndGlyphs">(-) MK</text>
<line x1="214.8" y1="166" x2="214.8" y2="234" stroke="#aaa" stroke-width="0.7" stroke-dasharray="0.8 0.8"/>
<line x1="183.9" y1="170.7" x2="203.6" y2="170.7" stroke="#000" stroke-width="1"/>
<line x1="183.9" y1="169.5" x2="183.9" y2="171.9" stroke="#000" stroke-width="1"/>
<line x1="203.6" y1="169.5" x2="203.6" y2="171.9" stroke="#000" stroke-width="1"/>
<text x="181.8" y="168.2" font-size="5.2" stroke="#000" stroke-width="0.12" textLength="24" lengthAdjust="spacingAndGlyphs">p=0.0206</text>
<text x="267.8" y="139.6" font-size="11.3" stroke="#000" stroke-width="0.25" font-weight="bold">D</text>
<text x="342.3" y="151.2" font-size="8.8" stroke="#000" stroke-width="0.12" text-anchor="middle">Lung</text>
<text x="342.3" y="159.9" font-size="8.8" stroke="#000" stroke-width="0.12" text-anchor="middle" textLength="51.5" lengthAdjust="spacingAndGlyphs">Parasite Load</text>
<line x1="299.7" y1="165.8" x2="299.7" y2="234.6" stroke="#000" stroke-width="1.2"/>
<line x1="296.7" y1="168.3" x2="299.7" y2="168.3" stroke="#000" stroke-width="1"/>
<text x="295.5" y="170.5" font-size="6.4" stroke="#222" stroke-width="0.12" text-anchor="end" fill="#222">10<tspan font-size="3.6" dy="-2.2">8</tspan></text>
<line x1="298.1" y1="183.68" x2="299.7" y2="183.68" stroke="#000" stroke-width="0.6"/>
<line x1="298.1" y1="179.8" x2="299.7" y2="179.8" stroke="#000" stroke-width="0.6"/>
<line x1="298.1" y1="177.05" x2="299.7" y2="177.05" stroke="#000" stroke-width="0.6"/>
<line x1="298.1" y1="174.92" x2="299.7" y2="174.92" stroke="#000" stroke-width="0.6"/>
<line x1="298.1" y1="173.18" x2="299.7" y2="173.18" stroke="#000" stroke-width="0.6"/>
<line x1="298.1" y1="171.71" x2="299.7" y2="171.71" stroke="#000" stroke-width="0.6"/>
<line x1="298.1" y1="170.43" x2="299.7" y2="170.43" stroke="#000" stroke-width="0.6"/>
<line x1="298.1" y1="169.31" x2="299.7" y2="169.31" stroke="#000" stroke-width="0.6"/>
<line x1="296.7" y1="190.3" x2="299.7" y2="190.3" stroke="#000" stroke-width="1"/>
<text x="295.5" y="192.5" font-size="6.4" stroke="#222" stroke-width="0.12" text-anchor="end" fill="#222">10<tspan font-size="3.6" dy="-2.2">7</tspan></text>
<line x1="298.1" y1="205.68" x2="299.7" y2="205.68" stroke="#000" stroke-width="0.6"/>
<line x1="298.1" y1="201.8" x2="299.7" y2="201.8" stroke="#000" stroke-width="0.6"/>
<line x1="298.1" y1="199.05" x2="299.7" y2="199.05" stroke="#000" stroke-width="0.6"/>
<line x1="298.1" y1="196.92" x2="299.7" y2="196.92" stroke="#000" stroke-width="0.6"/>
<line x1="298.1" y1="195.18" x2="299.7" y2="195.18" stroke="#000" stroke-width="0.6"/>
<line x1="298.1" y1="193.71" x2="299.7" y2="193.71" stroke="#000" stroke-width="0.6"/>
<line x1="298.1" y1="192.43" x2="299.7" y2="192.43" stroke="#000" stroke-width="0.6"/>
<line x1="298.1" y1="191.31" x2="299.7" y2="191.31" stroke="#000" stroke-width="0.6"/>
<line x1="296.7" y1="212.3" x2="299.7" y2="212.3" stroke="#000" stroke-width="1"/>
<text x="295.5" y="214.5" font-size="6.4" stroke="#222" stroke-width="0.12" text-anchor="end" fill="#222">10<tspan font-size="3.6" dy="-2.2">6</tspan></text>
<line x1="298.1" y1="227.68" x2="299.7" y2="227.68" stroke="#000" stroke-width="0.6"/>
<line x1="298.1" y1="223.8" x2="299.7" y2="223.8" stroke="#000" stroke-width="0.6"/>
<line x1="298.1" y1="221.05" x2="299.7" y2="221.05" stroke="#000" stroke-width="0.6"/>
<line x1="298.1" y1="218.92" x2="299.7" y2="218.92" stroke="#000" stroke-width="0.6"/>
<line x1="298.1" y1="217.18" x2="299.7" y2="217.18" stroke="#000" stroke-width="0.6"/>
<line x1="298.1" y1="215.71" x2="299.7" y2="215.71" stroke="#000" stroke-width="0.6"/>
<line x1="298.1" y1="214.43" x2="299.7" y2="214.43" stroke="#000" stroke-width="0.6"/>
<line x1="298.1" y1="213.31" x2="299.7" y2="213.31" stroke="#000" stroke-width="0.6"/>
<line x1="296.7" y1="234.3" x2="299.7" y2="234.3" stroke="#000" stroke-width="1"/>
<text x="295.5" y="236.5" font-size="6.4" stroke="#222" stroke-width="0.12" text-anchor="end" fill="#222">10<tspan font-size="3.6" dy="-2.2">5</tspan></text>
<text transform="translate(277.4,199.3) rotate(-90)" font-size="8.4" stroke="#000" stroke-width="0.15" text-anchor="middle" textLength="86.8" lengthAdjust="spacingAndGlyphs">Bioluminescence (p/sec/cm<tspan font-size="4.6" dy="-2.6">2</tspan><tspan dy="2.6">/sr)</tspan></text>
<line x1="299.1" y1="234.2" x2="385.7" y2="234.2" stroke="#000" stroke-width="1.2"/>
<line x1="311.55" y1="183.2" x2="311.55" y2="187" stroke="#222" stroke-width="1.1"/>
<line x1="311.55" y1="195.3" x2="311.55" y2="202.5" stroke="#222" stroke-width="1.1"/>
<line x1="307.55" y1="183.2" x2="315.55" y2="183.2" stroke="#222" stroke-width="1.1"/>
<line x1="307.55" y1="202.5" x2="315.55" y2="202.5" stroke="#222" stroke-width="1.1"/>
<rect x="303.4" y="187" width="16.3" height="8.3" fill="none" stroke="#222" stroke-width="1.1"/>
<line x1="303.4" y1="192.6" x2="319.7" y2="192.6" stroke="#222" stroke-width="1.3"/>
<line x1="330.55" y1="187.5" x2="330.55" y2="190.2" stroke="#222" stroke-width="1.1"/>
<line x1="330.55" y1="207.1" x2="330.55" y2="209.7" stroke="#222" stroke-width="1.1"/>
<line x1="326.55" y1="187.5" x2="334.55" y2="187.5" stroke="#222" stroke-width="1.1"/>
<line x1="326.55" y1="209.7" x2="334.55" y2="209.7" stroke="#222" stroke-width="1.1"/>
<rect x="322.4" y="190.2" width="16.3" height="16.9" fill="none" stroke="#222" stroke-width="1.1"/>
<line x1="322.4" y1="196.6" x2="338.7" y2="196.6" stroke="#222" stroke-width="1.3"/>
<line x1="354.25" y1="192.5" x2="354.25" y2="192.5" stroke="#222" stroke-width="1.1"/>
<line x1="354.25" y1="206.6" x2="354.25" y2="212.6" stroke="#222" stroke-width="1.1"/>
<line x1="350.25" y1="192.5" x2="358.25" y2="192.5" stroke="#222" stroke-width="1.1"/>
<line x1="350.25" y1="212.6" x2="358.25" y2="212.6" stroke="#222" stroke-width="1.1"/>
<rect x="346.2" y="192.5" width="16.1" height="14.1" fill="none" stroke="#222" stroke-width="1.1"/>
<line x1="346.2" y1="202.4" x2="362.3" y2="202.4" stroke="#222" stroke-width="1.3"/>
<line x1="373.35" y1="188.3" x2="373.35" y2="197.8" stroke="#222" stroke-width="1.1"/>
<line x1="373.35" y1="208.8" x2="373.35" y2="213.4" stroke="#222" stroke-width="1.1"/>
<line x1="369.35" y1="188.3" x2="377.35" y2="188.3" stroke="#222" stroke-width="1.1"/>
<line x1="369.35" y1="213.4" x2="377.35" y2="213.4" stroke="#222" stroke-width="1.1"/>
<rect x="365.4" y="197.8" width="15.9" height="11" fill="none" stroke="#222" stroke-width="1.1"/>
<line x1="365.4" y1="201.3" x2="381.3" y2="201.3" stroke="#222" stroke-width="1.3"/>
<path d="M309.8 182.8a1.6 1.6 0 1 0 3.2 0a1.6 1.6 0 1 0 -3.2 0M307.9 186.8a1.6 1.6 0 1 0 3.2 0a1.6 1.6 0 1 0 -3.2 0M311.8 186.4a1.6 1.6 0 1 0 3.2 0a1.6 1.6 0 1 0 -3.2 0M309.8 190.7a1.6 1.6 0 1 0 3.2 0a1.6 1.6 0 1 0 -3.2 0M306.2 192.6a1.6 1.6 0 1 0 3.2 0a1.6 1.6 0 1 0 -3.2 0M309.8 192.9a1.6 1.6 0 1 0 3.2 0a1.6 1.6 0 1 0 -3.2 0M313.6 194.6a1.6 1.6 0 1 0 3.2 0a1.6 1.6 0 1 0 -3.2 0M306.2 196.2a1.6 1.6 0 1 0 3.2 0a1.6 1.6 0 1 0 -3.2 0M309.8 202.5a1.6 1.6 0 1 0 3.2 0a1.6 1.6 0 1 0 -3.2 0" fill="none" stroke="#b0193c" stroke-width="1.2"/>
<path d="M328.7 187.3a1.6 1.6 0 1 0 3.2 0a1.6 1.6 0 1 0 -3.2 0M327.2 190.2a1.6 1.6 0 1 0 3.2 0a1.6 1.6 0 1 0 -3.2 0M330.5 189.8a1.6 1.6 0 1 0 3.2 0a1.6 1.6 0 1 0 -3.2 0M328.7 193.8a1.6 1.6 0 1 0 3.2 0a1.6 1.6 0 1 0 -3.2 0M328.7 200.2a1.6 1.6 0 1 0 3.2 0a1.6 1.6 0 1 0 -3.2 0M327.2 207.1a1.6 1.6 0 1 0 3.2 0a1.6 1.6 0 1 0 -3.2 0M330.5 206.7a1.6 1.6 0 1 0 3.2 0a1.6 1.6 0 1 0 -3.2 0M328.7 209.7a1.6 1.6 0 1 0 3.2 0a1.6 1.6 0 1 0 -3.2 0" fill="none" stroke="#b0193c" stroke-width="1.2"/>
<path d="M350.7 191a1.6 1.6 0 1 0 3.2 0a1.6 1.6 0 1 0 -3.2 0M354.6 191a1.6 1.6 0 1 0 3.2 0a1.6 1.6 0 1 0 -3.2 0M352.7 196.9a1.6 1.6 0 1 0 3.2 0a1.6 1.6 0 1 0 -3.2 0M352.7 201.8a1.6 1.6 0 1 0 3.2 0a1.6 1.6 0 1 0 -3.2 0M352.7 204.1a1.6 1.6 0 1 0 3.2 0a1.6 1.6 0 1 0 -3.2 0M350.7 206.2a1.6 1.6 0 1 0 3.2 0a1.6 1.6 0 1 0 -3.2 0M354.6 206.2a1.6 1.6 0 1 0 3.2 0a1.6 1.6 0 1 0 -3.2 0M352.7 212.6a1.6 1.6 0 1 0 3.2 0a1.6 1.6 0 1 0 -3.2 0" fill="none" stroke="#34508a" stroke-width="1.2"/>
<path d="M371.7 188.3a1.6 1.6 0 1 0 3.2 0a1.6 1.6 0 1 0 -3.2 0M371.7 196.1a1.6 1.6 0 1 0 3.2 0a1.6 1.6 0 1 0 -3.2 0M371.7 200.3a1.6 1.6 0 1 0 3.2 0a1.6 1.6 0 1 0 -3.2 0M367.9 202.4a1.6 1.6 0 1 0 3.2 0a1.6 1.6 0 1 0 -3.2 0M375.5 199.9a1.6 1.6 0 1 0 3.2 0a1.6 1.6 0 1 0 -3.2 0M375.5 201.8a1.6 1.6 0 1 0 3.2 0a1.6 1.6 0 1 0 -3.2 0M371.7 207.5a1.6 1.6 0 1 0 3.2 0a1.6 1.6 0 1 0 -3.2 0M371.7 210.9a1.6 1.6 0 1 0 3.2 0a1.6 1.6 0 1 0 -3.2 0M371.7 213.4a1.6 1.6 0 1 0 3.2 0a1.6 1.6 0 1 0 -3.2 0" fill="none" stroke="#34508a" stroke-width="1.2"/>
<line x1="311.5" y1="234.2" x2="311.5" y2="236.8" stroke="#000" stroke-width="1"/>
<line x1="330.6" y1="234.2" x2="330.6" y2="236.8" stroke="#000" stroke-width="1"/>
<line x1="354.3" y1="234.2" x2="354.3" y2="236.8" stroke="#000" stroke-width="1"/>
<line x1="373.3" y1="234.2" x2="373.3" y2="236.8" stroke="#000" stroke-width="1"/>
<text transform="translate(314.1,243.6) rotate(-45)" font-size="7.6" stroke="#000" stroke-width="0.1" text-anchor="end" textLength="22" lengthAdjust="spacingAndGlyphs">Isotype</text>
<text transform="translate(333.2,243.6) rotate(-45)" font-size="7.6" stroke="#000" stroke-width="0.1" text-anchor="end" textLength="24.3" lengthAdjust="spacingAndGlyphs">α-CD41</text>
<text transform="translate(356.9,243.6) rotate(-45)" font-size="7.6" stroke="#000" stroke-width="0.1" text-anchor="end" textLength="20.3" lengthAdjust="spacingAndGlyphs">(+) MK</text>
<text transform="translate(375.9,243.6) rotate(-45)" font-size="7.6" stroke="#000" stroke-width="0.1" text-anchor="end" textLength="18" lengthAdjust="spacingAndGlyphs">(-) MK</text>
<line x1="342.6" y1="166" x2="342.6" y2="234" stroke="#aaa" stroke-width="0.7" stroke-dasharray="0.8 0.8"/>
<text x="395" y="140.3" font-size="11.3" stroke="#000" stroke-width="0.25" font-weight="bold">E</text>
<text x="469.8" y="151.2" font-size="8.8" stroke="#000" stroke-width="0.12" text-anchor="middle">Brain</text>
<text x="469.8" y="159.9" font-size="8.8" stroke="#000" stroke-width="0.12" text-anchor="middle" textLength="51.5" lengthAdjust="spacingAndGlyphs">Parasite Load</text>
<line x1="427.4" y1="165.8" x2="427.4" y2="234.6" stroke="#000" stroke-width="1.2"/>
<line x1="424.4" y1="168.5" x2="427.4" y2="168.5" stroke="#000" stroke-width="1"/>
<text x="423.2" y="170.7" font-size="6.4" stroke="#222" stroke-width="0.12" text-anchor="end" fill="#222">10<tspan font-size="3.6" dy="-2.2">6</tspan></text>
<line x1="425.8" y1="183.81" x2="427.4" y2="183.81" stroke="#000" stroke-width="0.6"/>
<line x1="425.8" y1="179.95" x2="427.4" y2="179.95" stroke="#000" stroke-width="0.6"/>
<line x1="425.8" y1="177.21" x2="427.4" y2="177.21" stroke="#000" stroke-width="0.6"/>
<line x1="425.8" y1="175.09" x2="427.4" y2="175.09" stroke="#000" stroke-width="0.6"/>
<line x1="425.8" y1="173.36" x2="427.4" y2="173.36" stroke="#000" stroke-width="0.6"/>
<line x1="425.8" y1="171.89" x2="427.4" y2="171.89" stroke="#000" stroke-width="0.6"/>
<line x1="425.8" y1="170.62" x2="427.4" y2="170.62" stroke="#000" stroke-width="0.6"/>
<line x1="425.8" y1="169.5" x2="427.4" y2="169.5" stroke="#000" stroke-width="0.6"/>
<line x1="424.4" y1="190.4" x2="427.4" y2="190.4" stroke="#000" stroke-width="1"/>
<text x="423.2" y="192.6" font-size="6.4" stroke="#222" stroke-width="0.12" text-anchor="end" fill="#222">10<tspan font-size="3.6" dy="-2.2">5</tspan></text>
<line x1="425.8" y1="205.71" x2="427.4" y2="205.71" stroke="#000" stroke-width="0.6"/>
<line x1="425.8" y1="201.85" x2="427.4" y2="201.85" stroke="#000" stroke-width="0.6"/>
<line x1="425.8" y1="199.11" x2="427.4" y2="199.11" stroke="#000" stroke-width="0.6"/>
<line x1="425.8" y1="196.99" x2="427.4" y2="196.99" stroke="#000" stroke-width="0.6"/>
<line x1="425.8" y1="195.26" x2="427.4" y2="195.26" stroke="#000" stroke-width="0.6"/>
<line x1="425.8" y1="193.79" x2="427.4" y2="193.79" stroke="#000" stroke-width="0.6"/>
<line x1="425.8" y1="192.52" x2="427.4" y2="192.52" stroke="#000" stroke-width="0.6"/>
<line x1="425.8" y1="191.4" x2="427.4" y2="191.4" stroke="#000" stroke-width="0.6"/>
<line x1="424.4" y1="212.3" x2="427.4" y2="212.3" stroke="#000" stroke-width="1"/>
<text x="423.2" y="214.5" font-size="6.4" stroke="#222" stroke-width="0.12" text-anchor="end" fill="#222">10<tspan font-size="3.6" dy="-2.2">4</tspan></text>
<line x1="425.8" y1="227.61" x2="427.4" y2="227.61" stroke="#000" stroke-width="0.6"/>
<line x1="425.8" y1="223.75" x2="427.4" y2="223.75" stroke="#000" stroke-width="0.6"/>
<line x1="425.8" y1="221.01" x2="427.4" y2="221.01" stroke="#000" stroke-width="0.6"/>
<line x1="425.8" y1="218.89" x2="427.4" y2="218.89" stroke="#000" stroke-width="0.6"/>
<line x1="425.8" y1="217.16" x2="427.4" y2="217.16" stroke="#000" stroke-width="0.6"/>
<line x1="425.8" y1="215.69" x2="427.4" y2="215.69" stroke="#000" stroke-width="0.6"/>
<line x1="425.8" y1="214.42" x2="427.4" y2="214.42" stroke="#000" stroke-width="0.6"/>
<line x1="425.8" y1="213.3" x2="427.4" y2="213.3" stroke="#000" stroke-width="0.6"/>
<line x1="424.4" y1="234.2" x2="427.4" y2="234.2" stroke="#000" stroke-width="1"/>
<text x="423.2" y="236.4" font-size="6.4" stroke="#222" stroke-width="0.12" text-anchor="end" fill="#222">10<tspan font-size="3.6" dy="-2.2">3</tspan></text>
<text transform="translate(405.1,199.3) rotate(-90)" font-size="8.4" stroke="#000" stroke-width="0.15" text-anchor="middle" textLength="86.8" lengthAdjust="spacingAndGlyphs">Bioluminescence (p/sec/cm<tspan font-size="4.6" dy="-2.6">2</tspan><tspan dy="2.6">/sr)</tspan></text>
<line x1="426.8" y1="234.2" x2="513.4" y2="234.2" stroke="#000" stroke-width="1.2"/>
<line x1="439.1" y1="180.4" x2="439.1" y2="194.3" stroke="#222" stroke-width="1.1"/>
<line x1="439.1" y1="204.5" x2="439.1" y2="204.5" stroke="#222" stroke-width="1.1"/>
<line x1="435.1" y1="180.4" x2="443.1" y2="180.4" stroke="#222" stroke-width="1.1"/>
<line x1="435.1" y1="204.5" x2="443.1" y2="204.5" stroke="#222" stroke-width="1.1"/>
<rect x="431.2" y="194.3" width="15.8" height="10.2" fill="none" stroke="#222" stroke-width="1.1"/>
<line x1="431.2" y1="199.4" x2="447" y2="199.4" stroke="#222" stroke-width="1.3"/>
<line x1="457.95" y1="198.3" x2="457.95" y2="198.3" stroke="#222" stroke-width="1.1"/>
<line x1="457.95" y1="215.2" x2="457.95" y2="229.8" stroke="#222" stroke-width="1.1"/>
<line x1="453.95" y1="198.3" x2="461.95" y2="198.3" stroke="#222" stroke-width="1.1"/>
<line x1="453.95" y1="229.8" x2="461.95" y2="229.8" stroke="#222" stroke-width="1.1"/>
<rect x="450.3" y="198.3" width="15.3" height="16.9" fill="none" stroke="#222" stroke-width="1.1"/>
<line x1="450.3" y1="205.6" x2="465.6" y2="205.6" stroke="#222" stroke-width="1.3"/>
<line x1="481.5" y1="186.2" x2="481.5" y2="189.3" stroke="#222" stroke-width="1.1"/>
<line x1="481.5" y1="205.9" x2="481.5" y2="205.9" stroke="#222" stroke-width="1.1"/>
<line x1="477.5" y1="186.2" x2="485.5" y2="186.2" stroke="#222" stroke-width="1.1"/>
<line x1="477.5" y1="205.9" x2="485.5" y2="205.9" stroke="#222" stroke-width="1.1"/>
<rect x="473.5" y="189.3" width="16" height="16.6" fill="none" stroke="#222" stroke-width="1.1"/>
<line x1="473.5" y1="198.6" x2="489.5" y2="198.6" stroke="#222" stroke-width="1.3"/>
<line x1="500.4" y1="173.4" x2="500.4" y2="188.4" stroke="#222" stroke-width="1.1"/>
<line x1="500.4" y1="194.5" x2="500.4" y2="210.7" stroke="#222" stroke-width="1.1"/>
<line x1="496.4" y1="173.4" x2="504.4" y2="173.4" stroke="#222" stroke-width="1.1"/>
<line x1="496.4" y1="210.7" x2="504.4" y2="210.7" stroke="#222" stroke-width="1.1"/>
<rect x="492.5" y="188.4" width="15.8" height="6.1" fill="none" stroke="#222" stroke-width="1.1"/>
<line x1="492.5" y1="192.4" x2="508.3" y2="192.4" stroke="#222" stroke-width="1.3"/>
<path d="M437.4 180.4a1.6 1.6 0 1 0 3.2 0a1.6 1.6 0 1 0 -3.2 0M437.4 193.8a1.6 1.6 0 1 0 3.2 0a1.6 1.6 0 1 0 -3.2 0M435.2 196.3a1.6 1.6 0 1 0 3.2 0a1.6 1.6 0 1 0 -3.2 0M439.2 196a1.6 1.6 0 1 0 3.2 0a1.6 1.6 0 1 0 -3.2 0M437.4 199.4a1.6 1.6 0 1 0 3.2 0a1.6 1.6 0 1 0 -3.2 0M437.4 201.5a1.6 1.6 0 1 0 3.2 0a1.6 1.6 0 1 0 -3.2 0M435.2 204.5a1.6 1.6 0 1 0 3.2 0a1.6 1.6 0 1 0 -3.2 0M439.2 205.2a1.6 1.6 0 1 0 3.2 0a1.6 1.6 0 1 0 -3.2 0M435.2 206.5a1.6 1.6 0 1 0 3.2 0a1.6 1.6 0 1 0 -3.2 0" fill="none" stroke="#b0193c" stroke-width="1.2"/>
<path d="M452.2 198.9a1.6 1.6 0 1 0 3.2 0a1.6 1.6 0 1 0 -3.2 0M456.1 197.5a1.6 1.6 0 1 0 3.2 0a1.6 1.6 0 1 0 -3.2 0M460 198.2a1.6 1.6 0 1 0 3.2 0a1.6 1.6 0 1 0 -3.2 0M454.3 206.2a1.6 1.6 0 1 0 3.2 0a1.6 1.6 0 1 0 -3.2 0M458 205.6a1.6 1.6 0 1 0 3.2 0a1.6 1.6 0 1 0 -3.2 0M454.3 216.1a1.6 1.6 0 1 0 3.2 0a1.6 1.6 0 1 0 -3.2 0M458 214.7a1.6 1.6 0 1 0 3.2 0a1.6 1.6 0 1 0 -3.2 0M456.1 229.8a1.6 1.6 0 1 0 3.2 0a1.6 1.6 0 1 0 -3.2 0" fill="none" stroke="#b0193c" stroke-width="1.2"/>
<path d="M479.7 186.2a1.6 1.6 0 1 0 3.2 0a1.6 1.6 0 1 0 -3.2 0M477.9 190.1a1.6 1.6 0 1 0 3.2 0a1.6 1.6 0 1 0 -3.2 0M481.6 189.3a1.6 1.6 0 1 0 3.2 0a1.6 1.6 0 1 0 -3.2 0M479.7 195.5a1.6 1.6 0 1 0 3.2 0a1.6 1.6 0 1 0 -3.2 0M481.6 202.6a1.6 1.6 0 1 0 3.2 0a1.6 1.6 0 1 0 -3.2 0M477.9 204.7a1.6 1.6 0 1 0 3.2 0a1.6 1.6 0 1 0 -3.2 0M481.6 204.9a1.6 1.6 0 1 0 3.2 0a1.6 1.6 0 1 0 -3.2 0M477.9 207.7a1.6 1.6 0 1 0 3.2 0a1.6 1.6 0 1 0 -3.2 0M481.6 206.8a1.6 1.6 0 1 0 3.2 0a1.6 1.6 0 1 0 -3.2 0" fill="none" stroke="#34508a" stroke-width="1.2"/>
<path d="M498.6 173.4a1.6 1.6 0 1 0 3.2 0a1.6 1.6 0 1 0 -3.2 0M498.6 187.3a1.6 1.6 0 1 0 3.2 0a1.6 1.6 0 1 0 -3.2 0M496.7 189.6a1.6 1.6 0 1 0 3.2 0a1.6 1.6 0 1 0 -3.2 0M500.4 189.6a1.6 1.6 0 1 0 3.2 0a1.6 1.6 0 1 0 -3.2 0M498.6 191.5a1.6 1.6 0 1 0 3.2 0a1.6 1.6 0 1 0 -3.2 0M502.6 192.7a1.6 1.6 0 1 0 3.2 0a1.6 1.6 0 1 0 -3.2 0M494.9 194.9a1.6 1.6 0 1 0 3.2 0a1.6 1.6 0 1 0 -3.2 0M498.6 194.5a1.6 1.6 0 1 0 3.2 0a1.6 1.6 0 1 0 -3.2 0M502.6 194.9a1.6 1.6 0 1 0 3.2 0a1.6 1.6 0 1 0 -3.2 0M498.6 210.7a1.6 1.6 0 1 0 3.2 0a1.6 1.6 0 1 0 -3.2 0" fill="none" stroke="#34508a" stroke-width="1.2"/>
<line x1="439" y1="234.2" x2="439" y2="236.8" stroke="#000" stroke-width="1"/>
<line x1="458.2" y1="234.2" x2="458.2" y2="236.8" stroke="#000" stroke-width="1"/>
<line x1="481.6" y1="234.2" x2="481.6" y2="236.8" stroke="#000" stroke-width="1"/>
<line x1="500.5" y1="234.2" x2="500.5" y2="236.8" stroke="#000" stroke-width="1"/>
<text transform="translate(441.6,243.6) rotate(-45)" font-size="7.6" stroke="#000" stroke-width="0.1" text-anchor="end" textLength="22" lengthAdjust="spacingAndGlyphs">Isotype</text>
<text transform="translate(460.8,243.6) rotate(-45)" font-size="7.6" stroke="#000" stroke-width="0.1" text-anchor="end" textLength="24.3" lengthAdjust="spacingAndGlyphs">α-CD41</text>
<text transform="translate(484.2,243.6) rotate(-45)" font-size="7.6" stroke="#000" stroke-width="0.1" text-anchor="end" textLength="20.3" lengthAdjust="spacingAndGlyphs">(+) MK</text>
<text transform="translate(503.1,243.6) rotate(-45)" font-size="7.6" stroke="#000" stroke-width="0.1" text-anchor="end" textLength="18" lengthAdjust="spacingAndGlyphs">(-) MK</text>
<line x1="470.5" y1="166" x2="470.5" y2="234" stroke="#aaa" stroke-width="0.7" stroke-dasharray="0.8 0.8"/>
<text x="73.6" y="282.3" font-size="11.4" stroke="#000" stroke-width="0.25" font-weight="bold">F</text>
<text x="108.5" y="291.6" font-size="7" stroke="#111" stroke-width="0.12" text-anchor="middle" fill="#111" textLength="21.1" lengthAdjust="spacingAndGlyphs">Control</text>
<text x="108.5" y="300.2" font-size="7" stroke="#111" stroke-width="0.12" text-anchor="middle" fill="#111" textLength="52.4" lengthAdjust="spacingAndGlyphs">(Platelet sufficient)</text>
<text x="166.6" y="291.6" font-size="7" stroke="#111" stroke-width="0.12" text-anchor="middle" fill="#111" textLength="30" lengthAdjust="spacingAndGlyphs">Anti-CD41</text>
<text x="166.6" y="300.2" font-size="7" stroke="#111" stroke-width="0.12" text-anchor="middle" fill="#111" textLength="52" lengthAdjust="spacingAndGlyphs">(Platelet Deficient)</text>
<text x="225.5" y="291.6" font-size="7" stroke="#111" stroke-width="0.12" text-anchor="middle" fill="#111" textLength="17.5" lengthAdjust="spacingAndGlyphs">(-) MK</text>
<text x="225.5" y="300.2" font-size="7" stroke="#111" stroke-width="0.12" text-anchor="middle" fill="#111" textLength="52" lengthAdjust="spacingAndGlyphs">(Platelet Deficient)</text>
<text x="267.8" y="283" font-size="11.4" stroke="#000" stroke-width="0.25" font-weight="bold">G</text>
<text x="303.3" y="291.6" font-size="7" stroke="#111" stroke-width="0.12" text-anchor="middle" fill="#111" textLength="21.1" lengthAdjust="spacingAndGlyphs">Control</text>
<text x="303.3" y="300.2" font-size="7" stroke="#111" stroke-width="0.12" text-anchor="middle" fill="#111" textLength="52.4" lengthAdjust="spacingAndGlyphs">(Platelet sufficient)</text>
<text x="361.7" y="291.6" font-size="7" stroke="#111" stroke-width="0.12" text-anchor="middle" fill="#111" textLength="30" lengthAdjust="spacingAndGlyphs">Anti-CD41</text>
<text x="361.7" y="300.2" font-size="7" stroke="#111" stroke-width="0.12" text-anchor="middle" fill="#111" textLength="52" lengthAdjust="spacingAndGlyphs">(Platelet Deficient)</text>
<text x="420.5" y="291.6" font-size="7" stroke="#111" stroke-width="0.12" text-anchor="middle" fill="#111" textLength="17.5" lengthAdjust="spacingAndGlyphs">(-) MK</text>
<text x="420.5" y="300.2" font-size="7" stroke="#111" stroke-width="0.12" text-anchor="middle" fill="#111" textLength="52" lengthAdjust="spacingAndGlyphs">(Platelet Deficient)</text>
<text transform="translate(86.9,325) rotate(-90)" font-size="7" stroke="#111" stroke-width="0.12" text-anchor="middle" fill="#111" textLength="16" lengthAdjust="spacingAndGlyphs">Naive</text>
<text transform="translate(86.9,362) rotate(-90)" font-size="7" stroke="#111" stroke-width="0.12" text-anchor="middle" fill="#111" textLength="36" lengthAdjust="spacingAndGlyphs"><tspan font-style="italic">PbA</tspan>-infected</text>
<text transform="translate(288,325) rotate(-90)" font-size="7" stroke="#111" stroke-width="0.12" text-anchor="middle" fill="#111" textLength="16" lengthAdjust="spacingAndGlyphs">Naive</text>
<text transform="translate(288,362) rotate(-90)" font-size="7" stroke="#111" stroke-width="0.12" text-anchor="middle" fill="#111" textLength="36" lengthAdjust="spacingAndGlyphs"><tspan font-style="italic">PbA</tspan>-infected</text>
<path d="M100 313.5 C105 310 111 310.2 114 312 C118 309 126 308.8 131 311" fill="none" stroke="#d89070" stroke-width="1" opacity="0.5"/>
<path d="M203 310 C209 308 213 309 215 309.5 C220 306.5 228 306 232.5 309 C235.5 311.5 236.3 316 236 320" fill="none" stroke="#e07a48" stroke-width="1.1" opacity="0.6"/>
<path d="M113.6 312.5 C117 309 124 308.8 130 311 C135 313.5 136.5 320 136 325 C135.5 332 131 337.5 124 338.5 C120 339 117.5 338 116 337 C113 338.5 108 339 103 337 C97 334.5 95 328 95.3 322 C95.6 316 99 312 104 311.5 C108 311 111.5 311.5 113.6 312.5 Z" fill="url(#og1)" filter="url(#of1)"/>
<path d="M163 312 C167 309 173 308.8 177 311 C181 313.5 182 319 181.5 324 C181 330 177 335 171 336 C168 336.5 165.5 335.5 164 334.5 C161 336 156 336.5 152.5 334 C149 331 147.8 326 148.2 321 C148.6 316 152 312.5 156.5 312 C159.5 311.7 161.5 311.8 163 312 Z" fill="url(#og2)" filter="url(#of2)"/>
<path d="M215 309.5 C219 306.5 226 306 231 308.5 C235 311 236 317 235.5 323 C235 331 231 338 224 340.5 C221 341.3 218 340.5 216.5 339 C213.5 341 208 341.5 203.5 339 C198.5 336 196 330 196.3 323 C196.6 316 200 311 206 310 C210 309.3 213 309.5 215 309.5 Z" fill="url(#og3)" filter="url(#of3)"/>
<path d="M114.5 349 C117 346.5 122 346 126 348 C131 351 132.5 357 132 363 C131.5 370 127 376 121 378.5 C118.5 379.3 116 378.8 115 377.5 C113 379 109 379 105.5 377 C100 373.5 97.8 367 98 361 C98.3 354 101.5 348.8 106.5 347.5 C110 346.7 112.8 347.3 114.5 349 Z" fill="url(#og4)" filter="url(#of4)"/>
<path d="M165.5 349.5 C168 347 173 346.8 177 349 C181 351.5 182.2 357 181.8 362 C181.4 368.5 178 373.5 172.5 375.3 C170 376 167.5 375.5 166 374.5 C164 375.8 160 376 156.5 374 C152 371.5 150.3 366 150.5 361 C150.7 355 153.5 350 158 348.5 C161 347.5 164 348 165.5 349.5 Z" fill="url(#og5)" filter="url(#of5)"/>
<path d="M218 348.5 C222 346 228 346 232 349 C235.5 352 236.2 358 235.6 363 C235 370 230.5 375.5 224 377 C220.5 377.7 217.5 376.5 215.5 374.5 C212.5 376.5 207 377 203 374.5 C199 372 198.2 366 198.5 360 C198.8 354 202 349.5 207.5 347.8 C212 346.5 215.5 347 218 348.5 Z" fill="url(#og6)" filter="url(#of6)"/>
<path d="M113.6 313 C112 318 114.5 324 113.5 330 C113 333 115 335.5 116 337" fill="none" stroke="#101428" stroke-width="4.5" opacity="0.75" filter="url(#bl2)"/>
<path d="M113.6 313 C112 318 114.5 324 113.5 330 C113 333 115 335.5 116 337" fill="none" stroke="#101428" stroke-width="1" opacity="0.75" filter="url(#bl3)"/>
<path d="M114.5 350 C113.5 356 116 363 114.5 370 C114.2 373 114.8 376 115 377.5" fill="none" stroke="#000000" stroke-width="4" opacity="0.7" filter="url(#bl2)"/>
<path d="M114.5 350 C113.5 356 116 363 114.5 370 C114.2 373 114.8 376 115 377.5" fill="none" stroke="#000000" stroke-width="1" opacity="0.7" filter="url(#bl3)"/>
<path d="M163 312.5 C161.5 318 164.5 325 163 331 C163 333 163.5 334 164 334.5" fill="none" stroke="#141c3c" stroke-width="5" opacity="0.8" filter="url(#bl2)"/>
<path d="M163 312.5 C161.5 318 164.5 325 163 331 C163 333 163.5 334 164 334.5" fill="none" stroke="#141c3c" stroke-width="1" opacity="0.8" filter="url(#bl3)"/>
<path d="M165.5 350 C164.5 356 167 363 165.5 369 C165.3 372 165.8 373.5 166 374.5" fill="none" stroke="#060a16" stroke-width="4.5" opacity="0.75" filter="url(#bl2)"/>
<path d="M165.5 350 C164.5 356 167 363 165.5 369 C165.3 372 165.8 373.5 166 374.5" fill="none" stroke="#060a16" stroke-width="1" opacity="0.75" filter="url(#bl3)"/>
<path d="M215 310 C213 316 216.5 322 214.5 329 C214 334 215.5 337 216.5 339" fill="none" stroke="#1a1620" stroke-width="4.5" opacity="0.75" filter="url(#bl2)"/>
<path d="M215 310 C213 316 216.5 322 214.5 329 C214 334 215.5 337 216.5 339" fill="none" stroke="#1a1620" stroke-width="1" opacity="0.75" filter="url(#bl3)"/>
<path d="M218 349 C216 356 219 363 216 369 C215.5 372 215.5 373.5 215.5 374.5" fill="none" stroke="#1a1210" stroke-width="4.5" opacity="0.7" filter="url(#bl2)"/>
<path d="M218 349 C216 356 219 363 216 369 C215.5 372 215.5 373.5 215.5 374.5" fill="none" stroke="#1a1210" stroke-width="1" opacity="0.7" filter="url(#bl3)"/>
<path d="M214.5 333 C215.5 336 216.5 338 217 339.5" fill="none" stroke="#c04a20" stroke-width="2" opacity="0.6" filter="url(#bl3)"/>
<path d="M100 318 C103 316 106 317 108 319" fill="none" stroke="#e8eef8" stroke-width="2.08" opacity="0.5599999999999999" filter="url(#bl3)" stroke-linecap="round"/>
<path d="M122 314 C126 313 129 315 131 318" fill="none" stroke="#e8eef8" stroke-width="2.34" opacity="0.48" filter="url(#bl3)" stroke-linecap="round"/>
<path d="M126 326 C128 328 130 330 131 333" fill="none" stroke="#dde6f4" stroke-width="1.82" opacity="0.4" filter="url(#bl3)" stroke-linecap="round"/>
<path d="M108 360 C110 358 111 356 112 353" fill="none" stroke="#c8d4ec" stroke-width="1.3" opacity="0.48" filter="url(#bl3)" stroke-linecap="round"/>
<path d="M118 362 C121 360 123 359 125 361" fill="none" stroke="#c8d4ec" stroke-width="1.17" opacity="0.44000000000000006" filter="url(#bl3)" stroke-linecap="round"/>
<path d="M104 372 C106 373 108 374 110 374" fill="none" stroke="#9aaad0" stroke-width="1.3" opacity="0.4" filter="url(#bl3)" stroke-linecap="round"/>
<path d="M170 315 C173 314 176 316 178 319" fill="none" stroke="#e8dfe8" stroke-width="2.6" opacity="0.4" filter="url(#bl3)" stroke-linecap="round"/>
<path d="M172 324 C175 325 177 327 178 330" fill="none" stroke="#d8ccd8" stroke-width="2.08" opacity="0.36000000000000004" filter="url(#bl3)" stroke-linecap="round"/>
<path d="M201 318 C204 316 207 316 209 318" fill="none" stroke="#f2f6fa" stroke-width="2.6" opacity="0.48" filter="url(#bl3)" stroke-linecap="round"/>
<path d="M222 316 C226 315 229 317 231 320" fill="none" stroke="#f2f6fa" stroke-width="2.86" opacity="0.48" filter="url(#bl3)" stroke-linecap="round"/>
<path d="M208 331 C210 333 212 335 213 337" fill="none" stroke="#f4f4f4" stroke-width="1.82" opacity="0.48" filter="url(#bl3)" stroke-linecap="round"/>
<path d="M172 358 C174 357 176 358 177 360" fill="none" stroke="#b8c4dc" stroke-width="1.3" opacity="0.4" filter="url(#bl3)" stroke-linecap="round"/>
<path d="M156 366 C158 368 160 370 162 371" fill="none" stroke="#a8b4d0" stroke-width="1.3" opacity="0.4" filter="url(#bl3)" stroke-linecap="round"/>
<path d="M223 358 C226 357 229 359 231 362" fill="none" stroke="#c8d2e8" stroke-width="1.82" opacity="0.44000000000000006" filter="url(#bl3)" stroke-linecap="round"/>
<path d="M204 356 C206 354 208 353 210 353" fill="none" stroke="#b0bcd8" stroke-width="1.56" opacity="0.4" filter="url(#bl3)" stroke-linecap="round"/>
<path d="M310.35 307.8 C320.07 307.8 322.5 313.27 322.5 321.32 C322.5 327.12 320.56 329.05 319.83 330.98 C319.34 337.42 315.21 340 310.35 340 C305.49 340 301.36 337.42 300.87 330.98 C300.14 329.05 298.2 327.12 298.2 321.32 C298.2 313.27 300.63 307.8 310.35 307.8 Z" fill="url(#og7)" filter="url(#of7)"/>
<path d="M310.35 329.05 L315.21 332.27 L310.35 335.49 L305.49 332.27 Z" fill="#f4f0f0" opacity="0.55"/>
<path d="M310.35 308.77 L310.35 337.42" fill="none" stroke="#5a3a50" stroke-width="0.6" opacity="0.5"/>
<path d="M302.33 330.02 Q310.35 327.12 318.37 330.02 M305.49 332.27 L310.35 335.49 L315.21 332.27 L310.35 329.05 Z M303.06 336.78 L307.43 334.2 M317.64 336.78 L313.27 334.2" fill="none" stroke="#5a3a50" stroke-width="0.5" opacity="0.5"/>
<path d="M362.8 307.9 C372.08 307.9 374.4 313.03 374.4 320.58 C374.4 326.02 372.54 327.83 371.85 329.64 C371.38 335.68 367.44 338.1 362.8 338.1 C358.16 338.1 354.22 335.68 353.75 329.64 C353.06 327.83 351.2 326.02 351.2 320.58 C351.2 313.03 353.52 307.9 362.8 307.9 Z" fill="url(#og8)" filter="url(#of8)"/>
<path d="M362.8 327.83 L367.44 330.85 L362.8 333.87 L358.16 330.85 Z" fill="#f4f0f0" opacity="0.55"/>
<path d="M362.8 308.81 L362.8 335.68" fill="none" stroke="#4a3858" stroke-width="0.6" opacity="0.5"/>
<path d="M355.14 328.74 Q362.8 326.02 370.46 328.74 M358.16 330.85 L362.8 333.87 L367.44 330.85 L362.8 327.83 Z M355.84 335.08 L360.02 332.66 M369.76 335.08 L365.58 332.66" fill="none" stroke="#4a3858" stroke-width="0.5" opacity="0.5"/>
<path d="M413.4 307.6 C423.64 307.6 426.2 313.07 426.2 321.12 C426.2 326.92 424.15 328.85 423.38 330.78 C422.87 337.22 418.52 339.8 413.4 339.8 C408.28 339.8 403.93 337.22 403.42 330.78 C402.65 328.85 400.6 326.92 400.6 321.12 C400.6 313.07 403.16 307.6 413.4 307.6 Z" fill="url(#og9)" filter="url(#of9)"/>
<path d="M413.4 328.85 L418.52 332.07 L413.4 335.29 L408.28 332.07 Z" fill="#f4f0f0" opacity="0.55"/>
<path d="M413.4 308.57 L413.4 337.22" fill="none" stroke="#3a2a38" stroke-width="0.6" opacity="0.7"/>
<path d="M404.95 329.82 Q413.4 326.92 421.85 329.82 M408.28 332.07 L413.4 335.29 L418.52 332.07 L413.4 328.85 Z M405.72 336.58 L410.33 334 M421.08 336.58 L416.47 334" fill="none" stroke="#3a2a38" stroke-width="0.5" opacity="0.7"/>
<path d="M309.4 345 C319.72 345 322.3 350.75 322.3 359.2 C322.3 365.28 320.24 367.31 319.46 369.34 C318.95 376.1 314.56 378.8 309.4 378.8 C304.24 378.8 299.85 376.1 299.34 369.34 C298.56 367.31 296.5 365.28 296.5 359.2 C296.5 350.75 299.08 345 309.4 345 Z" fill="url(#og10)" filter="url(#of10)"/>
<path d="M299.34 368.66 Q309.4 366.63 319.46 368.66 C318.95 376.1 314.56 378.8 309.4 378.8 C304.24 378.8 299.85 376.1 299.34 368.66 Z" fill="#a0a6b4" opacity="0.92"/>
<path d="M309.4 367.31 L314.56 370.69 L309.4 374.07 L304.24 370.69 Z" fill="#f4f0f0" opacity="0.55"/>
<path d="M309.4 346.01 L309.4 376.1" fill="none" stroke="#0e1830" stroke-width="0.6" opacity="0.5"/>
<path d="M300.89 368.32 Q309.4 365.28 317.91 368.32 M304.24 370.69 L309.4 374.07 L314.56 370.69 L309.4 367.31 Z M301.66 375.42 L306.3 372.72 M317.14 375.42 L312.5 372.72" fill="none" stroke="#0e1830" stroke-width="0.5" opacity="0.5"/>
<path d="M363.55 346 C372.47 346 374.7 351.29 374.7 359.06 C374.7 364.66 372.92 366.53 372.25 368.39 C371.8 374.61 368.01 377.1 363.55 377.1 C359.09 377.1 355.3 374.61 354.85 368.39 C354.18 366.53 352.4 364.66 352.4 359.06 C352.4 351.29 354.63 346 363.55 346 Z" fill="url(#og11)" filter="url(#of11)"/>
<path d="M354.85 367.77 Q363.55 365.9 372.25 367.77 C371.8 374.61 368.01 377.1 363.55 377.1 C359.09 377.1 355.3 374.61 354.85 367.77 Z" fill="#d0d3dc" opacity="0.65"/>
<path d="M363.55 366.53 L368.01 369.64 L363.55 372.75 L359.09 369.64 Z" fill="#f4f0f0" opacity="0.55"/>
<path d="M363.55 346.93 L363.55 374.61" fill="none" stroke="#2a3450" stroke-width="0.6" opacity="0.5"/>
<path d="M356.19 367.46 Q363.55 364.66 370.91 367.46 M359.09 369.64 L363.55 372.75 L368.01 369.64 L363.55 366.53 Z M356.86 373.99 L360.87 371.5 M370.24 373.99 L366.23 371.5" fill="none" stroke="#2a3450" stroke-width="0.5" opacity="0.5"/>
<path d="M413.9 346.6 C423.5 346.6 425.9 351.87 425.9 359.62 C425.9 365.2 423.98 367.06 423.26 368.92 C422.78 375.12 418.7 377.6 413.9 377.6 C409.1 377.6 405.02 375.12 404.54 368.92 C403.82 367.06 401.9 365.2 401.9 359.62 C401.9 351.87 404.3 346.6 413.9 346.6 Z" fill="url(#og12)" filter="url(#of12)"/>
<path d="M404.54 368.3 Q413.9 366.44 423.26 368.3 C422.78 375.12 418.7 377.6 413.9 377.6 C409.1 377.6 405.02 375.12 404.54 368.3 Z" fill="#e0ded6" opacity="0.55"/>
<path d="M413.9 367.06 L418.7 370.16 L413.9 373.26 L409.1 370.16 Z" fill="#f4f0f0" opacity="0.55"/>
<path d="M413.9 347.53 L413.9 375.12" fill="none" stroke="#302838" stroke-width="0.6" opacity="0.5"/>
<path d="M405.98 367.99 Q413.9 365.2 421.82 367.99 M409.1 370.16 L413.9 373.26 L418.7 370.16 L413.9 367.06 Z M406.7 374.5 L411.02 372.02 M421.1 374.5 L416.78 372.02" fill="none" stroke="#302838" stroke-width="0.5" opacity="0.5"/>
<text x="136" y="399.5" font-size="8.8" stroke="#000" stroke-width="0.12" textLength="66.5" lengthAdjust="spacingAndGlyphs">Lung Permeability</text>
<line x1="109.6" y1="404.3" x2="109.6" y2="468.1" stroke="#000" stroke-width="1.2"/>
<line x1="109" y1="467.5" x2="228.5" y2="467.5" stroke="#000" stroke-width="1.2"/>
<line x1="109.6" y1="467.5" x2="109.6" y2="470.3" stroke="#000" stroke-width="1"/>
<text x="109.6" y="478.4" font-size="6.8" stroke="#000" stroke-width="0.12" text-anchor="middle">0</text>
<line x1="128.93" y1="467.5" x2="128.93" y2="470.3" stroke="#000" stroke-width="1"/>
<text x="128.93" y="478.4" font-size="6.8" stroke="#000" stroke-width="0.12" text-anchor="middle">1</text>
<line x1="148.26" y1="467.5" x2="148.26" y2="470.3" stroke="#000" stroke-width="1"/>
<text x="148.26" y="478.4" font-size="6.8" stroke="#000" stroke-width="0.12" text-anchor="middle">2</text>
<line x1="167.59" y1="467.5" x2="167.59" y2="470.3" stroke="#000" stroke-width="1"/>
<text x="167.59" y="478.4" font-size="6.8" stroke="#000" stroke-width="0.12" text-anchor="middle">3</text>
<line x1="186.92" y1="467.5" x2="186.92" y2="470.3" stroke="#000" stroke-width="1"/>
<text x="186.92" y="478.4" font-size="6.8" stroke="#000" stroke-width="0.12" text-anchor="middle">4</text>
<line x1="206.25" y1="467.5" x2="206.25" y2="470.3" stroke="#000" stroke-width="1"/>
<text x="206.25" y="478.4" font-size="6.8" stroke="#000" stroke-width="0.12" text-anchor="middle">5</text>
<line x1="225.58" y1="467.5" x2="225.58" y2="470.3" stroke="#000" stroke-width="1"/>
<text x="225.58" y="478.4" font-size="6.8" stroke="#000" stroke-width="0.12" text-anchor="middle">6</text>
<line x1="196.58" y1="412.4" x2="215.53" y2="412.4" stroke="#222" stroke-width="1.1"/>
<line x1="215.53" y1="409.6" x2="215.53" y2="415.2" stroke="#222" stroke-width="1.1"/>
<rect x="109.6" y="406.9" width="86.98" height="11" fill="#a3002b"/>
<line x1="106.8" y1="412.4" x2="109.6" y2="412.4" stroke="#000" stroke-width="1"/>
<line x1="145.36" y1="425.7" x2="156.96" y2="425.7" stroke="#222" stroke-width="1.1"/>
<line x1="156.96" y1="422.9" x2="156.96" y2="428.5" stroke="#222" stroke-width="1.1"/>
<rect x="110.2" y="421" width="34.56" height="9.4" fill="#fff" stroke="#b0193c" stroke-width="1.2"/>
<line x1="106.8" y1="425.7" x2="109.6" y2="425.7" stroke="#000" stroke-width="1"/>
<line x1="184.99" y1="445.1" x2="197.94" y2="445.1" stroke="#222" stroke-width="1.1"/>
<line x1="197.94" y1="442.3" x2="197.94" y2="447.9" stroke="#222" stroke-width="1.1"/>
<rect x="109.6" y="440" width="75.39" height="10.2" fill="#2e4b7c"/>
<line x1="106.8" y1="445.1" x2="109.6" y2="445.1" stroke="#000" stroke-width="1"/>
<line x1="123.52" y1="458.2" x2="131.25" y2="458.2" stroke="#222" stroke-width="1.1"/>
<line x1="131.25" y1="455.4" x2="131.25" y2="461" stroke="#222" stroke-width="1.1"/>
<rect x="110.2" y="453.3" width="12.72" height="9.8" fill="#fff" stroke="#34508a" stroke-width="1.2"/>
<line x1="106.8" y1="458.2" x2="109.6" y2="458.2" stroke="#000" stroke-width="1"/>
<text x="102.7" y="414.9" font-size="7" stroke="#000" stroke-width="0.12" text-anchor="end" textLength="22.2" lengthAdjust="spacingAndGlyphs">Isotype</text>
<text x="102.7" y="428.2" font-size="7" stroke="#000" stroke-width="0.12" text-anchor="end" textLength="24.8" lengthAdjust="spacingAndGlyphs">α-CD41</text>
<text x="102.7" y="447.6" font-size="7" stroke="#000" stroke-width="0.12" text-anchor="end" textLength="21.4" lengthAdjust="spacingAndGlyphs">MK (+)</text>
<text x="102.7" y="460.7" font-size="7" stroke="#000" stroke-width="0.12" text-anchor="end" textLength="18.2" lengthAdjust="spacingAndGlyphs">MK (-)</text>
<line x1="109.6" y1="435.6" x2="225.6" y2="435.6" stroke="#aaa" stroke-width="0.7" stroke-dasharray="1.2 0.8"/>
<line x1="218.8" y1="412.3" x2="218.8" y2="425.6" stroke="#000" stroke-width="1.1"/>
<line x1="217.8" y1="412.3" x2="219.8" y2="412.3" stroke="#000" stroke-width="1"/>
<line x1="217.8" y1="425.6" x2="219.8" y2="425.6" stroke="#000" stroke-width="1"/>
<line x1="218.8" y1="445.4" x2="218.8" y2="458.5" stroke="#000" stroke-width="1.1"/>
<line x1="217.8" y1="445.4" x2="219.8" y2="445.4" stroke="#000" stroke-width="1"/>
<line x1="217.8" y1="458.5" x2="219.8" y2="458.5" stroke="#000" stroke-width="1"/>
<text x="220.8" y="420.6" font-size="5.2" stroke="#000" stroke-width="0.12" textLength="25.7" lengthAdjust="spacingAndGlyphs">p=0.0154</text>
<text x="220.8" y="453.1" font-size="5.2" stroke="#000" stroke-width="0.12" textLength="25.7" lengthAdjust="spacingAndGlyphs">p=0.0004</text>
<text x="152.1" y="488.5" font-size="6.4" stroke="#000" stroke-width="0.2" textLength="34.6" lengthAdjust="spacingAndGlyphs">Normalized OD<tspan font-size="3.8" dy="1.6">620</tspan></text>
<text x="332" y="399.5" font-size="8.8" stroke="#000" stroke-width="0.12" textLength="67.6" lengthAdjust="spacingAndGlyphs">Brain Permeability</text>
<line x1="306.5" y1="404.3" x2="306.5" y2="468.1" stroke="#000" stroke-width="1.2"/>
<line x1="305.9" y1="467.5" x2="425.4" y2="467.5" stroke="#000" stroke-width="1.2"/>
<line x1="306.5" y1="467.5" x2="306.5" y2="470.3" stroke="#000" stroke-width="1"/>
<text x="306.5" y="478.4" font-size="6.8" stroke="#000" stroke-width="0.12" text-anchor="middle">0.0</text>
<line x1="322.96" y1="467.5" x2="322.96" y2="470.3" stroke="#000" stroke-width="1"/>
<text x="322.96" y="478.4" font-size="6.8" stroke="#000" stroke-width="0.12" text-anchor="middle">0.2</text>
<line x1="339.42" y1="467.5" x2="339.42" y2="470.3" stroke="#000" stroke-width="1"/>
<text x="339.42" y="478.4" font-size="6.8" stroke="#000" stroke-width="0.12" text-anchor="middle">0.4</text>
<line x1="355.88" y1="467.5" x2="355.88" y2="470.3" stroke="#000" stroke-width="1"/>
<text x="355.88" y="478.4" font-size="6.8" stroke="#000" stroke-width="0.12" text-anchor="middle">0.6</text>
<line x1="372.34" y1="467.5" x2="372.34" y2="470.3" stroke="#000" stroke-width="1"/>
<text x="372.34" y="478.4" font-size="6.8" stroke="#000" stroke-width="0.12" text-anchor="middle">0.8</text>
<line x1="388.8" y1="467.5" x2="388.8" y2="470.3" stroke="#000" stroke-width="1"/>
<text x="388.8" y="478.4" font-size="6.8" stroke="#000" stroke-width="0.12" text-anchor="middle">1.0</text>
<line x1="405.26" y1="467.5" x2="405.26" y2="470.3" stroke="#000" stroke-width="1"/>
<text x="405.26" y="478.4" font-size="6.8" stroke="#000" stroke-width="0.12" text-anchor="middle">1.2</text>
<line x1="421.72" y1="467.5" x2="421.72" y2="470.3" stroke="#000" stroke-width="1"/>
<text x="421.72" y="478.4" font-size="6.8" stroke="#000" stroke-width="0.12" text-anchor="middle">1.4</text>
<line x1="386.33" y1="411.75" x2="398.35" y2="411.75" stroke="#222" stroke-width="1.1"/>
<line x1="398.35" y1="408.95" x2="398.35" y2="414.55" stroke="#222" stroke-width="1.1"/>
<rect x="306.5" y="406.5" width="79.83" height="10.5" fill="#a3002b"/>
<line x1="303.7" y1="411.75" x2="306.5" y2="411.75" stroke="#000" stroke-width="1"/>
<line x1="332.84" y1="425.1" x2="341.48" y2="425.1" stroke="#222" stroke-width="1.1"/>
<line x1="341.48" y1="422.3" x2="341.48" y2="427.9" stroke="#222" stroke-width="1.1"/>
<rect x="307.1" y="420.4" width="25.14" height="9.4" fill="#fff" stroke="#b0193c" stroke-width="1.2"/>
<line x1="303.7" y1="425.1" x2="306.5" y2="425.1" stroke="#000" stroke-width="1"/>
<line x1="373.16" y1="443.95" x2="386.74" y2="443.95" stroke="#222" stroke-width="1.1"/>
<line x1="386.74" y1="441.15" x2="386.74" y2="446.75" stroke="#222" stroke-width="1.1"/>
<rect x="306.5" y="438.7" width="66.66" height="10.5" fill="#2e4b7c"/>
<line x1="303.7" y1="443.95" x2="306.5" y2="443.95" stroke="#000" stroke-width="1"/>
<line x1="337.77" y1="457.6" x2="343.53" y2="457.6" stroke="#222" stroke-width="1.1"/>
<line x1="343.53" y1="454.8" x2="343.53" y2="460.4" stroke="#222" stroke-width="1.1"/>
<rect x="307.1" y="453.1" width="30.07" height="9" fill="#fff" stroke="#34508a" stroke-width="1.2"/>
<line x1="303.7" y1="457.6" x2="306.5" y2="457.6" stroke="#000" stroke-width="1"/>
<text x="299.8" y="414.25" font-size="7" stroke="#000" stroke-width="0.12" text-anchor="end" textLength="22.2" lengthAdjust="spacingAndGlyphs">Isotype</text>
<text x="299.8" y="427.6" font-size="7" stroke="#000" stroke-width="0.12" text-anchor="end" textLength="24.8" lengthAdjust="spacingAndGlyphs">α-CD41</text>
<text x="299.8" y="446.45" font-size="7" stroke="#000" stroke-width="0.12" text-anchor="end" textLength="21.4" lengthAdjust="spacingAndGlyphs">MK (+)</text>
<text x="299.8" y="460.1" font-size="7" stroke="#000" stroke-width="0.12" text-anchor="end" textLength="18.2" lengthAdjust="spacingAndGlyphs">MK (-)</text>
<line x1="306.5" y1="435" x2="422.7" y2="435" stroke="#aaa" stroke-width="0.7" stroke-dasharray="1.2 0.8"/>
<line x1="415.8" y1="411.2" x2="415.8" y2="424.6" stroke="#000" stroke-width="1.1"/>
<line x1="414.8" y1="411.2" x2="416.8" y2="411.2" stroke="#000" stroke-width="1"/>
<line x1="414.8" y1="424.6" x2="416.8" y2="424.6" stroke="#000" stroke-width="1"/>
<line x1="415.8" y1="444.4" x2="415.8" y2="457.9" stroke="#000" stroke-width="1.1"/>
<line x1="414.8" y1="444.4" x2="416.8" y2="444.4" stroke="#000" stroke-width="1"/>
<line x1="414.8" y1="457.9" x2="416.8" y2="457.9" stroke="#000" stroke-width="1"/>
<text x="418.3" y="420" font-size="5.2" stroke="#000" stroke-width="0.12" textLength="24" lengthAdjust="spacingAndGlyphs">p=0.0022</text>
<text x="418.3" y="452.3" font-size="5.2" stroke="#000" stroke-width="0.12" textLength="24" lengthAdjust="spacingAndGlyphs">p=0.0418</text>
<text x="349.2" y="488.5" font-size="6.4" stroke="#000" stroke-width="0.2" textLength="34.6" lengthAdjust="spacingAndGlyphs">Normalized OD<tspan font-size="3.8" dy="1.6">620</tspan></text>
<text x="119.6" y="512.6" font-size="11.4" stroke="#000" stroke-width="0.25" font-weight="bold">H</text>
<rect x="181" y="530.5" width="30.5" height="83" fill="#e5e5e5"/>
<line x1="150.5" y1="527" x2="150.5" y2="615.8" stroke="#000" stroke-width="1.2"/>
<line x1="149.9" y1="613.5" x2="251.15" y2="613.5" stroke="#000" stroke-width="1.2"/>
<line x1="147.1" y1="613.5" x2="150.5" y2="613.5" stroke="#000" stroke-width="1"/>
<text x="143.5" y="615.9" font-size="6.8" stroke="#000" stroke-width="0.12" text-anchor="end">0</text>
<line x1="147.1" y1="596.9" x2="150.5" y2="596.9" stroke="#000" stroke-width="1"/>
<text x="143.5" y="599.3" font-size="6.8" stroke="#000" stroke-width="0.12" text-anchor="end">20</text>
<line x1="147.1" y1="580.3" x2="150.5" y2="580.3" stroke="#000" stroke-width="1"/>
<text x="143.5" y="582.7" font-size="6.8" stroke="#000" stroke-width="0.12" text-anchor="end">40</text>
<line x1="147.1" y1="563.7" x2="150.5" y2="563.7" stroke="#000" stroke-width="1"/>
<text x="143.5" y="566.1" font-size="6.8" stroke="#000" stroke-width="0.12" text-anchor="end">60</text>
<line x1="147.1" y1="547.1" x2="150.5" y2="547.1" stroke="#000" stroke-width="1"/>
<text x="143.5" y="549.5" font-size="6.8" stroke="#000" stroke-width="0.12" text-anchor="end">80</text>
<line x1="147.1" y1="530.5" x2="150.5" y2="530.5" stroke="#000" stroke-width="1"/>
<text x="143.5" y="532.9" font-size="6.8" stroke="#000" stroke-width="0.12" text-anchor="end">100</text>
<line x1="150.5" y1="613.5" x2="150.5" y2="616.2" stroke="#000" stroke-width="1"/>
<text x="150.5" y="626" font-size="6.8" stroke="#000" stroke-width="0.12" text-anchor="middle">0</text>
<line x1="162.7" y1="613.5" x2="162.7" y2="616.2" stroke="#000" stroke-width="1"/>
<text x="162.7" y="626" font-size="6.8" stroke="#000" stroke-width="0.12" text-anchor="middle">2</text>
<line x1="174.9" y1="613.5" x2="174.9" y2="616.2" stroke="#000" stroke-width="1"/>
<text x="174.9" y="626" font-size="6.8" stroke="#000" stroke-width="0.12" text-anchor="middle">4</text>
<line x1="187.1" y1="613.5" x2="187.1" y2="616.2" stroke="#000" stroke-width="1"/>
<text x="187.1" y="626" font-size="6.8" stroke="#000" stroke-width="0.12" text-anchor="middle">6</text>
<line x1="199.3" y1="613.5" x2="199.3" y2="616.2" stroke="#000" stroke-width="1"/>
<text x="199.3" y="626" font-size="6.8" stroke="#000" stroke-width="0.12" text-anchor="middle">8</text>
<line x1="211.5" y1="613.5" x2="211.5" y2="616.2" stroke="#000" stroke-width="1"/>
<text x="211.5" y="626" font-size="6.8" stroke="#000" stroke-width="0.12" text-anchor="middle">10</text>
<line x1="223.7" y1="613.5" x2="223.7" y2="616.2" stroke="#000" stroke-width="1"/>
<text x="223.7" y="626" font-size="6.8" stroke="#000" stroke-width="0.12" text-anchor="middle">12</text>
<line x1="235.9" y1="613.5" x2="235.9" y2="616.2" stroke="#000" stroke-width="1"/>
<text x="235.9" y="626" font-size="6.8" stroke="#000" stroke-width="0.12" text-anchor="middle">14</text>
<line x1="248.1" y1="613.5" x2="248.1" y2="616.2" stroke="#000" stroke-width="1"/>
<text x="248.1" y="626" font-size="6.8" stroke="#000" stroke-width="0.12" text-anchor="middle">16</text>
<path d="M150.5 530.5 L187.1 530.5 L187.1 542.37 L193.2 542.37 L193.2 566.11 L199.3 566.11 L199.3 577.89 L248.1 577.89" fill="none" stroke="#b0304f" stroke-width="1.3"/>
<path d="M150.5 530.5 L174.9 530.5 L174.9 536.06 L187.1 536.06 L187.1 552.66 L193.2 552.66 L193.2 602.46 L199.3 602.46 L199.3 607.94 L205.4 607.94 L205.4 613.5" fill="none" stroke="#7cbf5a" stroke-width="1.3"/>
<circle cx="248.1" cy="577.89" r="1.4" fill="#b0304f"/>
<text x="220.8" y="574.2" font-size="5.4" stroke="#000" stroke-width="0.12" textLength="24.9" lengthAdjust="spacingAndGlyphs">p=0.0025</text>
<text x="175" y="638" font-size="8.8" stroke="#111" stroke-width="0.35" fill="#111" textLength="51.5" lengthAdjust="spacingAndGlyphs">Days post-infection</text>
<text transform="translate(126.2,570.5) rotate(-90)" font-size="8.6" stroke="#111" stroke-width="0.3" text-anchor="middle" fill="#111" textLength="34.7" lengthAdjust="spacingAndGlyphs">Survival (%)</text>
<line x1="152.9" y1="519.7" x2="164.4" y2="519.7" stroke="#7cbf5a" stroke-width="1.2"/>
<line x1="195.8" y1="519.7" x2="208" y2="519.7" stroke="#b0304f" stroke-width="1.2"/>
<text x="168.8" y="521.5" font-size="5.4" stroke="#000" stroke-width="0.12" textLength="16.8" lengthAdjust="spacingAndGlyphs">Isotype</text>
<text x="210.4" y="522.3" font-size="7.4" stroke="#000" stroke-width="0.12" textLength="23.1" lengthAdjust="spacingAndGlyphs">α-CD41</text>
<text x="268.3" y="513.3" font-size="11.4" stroke="#000" stroke-width="0.25" font-weight="bold">I</text>
<rect x="329.5" y="530.5" width="30.5" height="83" fill="#e5e5e5"/>
<line x1="299" y1="527" x2="299" y2="615.8" stroke="#000" stroke-width="1.2"/>
<line x1="298.4" y1="613.5" x2="399.65" y2="613.5" stroke="#000" stroke-width="1.2"/>
<line x1="295.6" y1="613.5" x2="299" y2="613.5" stroke="#000" stroke-width="1"/>
<text x="292" y="615.9" font-size="6.8" stroke="#000" stroke-width="0.12" text-anchor="end">0</text>
<line x1="295.6" y1="596.9" x2="299" y2="596.9" stroke="#000" stroke-width="1"/>
<text x="292" y="599.3" font-size="6.8" stroke="#000" stroke-width="0.12" text-anchor="end">20</text>
<line x1="295.6" y1="580.3" x2="299" y2="580.3" stroke="#000" stroke-width="1"/>
<text x="292" y="582.7" font-size="6.8" stroke="#000" stroke-width="0.12" text-anchor="end">40</text>
<line x1="295.6" y1="563.7" x2="299" y2="563.7" stroke="#000" stroke-width="1"/>
<text x="292" y="566.1" font-size="6.8" stroke="#000" stroke-width="0.12" text-anchor="end">60</text>
<line x1="295.6" y1="547.1" x2="299" y2="547.1" stroke="#000" stroke-width="1"/>
<text x="292" y="549.5" font-size="6.8" stroke="#000" stroke-width="0.12" text-anchor="end">80</text>
<line x1="295.6" y1="530.5" x2="299" y2="530.5" stroke="#000" stroke-width="1"/>
<text x="292" y="532.9" font-size="6.8" stroke="#000" stroke-width="0.12" text-anchor="end">100</text>
<line x1="299" y1="613.5" x2="299" y2="616.2" stroke="#000" stroke-width="1"/>
<text x="299" y="626" font-size="6.8" stroke="#000" stroke-width="0.12" text-anchor="middle">0</text>
<line x1="311.2" y1="613.5" x2="311.2" y2="616.2" stroke="#000" stroke-width="1"/>
<text x="311.2" y="626" font-size="6.8" stroke="#000" stroke-width="0.12" text-anchor="middle">2</text>
<line x1="323.4" y1="613.5" x2="323.4" y2="616.2" stroke="#000" stroke-width="1"/>
<text x="323.4" y="626" font-size="6.8" stroke="#000" stroke-width="0.12" text-anchor="middle">4</text>
<line x1="335.6" y1="613.5" x2="335.6" y2="616.2" stroke="#000" stroke-width="1"/>
<text x="335.6" y="626" font-size="6.8" stroke="#000" stroke-width="0.12" text-anchor="middle">6</text>
<line x1="347.8" y1="613.5" x2="347.8" y2="616.2" stroke="#000" stroke-width="1"/>
<text x="347.8" y="626" font-size="6.8" stroke="#000" stroke-width="0.12" text-anchor="middle">8</text>
<line x1="360" y1="613.5" x2="360" y2="616.2" stroke="#000" stroke-width="1"/>
<text x="360" y="626" font-size="6.8" stroke="#000" stroke-width="0.12" text-anchor="middle">10</text>
<line x1="372.2" y1="613.5" x2="372.2" y2="616.2" stroke="#000" stroke-width="1"/>
<text x="372.2" y="626" font-size="6.8" stroke="#000" stroke-width="0.12" text-anchor="middle">12</text>
<line x1="384.4" y1="613.5" x2="384.4" y2="616.2" stroke="#000" stroke-width="1"/>
<text x="384.4" y="626" font-size="6.8" stroke="#000" stroke-width="0.12" text-anchor="middle">14</text>
<line x1="396.6" y1="613.5" x2="396.6" y2="616.2" stroke="#000" stroke-width="1"/>
<text x="396.6" y="626" font-size="6.8" stroke="#000" stroke-width="0.12" text-anchor="middle">16</text>
<path d="M299 530.5 L329.5 530.5 L329.5 538.05 L335.6 538.05 L335.6 545.61 L353.9 545.61 L353.9 553.16 L360 553.16 L360 560.71 L366.1 560.71 L366.1 575.74 L378.3 575.74 L378.3 598.39 L390.5 598.39 L390.5 605.95 L396.6 605.95" fill="none" stroke="#3a5a90" stroke-width="1.3"/>
<path d="M299 530.5 L329.5 530.5 L329.5 536.89 L335.6 536.89 L335.6 556.06 L341.7 556.06 L341.7 587.94 L347.8 587.94 L347.8 594.33 L353.9 594.33 L353.9 600.72 L360 600.72 L360 613.5" fill="none" stroke="#7cbf5a" stroke-width="1.3"/>
<circle cx="396.6" cy="605.95" r="1.4" fill="#3a5a90"/>
<text x="369" y="574.2" font-size="5.4" stroke="#000" stroke-width="0.12" textLength="24.8" lengthAdjust="spacingAndGlyphs">p=0.0011</text>
<text x="323.3" y="638" font-size="8.8" stroke="#111" stroke-width="0.35" fill="#111" textLength="51.9" lengthAdjust="spacingAndGlyphs">Days post-infection</text>
<text transform="translate(274.6,570.5) rotate(-90)" font-size="8.6" stroke="#111" stroke-width="0.3" text-anchor="middle" fill="#111" textLength="34.7" lengthAdjust="spacingAndGlyphs">Survival (%)</text>
<line x1="301.7" y1="519.7" x2="313.8" y2="519.7" stroke="#7cbf5a" stroke-width="1.2"/>
<line x1="345.6" y1="519.7" x2="357.5" y2="519.7" stroke="#3a5a90" stroke-width="1.2"/>
<text x="317.9" y="521.6" font-size="5.4" stroke="#000" stroke-width="0.12" textLength="17" lengthAdjust="spacingAndGlyphs">MK (+)</text>
<text x="360.2" y="521.6" font-size="5.4" stroke="#000" stroke-width="0.12" textLength="15" lengthAdjust="spacingAndGlyphs">MK (-)</text>
</svg></body></html>
